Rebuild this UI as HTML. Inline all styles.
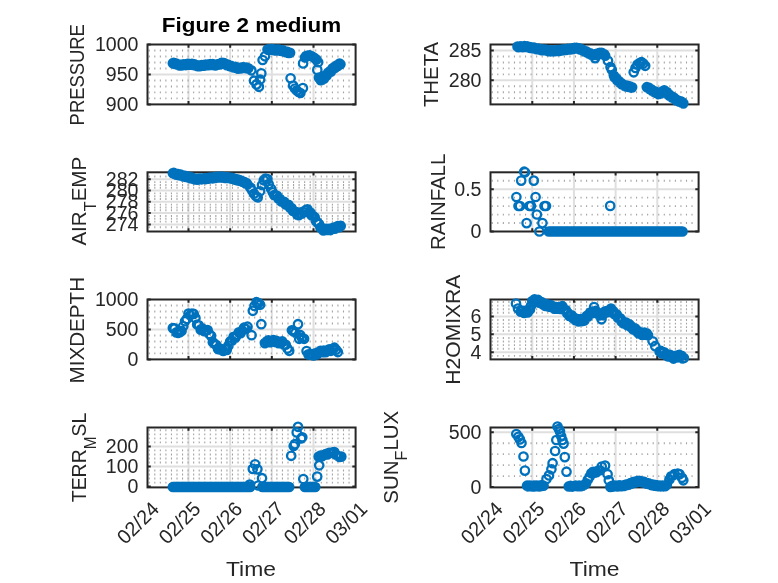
<!DOCTYPE html>
<html><head><meta charset="utf-8"><style>
html,body{margin:0;padding:0;background:#fff;width:778px;height:583px;overflow:hidden}
svg{display:block;font-family:"Liberation Sans", sans-serif;will-change:transform}
</style></head><body>
<svg width="778" height="583" viewBox="0 0 778 583">
<rect x="0" y="0" width="778" height="583" fill="#fff"/>
<path d="M147.50 74.45H355.60M188.50 44.50V104.40M230.17 44.50V104.40M271.84 44.50V104.40M313.51 44.50V104.40" stroke="#dfdfdf" stroke-width="2" fill="none"/>
<path d="M148.70 97.46h1.1v1.9h-1.1zM154.25 97.46h1.1v1.9h-1.1zM159.80 97.46h1.1v1.9h-1.1zM165.35 97.46h1.1v1.9h-1.1zM170.90 97.46h1.1v1.9h-1.1zM176.45 97.46h1.1v1.9h-1.1zM182.00 97.46h1.1v1.9h-1.1zM187.55 97.46h1.1v1.9h-1.1zM193.10 97.46h1.1v1.9h-1.1zM198.65 97.46h1.1v1.9h-1.1zM204.20 97.46h1.1v1.9h-1.1zM209.75 97.46h1.1v1.9h-1.1zM215.30 97.46h1.1v1.9h-1.1zM220.85 97.46h1.1v1.9h-1.1zM226.40 97.46h1.1v1.9h-1.1zM231.95 97.46h1.1v1.9h-1.1zM237.50 97.46h1.1v1.9h-1.1zM243.05 97.46h1.1v1.9h-1.1zM248.60 97.46h1.1v1.9h-1.1zM254.15 97.46h1.1v1.9h-1.1zM259.70 97.46h1.1v1.9h-1.1zM265.25 97.46h1.1v1.9h-1.1zM270.80 97.46h1.1v1.9h-1.1zM276.35 97.46h1.1v1.9h-1.1zM281.90 97.46h1.1v1.9h-1.1zM287.45 97.46h1.1v1.9h-1.1zM293.00 97.46h1.1v1.9h-1.1zM298.55 97.46h1.1v1.9h-1.1zM304.10 97.46h1.1v1.9h-1.1zM309.65 97.46h1.1v1.9h-1.1zM315.20 97.46h1.1v1.9h-1.1zM320.75 97.46h1.1v1.9h-1.1zM326.30 97.46h1.1v1.9h-1.1zM331.85 97.46h1.1v1.9h-1.1zM337.40 97.46h1.1v1.9h-1.1zM342.95 97.46h1.1v1.9h-1.1zM348.50 97.46h1.1v1.9h-1.1zM148.70 91.47h1.1v1.9h-1.1zM154.25 91.47h1.1v1.9h-1.1zM159.80 91.47h1.1v1.9h-1.1zM165.35 91.47h1.1v1.9h-1.1zM170.90 91.47h1.1v1.9h-1.1zM176.45 91.47h1.1v1.9h-1.1zM182.00 91.47h1.1v1.9h-1.1zM187.55 91.47h1.1v1.9h-1.1zM193.10 91.47h1.1v1.9h-1.1zM198.65 91.47h1.1v1.9h-1.1zM204.20 91.47h1.1v1.9h-1.1zM209.75 91.47h1.1v1.9h-1.1zM215.30 91.47h1.1v1.9h-1.1zM220.85 91.47h1.1v1.9h-1.1zM226.40 91.47h1.1v1.9h-1.1zM231.95 91.47h1.1v1.9h-1.1zM237.50 91.47h1.1v1.9h-1.1zM243.05 91.47h1.1v1.9h-1.1zM248.60 91.47h1.1v1.9h-1.1zM254.15 91.47h1.1v1.9h-1.1zM259.70 91.47h1.1v1.9h-1.1zM265.25 91.47h1.1v1.9h-1.1zM270.80 91.47h1.1v1.9h-1.1zM276.35 91.47h1.1v1.9h-1.1zM281.90 91.47h1.1v1.9h-1.1zM287.45 91.47h1.1v1.9h-1.1zM293.00 91.47h1.1v1.9h-1.1zM298.55 91.47h1.1v1.9h-1.1zM304.10 91.47h1.1v1.9h-1.1zM309.65 91.47h1.1v1.9h-1.1zM315.20 91.47h1.1v1.9h-1.1zM320.75 91.47h1.1v1.9h-1.1zM326.30 91.47h1.1v1.9h-1.1zM331.85 91.47h1.1v1.9h-1.1zM337.40 91.47h1.1v1.9h-1.1zM342.95 91.47h1.1v1.9h-1.1zM348.50 91.47h1.1v1.9h-1.1zM148.70 85.48h1.1v1.9h-1.1zM154.25 85.48h1.1v1.9h-1.1zM159.80 85.48h1.1v1.9h-1.1zM165.35 85.48h1.1v1.9h-1.1zM170.90 85.48h1.1v1.9h-1.1zM176.45 85.48h1.1v1.9h-1.1zM182.00 85.48h1.1v1.9h-1.1zM187.55 85.48h1.1v1.9h-1.1zM193.10 85.48h1.1v1.9h-1.1zM198.65 85.48h1.1v1.9h-1.1zM204.20 85.48h1.1v1.9h-1.1zM209.75 85.48h1.1v1.9h-1.1zM215.30 85.48h1.1v1.9h-1.1zM220.85 85.48h1.1v1.9h-1.1zM226.40 85.48h1.1v1.9h-1.1zM231.95 85.48h1.1v1.9h-1.1zM237.50 85.48h1.1v1.9h-1.1zM243.05 85.48h1.1v1.9h-1.1zM248.60 85.48h1.1v1.9h-1.1zM254.15 85.48h1.1v1.9h-1.1zM259.70 85.48h1.1v1.9h-1.1zM265.25 85.48h1.1v1.9h-1.1zM270.80 85.48h1.1v1.9h-1.1zM276.35 85.48h1.1v1.9h-1.1zM281.90 85.48h1.1v1.9h-1.1zM287.45 85.48h1.1v1.9h-1.1zM293.00 85.48h1.1v1.9h-1.1zM298.55 85.48h1.1v1.9h-1.1zM304.10 85.48h1.1v1.9h-1.1zM309.65 85.48h1.1v1.9h-1.1zM315.20 85.48h1.1v1.9h-1.1zM320.75 85.48h1.1v1.9h-1.1zM326.30 85.48h1.1v1.9h-1.1zM331.85 85.48h1.1v1.9h-1.1zM337.40 85.48h1.1v1.9h-1.1zM342.95 85.48h1.1v1.9h-1.1zM348.50 85.48h1.1v1.9h-1.1zM148.70 79.49h1.1v1.9h-1.1zM154.25 79.49h1.1v1.9h-1.1zM159.80 79.49h1.1v1.9h-1.1zM165.35 79.49h1.1v1.9h-1.1zM170.90 79.49h1.1v1.9h-1.1zM176.45 79.49h1.1v1.9h-1.1zM182.00 79.49h1.1v1.9h-1.1zM187.55 79.49h1.1v1.9h-1.1zM193.10 79.49h1.1v1.9h-1.1zM198.65 79.49h1.1v1.9h-1.1zM204.20 79.49h1.1v1.9h-1.1zM209.75 79.49h1.1v1.9h-1.1zM215.30 79.49h1.1v1.9h-1.1zM220.85 79.49h1.1v1.9h-1.1zM226.40 79.49h1.1v1.9h-1.1zM231.95 79.49h1.1v1.9h-1.1zM237.50 79.49h1.1v1.9h-1.1zM243.05 79.49h1.1v1.9h-1.1zM248.60 79.49h1.1v1.9h-1.1zM254.15 79.49h1.1v1.9h-1.1zM259.70 79.49h1.1v1.9h-1.1zM265.25 79.49h1.1v1.9h-1.1zM270.80 79.49h1.1v1.9h-1.1zM276.35 79.49h1.1v1.9h-1.1zM281.90 79.49h1.1v1.9h-1.1zM287.45 79.49h1.1v1.9h-1.1zM293.00 79.49h1.1v1.9h-1.1zM298.55 79.49h1.1v1.9h-1.1zM304.10 79.49h1.1v1.9h-1.1zM309.65 79.49h1.1v1.9h-1.1zM315.20 79.49h1.1v1.9h-1.1zM320.75 79.49h1.1v1.9h-1.1zM326.30 79.49h1.1v1.9h-1.1zM331.85 79.49h1.1v1.9h-1.1zM337.40 79.49h1.1v1.9h-1.1zM342.95 79.49h1.1v1.9h-1.1zM348.50 79.49h1.1v1.9h-1.1zM148.70 67.51h1.1v1.9h-1.1zM154.25 67.51h1.1v1.9h-1.1zM159.80 67.51h1.1v1.9h-1.1zM165.35 67.51h1.1v1.9h-1.1zM170.90 67.51h1.1v1.9h-1.1zM176.45 67.51h1.1v1.9h-1.1zM182.00 67.51h1.1v1.9h-1.1zM187.55 67.51h1.1v1.9h-1.1zM193.10 67.51h1.1v1.9h-1.1zM198.65 67.51h1.1v1.9h-1.1zM204.20 67.51h1.1v1.9h-1.1zM209.75 67.51h1.1v1.9h-1.1zM215.30 67.51h1.1v1.9h-1.1zM220.85 67.51h1.1v1.9h-1.1zM226.40 67.51h1.1v1.9h-1.1zM231.95 67.51h1.1v1.9h-1.1zM237.50 67.51h1.1v1.9h-1.1zM243.05 67.51h1.1v1.9h-1.1zM248.60 67.51h1.1v1.9h-1.1zM254.15 67.51h1.1v1.9h-1.1zM259.70 67.51h1.1v1.9h-1.1zM265.25 67.51h1.1v1.9h-1.1zM270.80 67.51h1.1v1.9h-1.1zM276.35 67.51h1.1v1.9h-1.1zM281.90 67.51h1.1v1.9h-1.1zM287.45 67.51h1.1v1.9h-1.1zM293.00 67.51h1.1v1.9h-1.1zM298.55 67.51h1.1v1.9h-1.1zM304.10 67.51h1.1v1.9h-1.1zM309.65 67.51h1.1v1.9h-1.1zM315.20 67.51h1.1v1.9h-1.1zM320.75 67.51h1.1v1.9h-1.1zM326.30 67.51h1.1v1.9h-1.1zM331.85 67.51h1.1v1.9h-1.1zM337.40 67.51h1.1v1.9h-1.1zM342.95 67.51h1.1v1.9h-1.1zM348.50 67.51h1.1v1.9h-1.1zM148.70 61.52h1.1v1.9h-1.1zM154.25 61.52h1.1v1.9h-1.1zM159.80 61.52h1.1v1.9h-1.1zM165.35 61.52h1.1v1.9h-1.1zM170.90 61.52h1.1v1.9h-1.1zM176.45 61.52h1.1v1.9h-1.1zM182.00 61.52h1.1v1.9h-1.1zM187.55 61.52h1.1v1.9h-1.1zM193.10 61.52h1.1v1.9h-1.1zM198.65 61.52h1.1v1.9h-1.1zM204.20 61.52h1.1v1.9h-1.1zM209.75 61.52h1.1v1.9h-1.1zM215.30 61.52h1.1v1.9h-1.1zM220.85 61.52h1.1v1.9h-1.1zM226.40 61.52h1.1v1.9h-1.1zM231.95 61.52h1.1v1.9h-1.1zM237.50 61.52h1.1v1.9h-1.1zM243.05 61.52h1.1v1.9h-1.1zM248.60 61.52h1.1v1.9h-1.1zM254.15 61.52h1.1v1.9h-1.1zM259.70 61.52h1.1v1.9h-1.1zM265.25 61.52h1.1v1.9h-1.1zM270.80 61.52h1.1v1.9h-1.1zM276.35 61.52h1.1v1.9h-1.1zM281.90 61.52h1.1v1.9h-1.1zM287.45 61.52h1.1v1.9h-1.1zM293.00 61.52h1.1v1.9h-1.1zM298.55 61.52h1.1v1.9h-1.1zM304.10 61.52h1.1v1.9h-1.1zM309.65 61.52h1.1v1.9h-1.1zM315.20 61.52h1.1v1.9h-1.1zM320.75 61.52h1.1v1.9h-1.1zM326.30 61.52h1.1v1.9h-1.1zM331.85 61.52h1.1v1.9h-1.1zM337.40 61.52h1.1v1.9h-1.1zM342.95 61.52h1.1v1.9h-1.1zM348.50 61.52h1.1v1.9h-1.1zM148.70 55.53h1.1v1.9h-1.1zM154.25 55.53h1.1v1.9h-1.1zM159.80 55.53h1.1v1.9h-1.1zM165.35 55.53h1.1v1.9h-1.1zM170.90 55.53h1.1v1.9h-1.1zM176.45 55.53h1.1v1.9h-1.1zM182.00 55.53h1.1v1.9h-1.1zM187.55 55.53h1.1v1.9h-1.1zM193.10 55.53h1.1v1.9h-1.1zM198.65 55.53h1.1v1.9h-1.1zM204.20 55.53h1.1v1.9h-1.1zM209.75 55.53h1.1v1.9h-1.1zM215.30 55.53h1.1v1.9h-1.1zM220.85 55.53h1.1v1.9h-1.1zM226.40 55.53h1.1v1.9h-1.1zM231.95 55.53h1.1v1.9h-1.1zM237.50 55.53h1.1v1.9h-1.1zM243.05 55.53h1.1v1.9h-1.1zM248.60 55.53h1.1v1.9h-1.1zM254.15 55.53h1.1v1.9h-1.1zM259.70 55.53h1.1v1.9h-1.1zM265.25 55.53h1.1v1.9h-1.1zM270.80 55.53h1.1v1.9h-1.1zM276.35 55.53h1.1v1.9h-1.1zM281.90 55.53h1.1v1.9h-1.1zM287.45 55.53h1.1v1.9h-1.1zM293.00 55.53h1.1v1.9h-1.1zM298.55 55.53h1.1v1.9h-1.1zM304.10 55.53h1.1v1.9h-1.1zM309.65 55.53h1.1v1.9h-1.1zM315.20 55.53h1.1v1.9h-1.1zM320.75 55.53h1.1v1.9h-1.1zM326.30 55.53h1.1v1.9h-1.1zM331.85 55.53h1.1v1.9h-1.1zM337.40 55.53h1.1v1.9h-1.1zM342.95 55.53h1.1v1.9h-1.1zM348.50 55.53h1.1v1.9h-1.1zM148.70 49.54h1.1v1.9h-1.1zM154.25 49.54h1.1v1.9h-1.1zM159.80 49.54h1.1v1.9h-1.1zM165.35 49.54h1.1v1.9h-1.1zM170.90 49.54h1.1v1.9h-1.1zM176.45 49.54h1.1v1.9h-1.1zM182.00 49.54h1.1v1.9h-1.1zM187.55 49.54h1.1v1.9h-1.1zM193.10 49.54h1.1v1.9h-1.1zM198.65 49.54h1.1v1.9h-1.1zM204.20 49.54h1.1v1.9h-1.1zM209.75 49.54h1.1v1.9h-1.1zM215.30 49.54h1.1v1.9h-1.1zM220.85 49.54h1.1v1.9h-1.1zM226.40 49.54h1.1v1.9h-1.1zM231.95 49.54h1.1v1.9h-1.1zM237.50 49.54h1.1v1.9h-1.1zM243.05 49.54h1.1v1.9h-1.1zM248.60 49.54h1.1v1.9h-1.1zM254.15 49.54h1.1v1.9h-1.1zM259.70 49.54h1.1v1.9h-1.1zM265.25 49.54h1.1v1.9h-1.1zM270.80 49.54h1.1v1.9h-1.1zM276.35 49.54h1.1v1.9h-1.1zM281.90 49.54h1.1v1.9h-1.1zM287.45 49.54h1.1v1.9h-1.1zM293.00 49.54h1.1v1.9h-1.1zM298.55 49.54h1.1v1.9h-1.1zM304.10 49.54h1.1v1.9h-1.1zM309.65 49.54h1.1v1.9h-1.1zM315.20 49.54h1.1v1.9h-1.1zM320.75 49.54h1.1v1.9h-1.1zM326.30 49.54h1.1v1.9h-1.1zM331.85 49.54h1.1v1.9h-1.1zM337.40 49.54h1.1v1.9h-1.1zM342.95 49.54h1.1v1.9h-1.1zM348.50 49.54h1.1v1.9h-1.1z" fill="#a4a4a4"/>
<path d="M147.50 104.40h3.3M355.60 104.40h-3.3M147.50 74.45h3.3M355.60 74.45h-3.3M147.50 44.50h3.3M355.60 44.50h-3.3M188.50 104.40v-3.3M188.50 44.50v3.3M230.17 104.40v-3.3M230.17 44.50v3.3M271.84 104.40v-3.3M271.84 44.50v3.3M313.51 104.40v-3.3M313.51 44.50v3.3" stroke="#262626" stroke-width="2" fill="none"/>
<rect x="147.5" y="44.5" width="208.10" height="59.90" stroke="#262626" stroke-width="2" fill="none"/>
<path d="M177.07 63.19a4.2 4.2 0 1 0 -8.4 0a4.2 4.2 0 1 0 8.4 0zM177.94 62.98a4.2 4.2 0 1 0 -8.4 0a4.2 4.2 0 1 0 8.4 0zM178.81 63.97a4.2 4.2 0 1 0 -8.4 0a4.2 4.2 0 1 0 8.4 0zM179.68 63.76a4.2 4.2 0 1 0 -8.4 0a4.2 4.2 0 1 0 8.4 0zM180.55 63.55a4.2 4.2 0 1 0 -8.4 0a4.2 4.2 0 1 0 8.4 0zM181.41 64.54a4.2 4.2 0 1 0 -8.4 0a4.2 4.2 0 1 0 8.4 0zM182.28 64.33a4.2 4.2 0 1 0 -8.4 0a4.2 4.2 0 1 0 8.4 0zM183.15 65.32a4.2 4.2 0 1 0 -8.4 0a4.2 4.2 0 1 0 8.4 0zM184.02 65.11a4.2 4.2 0 1 0 -8.4 0a4.2 4.2 0 1 0 8.4 0zM184.89 64.78a4.2 4.2 0 1 0 -8.4 0a4.2 4.2 0 1 0 8.4 0zM185.75 65.42a4.2 4.2 0 1 0 -8.4 0a4.2 4.2 0 1 0 8.4 0zM186.62 64.86a4.2 4.2 0 1 0 -8.4 0a4.2 4.2 0 1 0 8.4 0zM187.49 64.30a4.2 4.2 0 1 0 -8.4 0a4.2 4.2 0 1 0 8.4 0zM188.36 64.94a4.2 4.2 0 1 0 -8.4 0a4.2 4.2 0 1 0 8.4 0zM189.23 64.39a4.2 4.2 0 1 0 -8.4 0a4.2 4.2 0 1 0 8.4 0zM190.10 65.03a4.2 4.2 0 1 0 -8.4 0a4.2 4.2 0 1 0 8.4 0zM190.96 64.47a4.2 4.2 0 1 0 -8.4 0a4.2 4.2 0 1 0 8.4 0zM191.83 63.91a4.2 4.2 0 1 0 -8.4 0a4.2 4.2 0 1 0 8.4 0zM192.70 64.55a4.2 4.2 0 1 0 -8.4 0a4.2 4.2 0 1 0 8.4 0zM193.57 63.99a4.2 4.2 0 1 0 -8.4 0a4.2 4.2 0 1 0 8.4 0zM194.44 64.63a4.2 4.2 0 1 0 -8.4 0a4.2 4.2 0 1 0 8.4 0zM195.30 64.21a4.2 4.2 0 1 0 -8.4 0a4.2 4.2 0 1 0 8.4 0zM196.17 63.97a4.2 4.2 0 1 0 -8.4 0a4.2 4.2 0 1 0 8.4 0zM197.04 64.92a4.2 4.2 0 1 0 -8.4 0a4.2 4.2 0 1 0 8.4 0zM197.91 64.67a4.2 4.2 0 1 0 -8.4 0a4.2 4.2 0 1 0 8.4 0zM198.78 64.43a4.2 4.2 0 1 0 -8.4 0a4.2 4.2 0 1 0 8.4 0zM199.65 65.38a4.2 4.2 0 1 0 -8.4 0a4.2 4.2 0 1 0 8.4 0zM200.51 65.13a4.2 4.2 0 1 0 -8.4 0a4.2 4.2 0 1 0 8.4 0zM201.38 66.09a4.2 4.2 0 1 0 -8.4 0a4.2 4.2 0 1 0 8.4 0zM202.25 65.84a4.2 4.2 0 1 0 -8.4 0a4.2 4.2 0 1 0 8.4 0zM203.12 65.59a4.2 4.2 0 1 0 -8.4 0a4.2 4.2 0 1 0 8.4 0zM203.99 66.20a4.2 4.2 0 1 0 -8.4 0a4.2 4.2 0 1 0 8.4 0zM204.85 65.62a4.2 4.2 0 1 0 -8.4 0a4.2 4.2 0 1 0 8.4 0zM205.72 65.03a4.2 4.2 0 1 0 -8.4 0a4.2 4.2 0 1 0 8.4 0zM206.59 65.65a4.2 4.2 0 1 0 -8.4 0a4.2 4.2 0 1 0 8.4 0zM207.46 65.06a4.2 4.2 0 1 0 -8.4 0a4.2 4.2 0 1 0 8.4 0zM208.33 65.68a4.2 4.2 0 1 0 -8.4 0a4.2 4.2 0 1 0 8.4 0zM209.19 65.09a4.2 4.2 0 1 0 -8.4 0a4.2 4.2 0 1 0 8.4 0zM210.06 64.51a4.2 4.2 0 1 0 -8.4 0a4.2 4.2 0 1 0 8.4 0zM210.93 65.13a4.2 4.2 0 1 0 -8.4 0a4.2 4.2 0 1 0 8.4 0zM211.80 64.54a4.2 4.2 0 1 0 -8.4 0a4.2 4.2 0 1 0 8.4 0zM212.67 65.16a4.2 4.2 0 1 0 -8.4 0a4.2 4.2 0 1 0 8.4 0zM213.53 64.60a4.2 4.2 0 1 0 -8.4 0a4.2 4.2 0 1 0 8.4 0zM214.40 64.20a4.2 4.2 0 1 0 -8.4 0a4.2 4.2 0 1 0 8.4 0zM215.27 65.00a4.2 4.2 0 1 0 -8.4 0a4.2 4.2 0 1 0 8.4 0zM216.14 64.61a4.2 4.2 0 1 0 -8.4 0a4.2 4.2 0 1 0 8.4 0zM217.01 64.21a4.2 4.2 0 1 0 -8.4 0a4.2 4.2 0 1 0 8.4 0zM217.88 65.01a4.2 4.2 0 1 0 -8.4 0a4.2 4.2 0 1 0 8.4 0zM218.74 64.61a4.2 4.2 0 1 0 -8.4 0a4.2 4.2 0 1 0 8.4 0zM219.61 65.41a4.2 4.2 0 1 0 -8.4 0a4.2 4.2 0 1 0 8.4 0zM220.48 65.02a4.2 4.2 0 1 0 -8.4 0a4.2 4.2 0 1 0 8.4 0zM221.35 64.31a4.2 4.2 0 1 0 -8.4 0a4.2 4.2 0 1 0 8.4 0zM222.22 64.76a4.2 4.2 0 1 0 -8.4 0a4.2 4.2 0 1 0 8.4 0zM223.08 64.01a4.2 4.2 0 1 0 -8.4 0a4.2 4.2 0 1 0 8.4 0zM223.95 64.45a4.2 4.2 0 1 0 -8.4 0a4.2 4.2 0 1 0 8.4 0zM224.82 63.70a4.2 4.2 0 1 0 -8.4 0a4.2 4.2 0 1 0 8.4 0zM225.69 62.95a4.2 4.2 0 1 0 -8.4 0a4.2 4.2 0 1 0 8.4 0zM226.56 63.40a4.2 4.2 0 1 0 -8.4 0a4.2 4.2 0 1 0 8.4 0zM227.43 63.12a4.2 4.2 0 1 0 -8.4 0a4.2 4.2 0 1 0 8.4 0zM228.29 63.02a4.2 4.2 0 1 0 -8.4 0a4.2 4.2 0 1 0 8.4 0zM229.16 64.12a4.2 4.2 0 1 0 -8.4 0a4.2 4.2 0 1 0 8.4 0zM230.03 64.02a4.2 4.2 0 1 0 -8.4 0a4.2 4.2 0 1 0 8.4 0zM230.90 65.12a4.2 4.2 0 1 0 -8.4 0a4.2 4.2 0 1 0 8.4 0zM231.77 65.02a4.2 4.2 0 1 0 -8.4 0a4.2 4.2 0 1 0 8.4 0zM232.63 64.93a4.2 4.2 0 1 0 -8.4 0a4.2 4.2 0 1 0 8.4 0zM233.50 66.03a4.2 4.2 0 1 0 -8.4 0a4.2 4.2 0 1 0 8.4 0zM234.37 65.93a4.2 4.2 0 1 0 -8.4 0a4.2 4.2 0 1 0 8.4 0zM235.24 65.79a4.2 4.2 0 1 0 -8.4 0a4.2 4.2 0 1 0 8.4 0zM236.11 66.74a4.2 4.2 0 1 0 -8.4 0a4.2 4.2 0 1 0 8.4 0zM236.97 66.50a4.2 4.2 0 1 0 -8.4 0a4.2 4.2 0 1 0 8.4 0zM237.84 67.45a4.2 4.2 0 1 0 -8.4 0a4.2 4.2 0 1 0 8.4 0zM238.71 67.20a4.2 4.2 0 1 0 -8.4 0a4.2 4.2 0 1 0 8.4 0zM239.58 66.96a4.2 4.2 0 1 0 -8.4 0a4.2 4.2 0 1 0 8.4 0zM240.45 67.91a4.2 4.2 0 1 0 -8.4 0a4.2 4.2 0 1 0 8.4 0zM241.31 67.66a4.2 4.2 0 1 0 -8.4 0a4.2 4.2 0 1 0 8.4 0zM242.18 68.62a4.2 4.2 0 1 0 -8.4 0a4.2 4.2 0 1 0 8.4 0zM243.05 68.37a4.2 4.2 0 1 0 -8.4 0a4.2 4.2 0 1 0 8.4 0zM243.92 67.85a4.2 4.2 0 1 0 -8.4 0a4.2 4.2 0 1 0 8.4 0zM244.79 68.48a4.2 4.2 0 1 0 -8.4 0a4.2 4.2 0 1 0 8.4 0zM245.66 67.90a4.2 4.2 0 1 0 -8.4 0a4.2 4.2 0 1 0 8.4 0zM246.52 67.33a4.2 4.2 0 1 0 -8.4 0a4.2 4.2 0 1 0 8.4 0zM247.39 67.96a4.2 4.2 0 1 0 -8.4 0a4.2 4.2 0 1 0 8.4 0zM248.26 67.38a4.2 4.2 0 1 0 -8.4 0a4.2 4.2 0 1 0 8.4 0zM249.13 68.01a4.2 4.2 0 1 0 -8.4 0a4.2 4.2 0 1 0 8.4 0zM250.00 67.76a4.2 4.2 0 1 0 -8.4 0a4.2 4.2 0 1 0 8.4 0zM250.86 67.54a4.2 4.2 0 1 0 -8.4 0a4.2 4.2 0 1 0 8.4 0zM251.73 68.52a4.2 4.2 0 1 0 -8.4 0a4.2 4.2 0 1 0 8.4 0zM252.60 68.30a4.2 4.2 0 1 0 -8.4 0a4.2 4.2 0 1 0 8.4 0zM255.50 70.30a4.2 4.2 0 1 0 -8.4 0a4.2 4.2 0 1 0 8.4 0zM258.20 80.70a4.2 4.2 0 1 0 -8.4 0a4.2 4.2 0 1 0 8.4 0zM260.70 84.40a4.2 4.2 0 1 0 -8.4 0a4.2 4.2 0 1 0 8.4 0zM263.10 86.80a4.2 4.2 0 1 0 -8.4 0a4.2 4.2 0 1 0 8.4 0zM264.30 79.50a4.2 4.2 0 1 0 -8.4 0a4.2 4.2 0 1 0 8.4 0zM265.50 73.40a4.2 4.2 0 1 0 -8.4 0a4.2 4.2 0 1 0 8.4 0zM266.80 60.00a4.2 4.2 0 1 0 -8.4 0a4.2 4.2 0 1 0 8.4 0zM269.20 56.30a4.2 4.2 0 1 0 -8.4 0a4.2 4.2 0 1 0 8.4 0zM271.70 49.57a4.2 4.2 0 1 0 -8.4 0a4.2 4.2 0 1 0 8.4 0zM272.57 50.01a4.2 4.2 0 1 0 -8.4 0a4.2 4.2 0 1 0 8.4 0zM273.44 49.25a4.2 4.2 0 1 0 -8.4 0a4.2 4.2 0 1 0 8.4 0zM274.30 49.74a4.2 4.2 0 1 0 -8.4 0a4.2 4.2 0 1 0 8.4 0zM275.17 49.37a4.2 4.2 0 1 0 -8.4 0a4.2 4.2 0 1 0 8.4 0zM276.04 49.00a4.2 4.2 0 1 0 -8.4 0a4.2 4.2 0 1 0 8.4 0zM276.91 49.83a4.2 4.2 0 1 0 -8.4 0a4.2 4.2 0 1 0 8.4 0zM277.78 49.46a4.2 4.2 0 1 0 -8.4 0a4.2 4.2 0 1 0 8.4 0zM278.64 50.29a4.2 4.2 0 1 0 -8.4 0a4.2 4.2 0 1 0 8.4 0zM279.51 49.93a4.2 4.2 0 1 0 -8.4 0a4.2 4.2 0 1 0 8.4 0zM280.38 49.56a4.2 4.2 0 1 0 -8.4 0a4.2 4.2 0 1 0 8.4 0zM281.25 50.39a4.2 4.2 0 1 0 -8.4 0a4.2 4.2 0 1 0 8.4 0zM282.12 50.02a4.2 4.2 0 1 0 -8.4 0a4.2 4.2 0 1 0 8.4 0zM282.99 49.65a4.2 4.2 0 1 0 -8.4 0a4.2 4.2 0 1 0 8.4 0zM283.85 50.48a4.2 4.2 0 1 0 -8.4 0a4.2 4.2 0 1 0 8.4 0zM284.72 50.11a4.2 4.2 0 1 0 -8.4 0a4.2 4.2 0 1 0 8.4 0zM285.59 50.94a4.2 4.2 0 1 0 -8.4 0a4.2 4.2 0 1 0 8.4 0zM286.46 50.67a4.2 4.2 0 1 0 -8.4 0a4.2 4.2 0 1 0 8.4 0zM287.33 50.46a4.2 4.2 0 1 0 -8.4 0a4.2 4.2 0 1 0 8.4 0zM288.19 51.45a4.2 4.2 0 1 0 -8.4 0a4.2 4.2 0 1 0 8.4 0zM289.06 51.23a4.2 4.2 0 1 0 -8.4 0a4.2 4.2 0 1 0 8.4 0zM289.93 52.22a4.2 4.2 0 1 0 -8.4 0a4.2 4.2 0 1 0 8.4 0zM290.80 52.01a4.2 4.2 0 1 0 -8.4 0a4.2 4.2 0 1 0 8.4 0zM291.67 51.86a4.2 4.2 0 1 0 -8.4 0a4.2 4.2 0 1 0 8.4 0zM292.53 52.98a4.2 4.2 0 1 0 -8.4 0a4.2 4.2 0 1 0 8.4 0zM293.40 52.89a4.2 4.2 0 1 0 -8.4 0a4.2 4.2 0 1 0 8.4 0zM294.27 52.80a4.2 4.2 0 1 0 -8.4 0a4.2 4.2 0 1 0 8.4 0zM294.80 78.30a4.2 4.2 0 1 0 -8.4 0a4.2 4.2 0 1 0 8.4 0zM297.30 85.60a4.2 4.2 0 1 0 -8.4 0a4.2 4.2 0 1 0 8.4 0zM299.20 88.50a4.2 4.2 0 1 0 -8.4 0a4.2 4.2 0 1 0 8.4 0zM301.00 90.50a4.2 4.2 0 1 0 -8.4 0a4.2 4.2 0 1 0 8.4 0zM302.80 92.00a4.2 4.2 0 1 0 -8.4 0a4.2 4.2 0 1 0 8.4 0zM304.60 93.00a4.2 4.2 0 1 0 -8.4 0a4.2 4.2 0 1 0 8.4 0zM307.10 88.10a4.2 4.2 0 1 0 -8.4 0a4.2 4.2 0 1 0 8.4 0zM307.30 63.40a4.2 4.2 0 1 0 -8.4 0a4.2 4.2 0 1 0 8.4 0zM309.20 57.50a4.2 4.2 0 1 0 -8.4 0a4.2 4.2 0 1 0 8.4 0zM310.30 56.10a4.2 4.2 0 1 0 -8.4 0a4.2 4.2 0 1 0 8.4 0zM312.00 55.50a4.2 4.2 0 1 0 -8.4 0a4.2 4.2 0 1 0 8.4 0zM313.80 55.30a4.2 4.2 0 1 0 -8.4 0a4.2 4.2 0 1 0 8.4 0zM315.50 56.00a4.2 4.2 0 1 0 -8.4 0a4.2 4.2 0 1 0 8.4 0zM317.20 57.00a4.2 4.2 0 1 0 -8.4 0a4.2 4.2 0 1 0 8.4 0zM318.90 58.20a4.2 4.2 0 1 0 -8.4 0a4.2 4.2 0 1 0 8.4 0zM320.60 59.60a4.2 4.2 0 1 0 -8.4 0a4.2 4.2 0 1 0 8.4 0zM322.40 62.20a4.2 4.2 0 1 0 -8.4 0a4.2 4.2 0 1 0 8.4 0zM321.50 69.90a4.2 4.2 0 1 0 -8.4 0a4.2 4.2 0 1 0 8.4 0zM323.20 77.60a4.2 4.2 0 1 0 -8.4 0a4.2 4.2 0 1 0 8.4 0zM324.20 79.00a4.2 4.2 0 1 0 -8.4 0a4.2 4.2 0 1 0 8.4 0zM324.90 80.20a4.2 4.2 0 1 0 -8.4 0a4.2 4.2 0 1 0 8.4 0zM326.39 79.77a4.2 4.2 0 1 0 -8.4 0a4.2 4.2 0 1 0 8.4 0zM327.26 78.23a4.2 4.2 0 1 0 -8.4 0a4.2 4.2 0 1 0 8.4 0zM328.13 78.70a4.2 4.2 0 1 0 -8.4 0a4.2 4.2 0 1 0 8.4 0zM329.00 77.08a4.2 4.2 0 1 0 -8.4 0a4.2 4.2 0 1 0 8.4 0zM329.86 75.44a4.2 4.2 0 1 0 -8.4 0a4.2 4.2 0 1 0 8.4 0zM330.73 75.79a4.2 4.2 0 1 0 -8.4 0a4.2 4.2 0 1 0 8.4 0zM331.60 74.14a4.2 4.2 0 1 0 -8.4 0a4.2 4.2 0 1 0 8.4 0zM332.47 72.49a4.2 4.2 0 1 0 -8.4 0a4.2 4.2 0 1 0 8.4 0zM333.34 72.84a4.2 4.2 0 1 0 -8.4 0a4.2 4.2 0 1 0 8.4 0zM334.20 71.22a4.2 4.2 0 1 0 -8.4 0a4.2 4.2 0 1 0 8.4 0zM335.07 71.60a4.2 4.2 0 1 0 -8.4 0a4.2 4.2 0 1 0 8.4 0zM335.94 69.99a4.2 4.2 0 1 0 -8.4 0a4.2 4.2 0 1 0 8.4 0zM336.81 68.37a4.2 4.2 0 1 0 -8.4 0a4.2 4.2 0 1 0 8.4 0zM337.68 68.76a4.2 4.2 0 1 0 -8.4 0a4.2 4.2 0 1 0 8.4 0zM338.55 67.14a4.2 4.2 0 1 0 -8.4 0a4.2 4.2 0 1 0 8.4 0zM339.41 67.82a4.2 4.2 0 1 0 -8.4 0a4.2 4.2 0 1 0 8.4 0zM340.28 66.56a4.2 4.2 0 1 0 -8.4 0a4.2 4.2 0 1 0 8.4 0zM341.15 65.31a4.2 4.2 0 1 0 -8.4 0a4.2 4.2 0 1 0 8.4 0zM342.02 66.05a4.2 4.2 0 1 0 -8.4 0a4.2 4.2 0 1 0 8.4 0zM342.89 64.80a4.2 4.2 0 1 0 -8.4 0a4.2 4.2 0 1 0 8.4 0zM343.75 63.54a4.2 4.2 0 1 0 -8.4 0a4.2 4.2 0 1 0 8.4 0zM344.62 64.29a4.2 4.2 0 1 0 -8.4 0a4.2 4.2 0 1 0 8.4 0z" stroke="#0072BD" stroke-width="2.3" fill="none"/>
<text transform="translate(138.50,51.00) scale(1.01,1)" text-anchor="end" font-size="19.4" fill="#262626">1000</text>
<text transform="translate(138.50,80.95) scale(1.01,1)" text-anchor="end" font-size="19.4" fill="#262626">950</text>
<text transform="translate(138.50,110.90) scale(1.01,1)" text-anchor="end" font-size="19.4" fill="#262626">900</text>
<path d="M490.50 80.30H698.60M490.50 50.60H698.60M532.27 44.50V104.40M573.94 44.50V104.40M615.61 44.50V104.40M657.28 44.50V104.40" stroke="#dfdfdf" stroke-width="2" fill="none"/>
<path d="M491.70 97.17h1.1v1.9h-1.1zM497.25 97.17h1.1v1.9h-1.1zM502.80 97.17h1.1v1.9h-1.1zM508.35 97.17h1.1v1.9h-1.1zM513.90 97.17h1.1v1.9h-1.1zM519.45 97.17h1.1v1.9h-1.1zM525.00 97.17h1.1v1.9h-1.1zM530.55 97.17h1.1v1.9h-1.1zM536.10 97.17h1.1v1.9h-1.1zM541.65 97.17h1.1v1.9h-1.1zM547.20 97.17h1.1v1.9h-1.1zM552.75 97.17h1.1v1.9h-1.1zM558.30 97.17h1.1v1.9h-1.1zM563.85 97.17h1.1v1.9h-1.1zM569.40 97.17h1.1v1.9h-1.1zM574.95 97.17h1.1v1.9h-1.1zM580.50 97.17h1.1v1.9h-1.1zM586.05 97.17h1.1v1.9h-1.1zM591.60 97.17h1.1v1.9h-1.1zM597.15 97.17h1.1v1.9h-1.1zM602.70 97.17h1.1v1.9h-1.1zM608.25 97.17h1.1v1.9h-1.1zM613.80 97.17h1.1v1.9h-1.1zM619.35 97.17h1.1v1.9h-1.1zM624.90 97.17h1.1v1.9h-1.1zM630.45 97.17h1.1v1.9h-1.1zM636.00 97.17h1.1v1.9h-1.1zM641.55 97.17h1.1v1.9h-1.1zM647.10 97.17h1.1v1.9h-1.1zM652.65 97.17h1.1v1.9h-1.1zM658.20 97.17h1.1v1.9h-1.1zM663.75 97.17h1.1v1.9h-1.1zM669.30 97.17h1.1v1.9h-1.1zM674.85 97.17h1.1v1.9h-1.1zM680.40 97.17h1.1v1.9h-1.1zM685.95 97.17h1.1v1.9h-1.1zM691.50 97.17h1.1v1.9h-1.1zM491.70 91.23h1.1v1.9h-1.1zM497.25 91.23h1.1v1.9h-1.1zM502.80 91.23h1.1v1.9h-1.1zM508.35 91.23h1.1v1.9h-1.1zM513.90 91.23h1.1v1.9h-1.1zM519.45 91.23h1.1v1.9h-1.1zM525.00 91.23h1.1v1.9h-1.1zM530.55 91.23h1.1v1.9h-1.1zM536.10 91.23h1.1v1.9h-1.1zM541.65 91.23h1.1v1.9h-1.1zM547.20 91.23h1.1v1.9h-1.1zM552.75 91.23h1.1v1.9h-1.1zM558.30 91.23h1.1v1.9h-1.1zM563.85 91.23h1.1v1.9h-1.1zM569.40 91.23h1.1v1.9h-1.1zM574.95 91.23h1.1v1.9h-1.1zM580.50 91.23h1.1v1.9h-1.1zM586.05 91.23h1.1v1.9h-1.1zM591.60 91.23h1.1v1.9h-1.1zM597.15 91.23h1.1v1.9h-1.1zM602.70 91.23h1.1v1.9h-1.1zM608.25 91.23h1.1v1.9h-1.1zM613.80 91.23h1.1v1.9h-1.1zM619.35 91.23h1.1v1.9h-1.1zM624.90 91.23h1.1v1.9h-1.1zM630.45 91.23h1.1v1.9h-1.1zM636.00 91.23h1.1v1.9h-1.1zM641.55 91.23h1.1v1.9h-1.1zM647.10 91.23h1.1v1.9h-1.1zM652.65 91.23h1.1v1.9h-1.1zM658.20 91.23h1.1v1.9h-1.1zM663.75 91.23h1.1v1.9h-1.1zM669.30 91.23h1.1v1.9h-1.1zM674.85 91.23h1.1v1.9h-1.1zM680.40 91.23h1.1v1.9h-1.1zM685.95 91.23h1.1v1.9h-1.1zM691.50 91.23h1.1v1.9h-1.1zM491.70 85.29h1.1v1.9h-1.1zM497.25 85.29h1.1v1.9h-1.1zM502.80 85.29h1.1v1.9h-1.1zM508.35 85.29h1.1v1.9h-1.1zM513.90 85.29h1.1v1.9h-1.1zM519.45 85.29h1.1v1.9h-1.1zM525.00 85.29h1.1v1.9h-1.1zM530.55 85.29h1.1v1.9h-1.1zM536.10 85.29h1.1v1.9h-1.1zM541.65 85.29h1.1v1.9h-1.1zM547.20 85.29h1.1v1.9h-1.1zM552.75 85.29h1.1v1.9h-1.1zM558.30 85.29h1.1v1.9h-1.1zM563.85 85.29h1.1v1.9h-1.1zM569.40 85.29h1.1v1.9h-1.1zM574.95 85.29h1.1v1.9h-1.1zM580.50 85.29h1.1v1.9h-1.1zM586.05 85.29h1.1v1.9h-1.1zM591.60 85.29h1.1v1.9h-1.1zM597.15 85.29h1.1v1.9h-1.1zM602.70 85.29h1.1v1.9h-1.1zM608.25 85.29h1.1v1.9h-1.1zM613.80 85.29h1.1v1.9h-1.1zM619.35 85.29h1.1v1.9h-1.1zM624.90 85.29h1.1v1.9h-1.1zM630.45 85.29h1.1v1.9h-1.1zM636.00 85.29h1.1v1.9h-1.1zM641.55 85.29h1.1v1.9h-1.1zM647.10 85.29h1.1v1.9h-1.1zM652.65 85.29h1.1v1.9h-1.1zM658.20 85.29h1.1v1.9h-1.1zM663.75 85.29h1.1v1.9h-1.1zM669.30 85.29h1.1v1.9h-1.1zM674.85 85.29h1.1v1.9h-1.1zM680.40 85.29h1.1v1.9h-1.1zM685.95 85.29h1.1v1.9h-1.1zM691.50 85.29h1.1v1.9h-1.1zM491.70 73.41h1.1v1.9h-1.1zM497.25 73.41h1.1v1.9h-1.1zM502.80 73.41h1.1v1.9h-1.1zM508.35 73.41h1.1v1.9h-1.1zM513.90 73.41h1.1v1.9h-1.1zM519.45 73.41h1.1v1.9h-1.1zM525.00 73.41h1.1v1.9h-1.1zM530.55 73.41h1.1v1.9h-1.1zM536.10 73.41h1.1v1.9h-1.1zM541.65 73.41h1.1v1.9h-1.1zM547.20 73.41h1.1v1.9h-1.1zM552.75 73.41h1.1v1.9h-1.1zM558.30 73.41h1.1v1.9h-1.1zM563.85 73.41h1.1v1.9h-1.1zM569.40 73.41h1.1v1.9h-1.1zM574.95 73.41h1.1v1.9h-1.1zM580.50 73.41h1.1v1.9h-1.1zM586.05 73.41h1.1v1.9h-1.1zM591.60 73.41h1.1v1.9h-1.1zM597.15 73.41h1.1v1.9h-1.1zM602.70 73.41h1.1v1.9h-1.1zM608.25 73.41h1.1v1.9h-1.1zM613.80 73.41h1.1v1.9h-1.1zM619.35 73.41h1.1v1.9h-1.1zM624.90 73.41h1.1v1.9h-1.1zM630.45 73.41h1.1v1.9h-1.1zM636.00 73.41h1.1v1.9h-1.1zM641.55 73.41h1.1v1.9h-1.1zM647.10 73.41h1.1v1.9h-1.1zM652.65 73.41h1.1v1.9h-1.1zM658.20 73.41h1.1v1.9h-1.1zM663.75 73.41h1.1v1.9h-1.1zM669.30 73.41h1.1v1.9h-1.1zM674.85 73.41h1.1v1.9h-1.1zM680.40 73.41h1.1v1.9h-1.1zM685.95 73.41h1.1v1.9h-1.1zM691.50 73.41h1.1v1.9h-1.1zM491.70 67.47h1.1v1.9h-1.1zM497.25 67.47h1.1v1.9h-1.1zM502.80 67.47h1.1v1.9h-1.1zM508.35 67.47h1.1v1.9h-1.1zM513.90 67.47h1.1v1.9h-1.1zM519.45 67.47h1.1v1.9h-1.1zM525.00 67.47h1.1v1.9h-1.1zM530.55 67.47h1.1v1.9h-1.1zM536.10 67.47h1.1v1.9h-1.1zM541.65 67.47h1.1v1.9h-1.1zM547.20 67.47h1.1v1.9h-1.1zM552.75 67.47h1.1v1.9h-1.1zM558.30 67.47h1.1v1.9h-1.1zM563.85 67.47h1.1v1.9h-1.1zM569.40 67.47h1.1v1.9h-1.1zM574.95 67.47h1.1v1.9h-1.1zM580.50 67.47h1.1v1.9h-1.1zM586.05 67.47h1.1v1.9h-1.1zM591.60 67.47h1.1v1.9h-1.1zM597.15 67.47h1.1v1.9h-1.1zM602.70 67.47h1.1v1.9h-1.1zM608.25 67.47h1.1v1.9h-1.1zM613.80 67.47h1.1v1.9h-1.1zM619.35 67.47h1.1v1.9h-1.1zM624.90 67.47h1.1v1.9h-1.1zM630.45 67.47h1.1v1.9h-1.1zM636.00 67.47h1.1v1.9h-1.1zM641.55 67.47h1.1v1.9h-1.1zM647.10 67.47h1.1v1.9h-1.1zM652.65 67.47h1.1v1.9h-1.1zM658.20 67.47h1.1v1.9h-1.1zM663.75 67.47h1.1v1.9h-1.1zM669.30 67.47h1.1v1.9h-1.1zM674.85 67.47h1.1v1.9h-1.1zM680.40 67.47h1.1v1.9h-1.1zM685.95 67.47h1.1v1.9h-1.1zM691.50 67.47h1.1v1.9h-1.1zM491.70 61.53h1.1v1.9h-1.1zM497.25 61.53h1.1v1.9h-1.1zM502.80 61.53h1.1v1.9h-1.1zM508.35 61.53h1.1v1.9h-1.1zM513.90 61.53h1.1v1.9h-1.1zM519.45 61.53h1.1v1.9h-1.1zM525.00 61.53h1.1v1.9h-1.1zM530.55 61.53h1.1v1.9h-1.1zM536.10 61.53h1.1v1.9h-1.1zM541.65 61.53h1.1v1.9h-1.1zM547.20 61.53h1.1v1.9h-1.1zM552.75 61.53h1.1v1.9h-1.1zM558.30 61.53h1.1v1.9h-1.1zM563.85 61.53h1.1v1.9h-1.1zM569.40 61.53h1.1v1.9h-1.1zM574.95 61.53h1.1v1.9h-1.1zM580.50 61.53h1.1v1.9h-1.1zM586.05 61.53h1.1v1.9h-1.1zM591.60 61.53h1.1v1.9h-1.1zM597.15 61.53h1.1v1.9h-1.1zM602.70 61.53h1.1v1.9h-1.1zM608.25 61.53h1.1v1.9h-1.1zM613.80 61.53h1.1v1.9h-1.1zM619.35 61.53h1.1v1.9h-1.1zM624.90 61.53h1.1v1.9h-1.1zM630.45 61.53h1.1v1.9h-1.1zM636.00 61.53h1.1v1.9h-1.1zM641.55 61.53h1.1v1.9h-1.1zM647.10 61.53h1.1v1.9h-1.1zM652.65 61.53h1.1v1.9h-1.1zM658.20 61.53h1.1v1.9h-1.1zM663.75 61.53h1.1v1.9h-1.1zM669.30 61.53h1.1v1.9h-1.1zM674.85 61.53h1.1v1.9h-1.1zM680.40 61.53h1.1v1.9h-1.1zM685.95 61.53h1.1v1.9h-1.1zM691.50 61.53h1.1v1.9h-1.1zM491.70 55.59h1.1v1.9h-1.1zM497.25 55.59h1.1v1.9h-1.1zM502.80 55.59h1.1v1.9h-1.1zM508.35 55.59h1.1v1.9h-1.1zM513.90 55.59h1.1v1.9h-1.1zM519.45 55.59h1.1v1.9h-1.1zM525.00 55.59h1.1v1.9h-1.1zM530.55 55.59h1.1v1.9h-1.1zM536.10 55.59h1.1v1.9h-1.1zM541.65 55.59h1.1v1.9h-1.1zM547.20 55.59h1.1v1.9h-1.1zM552.75 55.59h1.1v1.9h-1.1zM558.30 55.59h1.1v1.9h-1.1zM563.85 55.59h1.1v1.9h-1.1zM569.40 55.59h1.1v1.9h-1.1zM574.95 55.59h1.1v1.9h-1.1zM580.50 55.59h1.1v1.9h-1.1zM586.05 55.59h1.1v1.9h-1.1zM591.60 55.59h1.1v1.9h-1.1zM597.15 55.59h1.1v1.9h-1.1zM602.70 55.59h1.1v1.9h-1.1zM608.25 55.59h1.1v1.9h-1.1zM613.80 55.59h1.1v1.9h-1.1zM619.35 55.59h1.1v1.9h-1.1zM624.90 55.59h1.1v1.9h-1.1zM630.45 55.59h1.1v1.9h-1.1zM636.00 55.59h1.1v1.9h-1.1zM641.55 55.59h1.1v1.9h-1.1zM647.10 55.59h1.1v1.9h-1.1zM652.65 55.59h1.1v1.9h-1.1zM658.20 55.59h1.1v1.9h-1.1zM663.75 55.59h1.1v1.9h-1.1zM669.30 55.59h1.1v1.9h-1.1zM674.85 55.59h1.1v1.9h-1.1zM680.40 55.59h1.1v1.9h-1.1zM685.95 55.59h1.1v1.9h-1.1zM691.50 55.59h1.1v1.9h-1.1z" fill="#a4a4a4"/>
<path d="M490.50 80.30h3.3M698.60 80.30h-3.3M490.50 50.60h3.3M698.60 50.60h-3.3M532.27 104.40v-3.3M532.27 44.50v3.3M573.94 104.40v-3.3M573.94 44.50v3.3M615.61 104.40v-3.3M615.61 44.50v3.3M657.28 104.40v-3.3M657.28 44.50v3.3" stroke="#262626" stroke-width="2" fill="none"/>
<rect x="490.5" y="44.5" width="208.10" height="59.90" stroke="#262626" stroke-width="2" fill="none"/>
<path d="M521.71 46.52a4.2 4.2 0 1 0 -8.4 0a4.2 4.2 0 1 0 8.4 0zM522.58 47.23a4.2 4.2 0 1 0 -8.4 0a4.2 4.2 0 1 0 8.4 0zM523.45 46.75a4.2 4.2 0 1 0 -8.4 0a4.2 4.2 0 1 0 8.4 0zM524.32 46.26a4.2 4.2 0 1 0 -8.4 0a4.2 4.2 0 1 0 8.4 0zM525.18 46.97a4.2 4.2 0 1 0 -8.4 0a4.2 4.2 0 1 0 8.4 0zM526.05 46.48a4.2 4.2 0 1 0 -8.4 0a4.2 4.2 0 1 0 8.4 0zM526.92 47.20a4.2 4.2 0 1 0 -8.4 0a4.2 4.2 0 1 0 8.4 0zM527.79 46.71a4.2 4.2 0 1 0 -8.4 0a4.2 4.2 0 1 0 8.4 0zM528.66 46.22a4.2 4.2 0 1 0 -8.4 0a4.2 4.2 0 1 0 8.4 0zM529.53 46.93a4.2 4.2 0 1 0 -8.4 0a4.2 4.2 0 1 0 8.4 0zM530.39 46.56a4.2 4.2 0 1 0 -8.4 0a4.2 4.2 0 1 0 8.4 0zM531.26 46.28a4.2 4.2 0 1 0 -8.4 0a4.2 4.2 0 1 0 8.4 0zM532.13 47.20a4.2 4.2 0 1 0 -8.4 0a4.2 4.2 0 1 0 8.4 0zM533.00 46.91a4.2 4.2 0 1 0 -8.4 0a4.2 4.2 0 1 0 8.4 0zM533.87 47.83a4.2 4.2 0 1 0 -8.4 0a4.2 4.2 0 1 0 8.4 0zM534.73 47.55a4.2 4.2 0 1 0 -8.4 0a4.2 4.2 0 1 0 8.4 0zM535.60 47.26a4.2 4.2 0 1 0 -8.4 0a4.2 4.2 0 1 0 8.4 0zM536.47 48.18a4.2 4.2 0 1 0 -8.4 0a4.2 4.2 0 1 0 8.4 0zM537.34 47.90a4.2 4.2 0 1 0 -8.4 0a4.2 4.2 0 1 0 8.4 0zM538.21 47.61a4.2 4.2 0 1 0 -8.4 0a4.2 4.2 0 1 0 8.4 0zM539.07 48.53a4.2 4.2 0 1 0 -8.4 0a4.2 4.2 0 1 0 8.4 0zM539.94 48.24a4.2 4.2 0 1 0 -8.4 0a4.2 4.2 0 1 0 8.4 0zM540.81 49.16a4.2 4.2 0 1 0 -8.4 0a4.2 4.2 0 1 0 8.4 0zM541.68 48.88a4.2 4.2 0 1 0 -8.4 0a4.2 4.2 0 1 0 8.4 0zM542.55 48.59a4.2 4.2 0 1 0 -8.4 0a4.2 4.2 0 1 0 8.4 0zM543.42 49.48a4.2 4.2 0 1 0 -8.4 0a4.2 4.2 0 1 0 8.4 0zM544.28 49.16a4.2 4.2 0 1 0 -8.4 0a4.2 4.2 0 1 0 8.4 0zM545.15 50.04a4.2 4.2 0 1 0 -8.4 0a4.2 4.2 0 1 0 8.4 0zM546.02 49.72a4.2 4.2 0 1 0 -8.4 0a4.2 4.2 0 1 0 8.4 0zM546.89 49.39a4.2 4.2 0 1 0 -8.4 0a4.2 4.2 0 1 0 8.4 0zM547.76 50.27a4.2 4.2 0 1 0 -8.4 0a4.2 4.2 0 1 0 8.4 0zM548.62 49.95a4.2 4.2 0 1 0 -8.4 0a4.2 4.2 0 1 0 8.4 0zM549.49 49.62a4.2 4.2 0 1 0 -8.4 0a4.2 4.2 0 1 0 8.4 0zM550.36 50.50a4.2 4.2 0 1 0 -8.4 0a4.2 4.2 0 1 0 8.4 0zM551.23 50.18a4.2 4.2 0 1 0 -8.4 0a4.2 4.2 0 1 0 8.4 0zM552.10 51.06a4.2 4.2 0 1 0 -8.4 0a4.2 4.2 0 1 0 8.4 0zM552.96 50.73a4.2 4.2 0 1 0 -8.4 0a4.2 4.2 0 1 0 8.4 0zM553.83 50.41a4.2 4.2 0 1 0 -8.4 0a4.2 4.2 0 1 0 8.4 0zM554.70 51.29a4.2 4.2 0 1 0 -8.4 0a4.2 4.2 0 1 0 8.4 0zM555.57 50.97a4.2 4.2 0 1 0 -8.4 0a4.2 4.2 0 1 0 8.4 0zM556.44 50.43a4.2 4.2 0 1 0 -8.4 0a4.2 4.2 0 1 0 8.4 0zM557.31 51.08a4.2 4.2 0 1 0 -8.4 0a4.2 4.2 0 1 0 8.4 0zM558.17 50.54a4.2 4.2 0 1 0 -8.4 0a4.2 4.2 0 1 0 8.4 0zM559.04 51.19a4.2 4.2 0 1 0 -8.4 0a4.2 4.2 0 1 0 8.4 0zM559.91 50.64a4.2 4.2 0 1 0 -8.4 0a4.2 4.2 0 1 0 8.4 0zM560.78 50.10a4.2 4.2 0 1 0 -8.4 0a4.2 4.2 0 1 0 8.4 0zM561.65 50.75a4.2 4.2 0 1 0 -8.4 0a4.2 4.2 0 1 0 8.4 0zM562.51 50.21a4.2 4.2 0 1 0 -8.4 0a4.2 4.2 0 1 0 8.4 0zM563.38 50.86a4.2 4.2 0 1 0 -8.4 0a4.2 4.2 0 1 0 8.4 0zM564.25 50.32a4.2 4.2 0 1 0 -8.4 0a4.2 4.2 0 1 0 8.4 0zM565.12 49.77a4.2 4.2 0 1 0 -8.4 0a4.2 4.2 0 1 0 8.4 0zM565.99 50.42a4.2 4.2 0 1 0 -8.4 0a4.2 4.2 0 1 0 8.4 0zM566.85 49.88a4.2 4.2 0 1 0 -8.4 0a4.2 4.2 0 1 0 8.4 0zM567.72 49.33a4.2 4.2 0 1 0 -8.4 0a4.2 4.2 0 1 0 8.4 0zM568.59 49.98a4.2 4.2 0 1 0 -8.4 0a4.2 4.2 0 1 0 8.4 0zM569.46 49.39a4.2 4.2 0 1 0 -8.4 0a4.2 4.2 0 1 0 8.4 0zM570.33 50.01a4.2 4.2 0 1 0 -8.4 0a4.2 4.2 0 1 0 8.4 0zM571.20 49.42a4.2 4.2 0 1 0 -8.4 0a4.2 4.2 0 1 0 8.4 0zM572.06 48.83a4.2 4.2 0 1 0 -8.4 0a4.2 4.2 0 1 0 8.4 0zM572.93 49.45a4.2 4.2 0 1 0 -8.4 0a4.2 4.2 0 1 0 8.4 0zM573.80 48.86a4.2 4.2 0 1 0 -8.4 0a4.2 4.2 0 1 0 8.4 0zM574.67 49.47a4.2 4.2 0 1 0 -8.4 0a4.2 4.2 0 1 0 8.4 0zM575.54 48.88a4.2 4.2 0 1 0 -8.4 0a4.2 4.2 0 1 0 8.4 0zM576.40 48.30a4.2 4.2 0 1 0 -8.4 0a4.2 4.2 0 1 0 8.4 0zM577.27 48.91a4.2 4.2 0 1 0 -8.4 0a4.2 4.2 0 1 0 8.4 0zM578.14 48.32a4.2 4.2 0 1 0 -8.4 0a4.2 4.2 0 1 0 8.4 0zM579.01 47.73a4.2 4.2 0 1 0 -8.4 0a4.2 4.2 0 1 0 8.4 0zM579.88 48.35a4.2 4.2 0 1 0 -8.4 0a4.2 4.2 0 1 0 8.4 0zM580.74 47.76a4.2 4.2 0 1 0 -8.4 0a4.2 4.2 0 1 0 8.4 0zM581.61 48.56a4.2 4.2 0 1 0 -8.4 0a4.2 4.2 0 1 0 8.4 0zM582.48 48.48a4.2 4.2 0 1 0 -8.4 0a4.2 4.2 0 1 0 8.4 0zM583.35 48.40a4.2 4.2 0 1 0 -8.4 0a4.2 4.2 0 1 0 8.4 0zM584.22 49.52a4.2 4.2 0 1 0 -8.4 0a4.2 4.2 0 1 0 8.4 0zM585.09 49.44a4.2 4.2 0 1 0 -8.4 0a4.2 4.2 0 1 0 8.4 0zM585.95 49.36a4.2 4.2 0 1 0 -8.4 0a4.2 4.2 0 1 0 8.4 0zM586.82 50.48a4.2 4.2 0 1 0 -8.4 0a4.2 4.2 0 1 0 8.4 0zM587.69 50.40a4.2 4.2 0 1 0 -8.4 0a4.2 4.2 0 1 0 8.4 0zM588.56 51.52a4.2 4.2 0 1 0 -8.4 0a4.2 4.2 0 1 0 8.4 0zM589.43 51.44a4.2 4.2 0 1 0 -8.4 0a4.2 4.2 0 1 0 8.4 0zM590.29 51.37a4.2 4.2 0 1 0 -8.4 0a4.2 4.2 0 1 0 8.4 0zM591.16 52.49a4.2 4.2 0 1 0 -8.4 0a4.2 4.2 0 1 0 8.4 0zM592.03 52.42a4.2 4.2 0 1 0 -8.4 0a4.2 4.2 0 1 0 8.4 0zM592.90 53.56a4.2 4.2 0 1 0 -8.4 0a4.2 4.2 0 1 0 8.4 0zM593.77 53.51a4.2 4.2 0 1 0 -8.4 0a4.2 4.2 0 1 0 8.4 0zM594.63 53.45a4.2 4.2 0 1 0 -8.4 0a4.2 4.2 0 1 0 8.4 0zM595.50 54.60a4.2 4.2 0 1 0 -8.4 0a4.2 4.2 0 1 0 8.4 0zM596.37 54.54a4.2 4.2 0 1 0 -8.4 0a4.2 4.2 0 1 0 8.4 0zM597.24 54.46a4.2 4.2 0 1 0 -8.4 0a4.2 4.2 0 1 0 8.4 0zM598.11 55.00a4.2 4.2 0 1 0 -8.4 0a4.2 4.2 0 1 0 8.4 0zM598.98 54.33a4.2 4.2 0 1 0 -8.4 0a4.2 4.2 0 1 0 8.4 0zM599.84 54.87a4.2 4.2 0 1 0 -8.4 0a4.2 4.2 0 1 0 8.4 0zM600.71 54.21a4.2 4.2 0 1 0 -8.4 0a4.2 4.2 0 1 0 8.4 0zM601.58 53.55a4.2 4.2 0 1 0 -8.4 0a4.2 4.2 0 1 0 8.4 0zM602.45 54.08a4.2 4.2 0 1 0 -8.4 0a4.2 4.2 0 1 0 8.4 0zM603.32 53.42a4.2 4.2 0 1 0 -8.4 0a4.2 4.2 0 1 0 8.4 0zM604.18 52.76a4.2 4.2 0 1 0 -8.4 0a4.2 4.2 0 1 0 8.4 0zM605.05 53.30a4.2 4.2 0 1 0 -8.4 0a4.2 4.2 0 1 0 8.4 0zM605.92 52.83a4.2 4.2 0 1 0 -8.4 0a4.2 4.2 0 1 0 8.4 0zM606.79 54.15a4.2 4.2 0 1 0 -8.4 0a4.2 4.2 0 1 0 8.4 0zM607.66 54.27a4.2 4.2 0 1 0 -8.4 0a4.2 4.2 0 1 0 8.4 0zM608.52 54.39a4.2 4.2 0 1 0 -8.4 0a4.2 4.2 0 1 0 8.4 0zM609.39 55.71a4.2 4.2 0 1 0 -8.4 0a4.2 4.2 0 1 0 8.4 0zM599.30 58.10a4.2 4.2 0 1 0 -8.4 0a4.2 4.2 0 1 0 8.4 0zM612.20 60.70a4.2 4.2 0 1 0 -8.4 0a4.2 4.2 0 1 0 8.4 0zM614.70 67.10a4.2 4.2 0 1 0 -8.4 0a4.2 4.2 0 1 0 8.4 0zM616.00 69.70a4.2 4.2 0 1 0 -8.4 0a4.2 4.2 0 1 0 8.4 0zM618.07 75.56a4.2 4.2 0 1 0 -8.4 0a4.2 4.2 0 1 0 8.4 0zM618.94 77.39a4.2 4.2 0 1 0 -8.4 0a4.2 4.2 0 1 0 8.4 0zM619.81 78.01a4.2 4.2 0 1 0 -8.4 0a4.2 4.2 0 1 0 8.4 0zM620.68 78.64a4.2 4.2 0 1 0 -8.4 0a4.2 4.2 0 1 0 8.4 0zM621.55 80.47a4.2 4.2 0 1 0 -8.4 0a4.2 4.2 0 1 0 8.4 0zM622.41 81.09a4.2 4.2 0 1 0 -8.4 0a4.2 4.2 0 1 0 8.4 0zM623.28 81.33a4.2 4.2 0 1 0 -8.4 0a4.2 4.2 0 1 0 8.4 0zM624.15 82.72a4.2 4.2 0 1 0 -8.4 0a4.2 4.2 0 1 0 8.4 0zM625.02 82.90a4.2 4.2 0 1 0 -8.4 0a4.2 4.2 0 1 0 8.4 0zM625.89 84.29a4.2 4.2 0 1 0 -8.4 0a4.2 4.2 0 1 0 8.4 0zM626.76 84.48a4.2 4.2 0 1 0 -8.4 0a4.2 4.2 0 1 0 8.4 0zM627.62 84.66a4.2 4.2 0 1 0 -8.4 0a4.2 4.2 0 1 0 8.4 0zM628.49 85.62a4.2 4.2 0 1 0 -8.4 0a4.2 4.2 0 1 0 8.4 0zM629.36 85.38a4.2 4.2 0 1 0 -8.4 0a4.2 4.2 0 1 0 8.4 0zM630.23 86.35a4.2 4.2 0 1 0 -8.4 0a4.2 4.2 0 1 0 8.4 0zM631.10 86.11a4.2 4.2 0 1 0 -8.4 0a4.2 4.2 0 1 0 8.4 0zM631.96 85.87a4.2 4.2 0 1 0 -8.4 0a4.2 4.2 0 1 0 8.4 0zM632.83 86.85a4.2 4.2 0 1 0 -8.4 0a4.2 4.2 0 1 0 8.4 0zM633.70 86.68a4.2 4.2 0 1 0 -8.4 0a4.2 4.2 0 1 0 8.4 0zM634.57 86.51a4.2 4.2 0 1 0 -8.4 0a4.2 4.2 0 1 0 8.4 0zM635.44 87.54a4.2 4.2 0 1 0 -8.4 0a4.2 4.2 0 1 0 8.4 0zM636.30 87.37a4.2 4.2 0 1 0 -8.4 0a4.2 4.2 0 1 0 8.4 0zM637.90 72.30a4.2 4.2 0 1 0 -8.4 0a4.2 4.2 0 1 0 8.4 0zM639.70 68.00a4.2 4.2 0 1 0 -8.4 0a4.2 4.2 0 1 0 8.4 0zM641.70 64.60a4.2 4.2 0 1 0 -8.4 0a4.2 4.2 0 1 0 8.4 0zM643.70 63.00a4.2 4.2 0 1 0 -8.4 0a4.2 4.2 0 1 0 8.4 0zM645.60 62.00a4.2 4.2 0 1 0 -8.4 0a4.2 4.2 0 1 0 8.4 0zM647.50 63.50a4.2 4.2 0 1 0 -8.4 0a4.2 4.2 0 1 0 8.4 0zM649.40 65.80a4.2 4.2 0 1 0 -8.4 0a4.2 4.2 0 1 0 8.4 0zM651.06 87.18a4.2 4.2 0 1 0 -8.4 0a4.2 4.2 0 1 0 8.4 0zM651.93 87.37a4.2 4.2 0 1 0 -8.4 0a4.2 4.2 0 1 0 8.4 0zM652.80 87.57a4.2 4.2 0 1 0 -8.4 0a4.2 4.2 0 1 0 8.4 0zM653.67 88.96a4.2 4.2 0 1 0 -8.4 0a4.2 4.2 0 1 0 8.4 0zM654.54 89.15a4.2 4.2 0 1 0 -8.4 0a4.2 4.2 0 1 0 8.4 0zM655.40 89.35a4.2 4.2 0 1 0 -8.4 0a4.2 4.2 0 1 0 8.4 0zM656.27 90.64a4.2 4.2 0 1 0 -8.4 0a4.2 4.2 0 1 0 8.4 0zM657.14 90.61a4.2 4.2 0 1 0 -8.4 0a4.2 4.2 0 1 0 8.4 0zM658.01 91.78a4.2 4.2 0 1 0 -8.4 0a4.2 4.2 0 1 0 8.4 0zM658.88 91.75a4.2 4.2 0 1 0 -8.4 0a4.2 4.2 0 1 0 8.4 0zM659.74 91.72a4.2 4.2 0 1 0 -8.4 0a4.2 4.2 0 1 0 8.4 0zM660.61 92.89a4.2 4.2 0 1 0 -8.4 0a4.2 4.2 0 1 0 8.4 0zM661.48 92.86a4.2 4.2 0 1 0 -8.4 0a4.2 4.2 0 1 0 8.4 0zM662.35 94.03a4.2 4.2 0 1 0 -8.4 0a4.2 4.2 0 1 0 8.4 0zM663.22 94.00a4.2 4.2 0 1 0 -8.4 0a4.2 4.2 0 1 0 8.4 0zM664.08 93.37a4.2 4.2 0 1 0 -8.4 0a4.2 4.2 0 1 0 8.4 0zM664.95 93.47a4.2 4.2 0 1 0 -8.4 0a4.2 4.2 0 1 0 8.4 0zM665.82 92.36a4.2 4.2 0 1 0 -8.4 0a4.2 4.2 0 1 0 8.4 0zM666.69 91.26a4.2 4.2 0 1 0 -8.4 0a4.2 4.2 0 1 0 8.4 0zM667.56 91.35a4.2 4.2 0 1 0 -8.4 0a4.2 4.2 0 1 0 8.4 0zM668.43 90.25a4.2 4.2 0 1 0 -8.4 0a4.2 4.2 0 1 0 8.4 0zM669.29 91.37a4.2 4.2 0 1 0 -8.4 0a4.2 4.2 0 1 0 8.4 0zM670.16 91.76a4.2 4.2 0 1 0 -8.4 0a4.2 4.2 0 1 0 8.4 0zM671.03 92.15a4.2 4.2 0 1 0 -8.4 0a4.2 4.2 0 1 0 8.4 0zM671.90 93.75a4.2 4.2 0 1 0 -8.4 0a4.2 4.2 0 1 0 8.4 0zM672.77 94.14a4.2 4.2 0 1 0 -8.4 0a4.2 4.2 0 1 0 8.4 0zM673.63 95.73a4.2 4.2 0 1 0 -8.4 0a4.2 4.2 0 1 0 8.4 0zM674.50 95.94a4.2 4.2 0 1 0 -8.4 0a4.2 4.2 0 1 0 8.4 0zM675.37 96.07a4.2 4.2 0 1 0 -8.4 0a4.2 4.2 0 1 0 8.4 0zM676.24 97.40a4.2 4.2 0 1 0 -8.4 0a4.2 4.2 0 1 0 8.4 0zM677.11 97.52a4.2 4.2 0 1 0 -8.4 0a4.2 4.2 0 1 0 8.4 0zM677.97 97.65a4.2 4.2 0 1 0 -8.4 0a4.2 4.2 0 1 0 8.4 0zM678.84 98.98a4.2 4.2 0 1 0 -8.4 0a4.2 4.2 0 1 0 8.4 0zM679.71 99.11a4.2 4.2 0 1 0 -8.4 0a4.2 4.2 0 1 0 8.4 0zM680.58 100.44a4.2 4.2 0 1 0 -8.4 0a4.2 4.2 0 1 0 8.4 0zM681.45 100.56a4.2 4.2 0 1 0 -8.4 0a4.2 4.2 0 1 0 8.4 0zM682.32 100.49a4.2 4.2 0 1 0 -8.4 0a4.2 4.2 0 1 0 8.4 0zM683.18 101.57a4.2 4.2 0 1 0 -8.4 0a4.2 4.2 0 1 0 8.4 0zM684.05 101.45a4.2 4.2 0 1 0 -8.4 0a4.2 4.2 0 1 0 8.4 0zM684.92 101.33a4.2 4.2 0 1 0 -8.4 0a4.2 4.2 0 1 0 8.4 0zM685.79 102.41a4.2 4.2 0 1 0 -8.4 0a4.2 4.2 0 1 0 8.4 0zM686.66 102.29a4.2 4.2 0 1 0 -8.4 0a4.2 4.2 0 1 0 8.4 0zM687.52 103.37a4.2 4.2 0 1 0 -8.4 0a4.2 4.2 0 1 0 8.4 0z" stroke="#0072BD" stroke-width="2.3" fill="none"/>
<text transform="translate(481.50,57.10) scale(1.01,1)" text-anchor="end" font-size="19.4" fill="#262626">285</text>
<text transform="translate(481.50,86.80) scale(1.01,1)" text-anchor="end" font-size="19.4" fill="#262626">280</text>
<path d="M147.50 224.40H355.60M147.50 213.12H355.60M147.50 201.85H355.60M147.50 190.58H355.60M147.50 179.30H355.60M188.50 172.30V231.50M230.17 172.30V231.50M271.84 172.30V231.50M313.51 172.30V231.50" stroke="#dfdfdf" stroke-width="2" fill="none"/>
<path d="M148.70 226.27h1.1v1.9h-1.1zM154.25 226.27h1.1v1.9h-1.1zM159.80 226.27h1.1v1.9h-1.1zM165.35 226.27h1.1v1.9h-1.1zM170.90 226.27h1.1v1.9h-1.1zM176.45 226.27h1.1v1.9h-1.1zM182.00 226.27h1.1v1.9h-1.1zM187.55 226.27h1.1v1.9h-1.1zM193.10 226.27h1.1v1.9h-1.1zM198.65 226.27h1.1v1.9h-1.1zM204.20 226.27h1.1v1.9h-1.1zM209.75 226.27h1.1v1.9h-1.1zM215.30 226.27h1.1v1.9h-1.1zM220.85 226.27h1.1v1.9h-1.1zM226.40 226.27h1.1v1.9h-1.1zM231.95 226.27h1.1v1.9h-1.1zM237.50 226.27h1.1v1.9h-1.1zM243.05 226.27h1.1v1.9h-1.1zM248.60 226.27h1.1v1.9h-1.1zM254.15 226.27h1.1v1.9h-1.1zM259.70 226.27h1.1v1.9h-1.1zM265.25 226.27h1.1v1.9h-1.1zM270.80 226.27h1.1v1.9h-1.1zM276.35 226.27h1.1v1.9h-1.1zM281.90 226.27h1.1v1.9h-1.1zM287.45 226.27h1.1v1.9h-1.1zM293.00 226.27h1.1v1.9h-1.1zM298.55 226.27h1.1v1.9h-1.1zM304.10 226.27h1.1v1.9h-1.1zM309.65 226.27h1.1v1.9h-1.1zM315.20 226.27h1.1v1.9h-1.1zM320.75 226.27h1.1v1.9h-1.1zM326.30 226.27h1.1v1.9h-1.1zM331.85 226.27h1.1v1.9h-1.1zM337.40 226.27h1.1v1.9h-1.1zM342.95 226.27h1.1v1.9h-1.1zM348.50 226.27h1.1v1.9h-1.1zM148.70 220.63h1.1v1.9h-1.1zM154.25 220.63h1.1v1.9h-1.1zM159.80 220.63h1.1v1.9h-1.1zM165.35 220.63h1.1v1.9h-1.1zM170.90 220.63h1.1v1.9h-1.1zM176.45 220.63h1.1v1.9h-1.1zM182.00 220.63h1.1v1.9h-1.1zM187.55 220.63h1.1v1.9h-1.1zM193.10 220.63h1.1v1.9h-1.1zM198.65 220.63h1.1v1.9h-1.1zM204.20 220.63h1.1v1.9h-1.1zM209.75 220.63h1.1v1.9h-1.1zM215.30 220.63h1.1v1.9h-1.1zM220.85 220.63h1.1v1.9h-1.1zM226.40 220.63h1.1v1.9h-1.1zM231.95 220.63h1.1v1.9h-1.1zM237.50 220.63h1.1v1.9h-1.1zM243.05 220.63h1.1v1.9h-1.1zM248.60 220.63h1.1v1.9h-1.1zM254.15 220.63h1.1v1.9h-1.1zM259.70 220.63h1.1v1.9h-1.1zM265.25 220.63h1.1v1.9h-1.1zM270.80 220.63h1.1v1.9h-1.1zM276.35 220.63h1.1v1.9h-1.1zM281.90 220.63h1.1v1.9h-1.1zM287.45 220.63h1.1v1.9h-1.1zM293.00 220.63h1.1v1.9h-1.1zM298.55 220.63h1.1v1.9h-1.1zM304.10 220.63h1.1v1.9h-1.1zM309.65 220.63h1.1v1.9h-1.1zM315.20 220.63h1.1v1.9h-1.1zM320.75 220.63h1.1v1.9h-1.1zM326.30 220.63h1.1v1.9h-1.1zM331.85 220.63h1.1v1.9h-1.1zM337.40 220.63h1.1v1.9h-1.1zM342.95 220.63h1.1v1.9h-1.1zM348.50 220.63h1.1v1.9h-1.1zM148.70 217.81h1.1v1.9h-1.1zM154.25 217.81h1.1v1.9h-1.1zM159.80 217.81h1.1v1.9h-1.1zM165.35 217.81h1.1v1.9h-1.1zM170.90 217.81h1.1v1.9h-1.1zM176.45 217.81h1.1v1.9h-1.1zM182.00 217.81h1.1v1.9h-1.1zM187.55 217.81h1.1v1.9h-1.1zM193.10 217.81h1.1v1.9h-1.1zM198.65 217.81h1.1v1.9h-1.1zM204.20 217.81h1.1v1.9h-1.1zM209.75 217.81h1.1v1.9h-1.1zM215.30 217.81h1.1v1.9h-1.1zM220.85 217.81h1.1v1.9h-1.1zM226.40 217.81h1.1v1.9h-1.1zM231.95 217.81h1.1v1.9h-1.1zM237.50 217.81h1.1v1.9h-1.1zM243.05 217.81h1.1v1.9h-1.1zM248.60 217.81h1.1v1.9h-1.1zM254.15 217.81h1.1v1.9h-1.1zM259.70 217.81h1.1v1.9h-1.1zM265.25 217.81h1.1v1.9h-1.1zM270.80 217.81h1.1v1.9h-1.1zM276.35 217.81h1.1v1.9h-1.1zM281.90 217.81h1.1v1.9h-1.1zM287.45 217.81h1.1v1.9h-1.1zM293.00 217.81h1.1v1.9h-1.1zM298.55 217.81h1.1v1.9h-1.1zM304.10 217.81h1.1v1.9h-1.1zM309.65 217.81h1.1v1.9h-1.1zM315.20 217.81h1.1v1.9h-1.1zM320.75 217.81h1.1v1.9h-1.1zM326.30 217.81h1.1v1.9h-1.1zM331.85 217.81h1.1v1.9h-1.1zM337.40 217.81h1.1v1.9h-1.1zM342.95 217.81h1.1v1.9h-1.1zM348.50 217.81h1.1v1.9h-1.1zM148.70 214.99h1.1v1.9h-1.1zM154.25 214.99h1.1v1.9h-1.1zM159.80 214.99h1.1v1.9h-1.1zM165.35 214.99h1.1v1.9h-1.1zM170.90 214.99h1.1v1.9h-1.1zM176.45 214.99h1.1v1.9h-1.1zM182.00 214.99h1.1v1.9h-1.1zM187.55 214.99h1.1v1.9h-1.1zM193.10 214.99h1.1v1.9h-1.1zM198.65 214.99h1.1v1.9h-1.1zM204.20 214.99h1.1v1.9h-1.1zM209.75 214.99h1.1v1.9h-1.1zM215.30 214.99h1.1v1.9h-1.1zM220.85 214.99h1.1v1.9h-1.1zM226.40 214.99h1.1v1.9h-1.1zM231.95 214.99h1.1v1.9h-1.1zM237.50 214.99h1.1v1.9h-1.1zM243.05 214.99h1.1v1.9h-1.1zM248.60 214.99h1.1v1.9h-1.1zM254.15 214.99h1.1v1.9h-1.1zM259.70 214.99h1.1v1.9h-1.1zM265.25 214.99h1.1v1.9h-1.1zM270.80 214.99h1.1v1.9h-1.1zM276.35 214.99h1.1v1.9h-1.1zM281.90 214.99h1.1v1.9h-1.1zM287.45 214.99h1.1v1.9h-1.1zM293.00 214.99h1.1v1.9h-1.1zM298.55 214.99h1.1v1.9h-1.1zM304.10 214.99h1.1v1.9h-1.1zM309.65 214.99h1.1v1.9h-1.1zM315.20 214.99h1.1v1.9h-1.1zM320.75 214.99h1.1v1.9h-1.1zM326.30 214.99h1.1v1.9h-1.1zM331.85 214.99h1.1v1.9h-1.1zM337.40 214.99h1.1v1.9h-1.1zM342.95 214.99h1.1v1.9h-1.1zM348.50 214.99h1.1v1.9h-1.1zM148.70 209.36h1.1v1.9h-1.1zM154.25 209.36h1.1v1.9h-1.1zM159.80 209.36h1.1v1.9h-1.1zM165.35 209.36h1.1v1.9h-1.1zM170.90 209.36h1.1v1.9h-1.1zM176.45 209.36h1.1v1.9h-1.1zM182.00 209.36h1.1v1.9h-1.1zM187.55 209.36h1.1v1.9h-1.1zM193.10 209.36h1.1v1.9h-1.1zM198.65 209.36h1.1v1.9h-1.1zM204.20 209.36h1.1v1.9h-1.1zM209.75 209.36h1.1v1.9h-1.1zM215.30 209.36h1.1v1.9h-1.1zM220.85 209.36h1.1v1.9h-1.1zM226.40 209.36h1.1v1.9h-1.1zM231.95 209.36h1.1v1.9h-1.1zM237.50 209.36h1.1v1.9h-1.1zM243.05 209.36h1.1v1.9h-1.1zM248.60 209.36h1.1v1.9h-1.1zM254.15 209.36h1.1v1.9h-1.1zM259.70 209.36h1.1v1.9h-1.1zM265.25 209.36h1.1v1.9h-1.1zM270.80 209.36h1.1v1.9h-1.1zM276.35 209.36h1.1v1.9h-1.1zM281.90 209.36h1.1v1.9h-1.1zM287.45 209.36h1.1v1.9h-1.1zM293.00 209.36h1.1v1.9h-1.1zM298.55 209.36h1.1v1.9h-1.1zM304.10 209.36h1.1v1.9h-1.1zM309.65 209.36h1.1v1.9h-1.1zM315.20 209.36h1.1v1.9h-1.1zM320.75 209.36h1.1v1.9h-1.1zM326.30 209.36h1.1v1.9h-1.1zM331.85 209.36h1.1v1.9h-1.1zM337.40 209.36h1.1v1.9h-1.1zM342.95 209.36h1.1v1.9h-1.1zM348.50 209.36h1.1v1.9h-1.1zM148.70 206.54h1.1v1.9h-1.1zM154.25 206.54h1.1v1.9h-1.1zM159.80 206.54h1.1v1.9h-1.1zM165.35 206.54h1.1v1.9h-1.1zM170.90 206.54h1.1v1.9h-1.1zM176.45 206.54h1.1v1.9h-1.1zM182.00 206.54h1.1v1.9h-1.1zM187.55 206.54h1.1v1.9h-1.1zM193.10 206.54h1.1v1.9h-1.1zM198.65 206.54h1.1v1.9h-1.1zM204.20 206.54h1.1v1.9h-1.1zM209.75 206.54h1.1v1.9h-1.1zM215.30 206.54h1.1v1.9h-1.1zM220.85 206.54h1.1v1.9h-1.1zM226.40 206.54h1.1v1.9h-1.1zM231.95 206.54h1.1v1.9h-1.1zM237.50 206.54h1.1v1.9h-1.1zM243.05 206.54h1.1v1.9h-1.1zM248.60 206.54h1.1v1.9h-1.1zM254.15 206.54h1.1v1.9h-1.1zM259.70 206.54h1.1v1.9h-1.1zM265.25 206.54h1.1v1.9h-1.1zM270.80 206.54h1.1v1.9h-1.1zM276.35 206.54h1.1v1.9h-1.1zM281.90 206.54h1.1v1.9h-1.1zM287.45 206.54h1.1v1.9h-1.1zM293.00 206.54h1.1v1.9h-1.1zM298.55 206.54h1.1v1.9h-1.1zM304.10 206.54h1.1v1.9h-1.1zM309.65 206.54h1.1v1.9h-1.1zM315.20 206.54h1.1v1.9h-1.1zM320.75 206.54h1.1v1.9h-1.1zM326.30 206.54h1.1v1.9h-1.1zM331.85 206.54h1.1v1.9h-1.1zM337.40 206.54h1.1v1.9h-1.1zM342.95 206.54h1.1v1.9h-1.1zM348.50 206.54h1.1v1.9h-1.1zM148.70 203.72h1.1v1.9h-1.1zM154.25 203.72h1.1v1.9h-1.1zM159.80 203.72h1.1v1.9h-1.1zM165.35 203.72h1.1v1.9h-1.1zM170.90 203.72h1.1v1.9h-1.1zM176.45 203.72h1.1v1.9h-1.1zM182.00 203.72h1.1v1.9h-1.1zM187.55 203.72h1.1v1.9h-1.1zM193.10 203.72h1.1v1.9h-1.1zM198.65 203.72h1.1v1.9h-1.1zM204.20 203.72h1.1v1.9h-1.1zM209.75 203.72h1.1v1.9h-1.1zM215.30 203.72h1.1v1.9h-1.1zM220.85 203.72h1.1v1.9h-1.1zM226.40 203.72h1.1v1.9h-1.1zM231.95 203.72h1.1v1.9h-1.1zM237.50 203.72h1.1v1.9h-1.1zM243.05 203.72h1.1v1.9h-1.1zM248.60 203.72h1.1v1.9h-1.1zM254.15 203.72h1.1v1.9h-1.1zM259.70 203.72h1.1v1.9h-1.1zM265.25 203.72h1.1v1.9h-1.1zM270.80 203.72h1.1v1.9h-1.1zM276.35 203.72h1.1v1.9h-1.1zM281.90 203.72h1.1v1.9h-1.1zM287.45 203.72h1.1v1.9h-1.1zM293.00 203.72h1.1v1.9h-1.1zM298.55 203.72h1.1v1.9h-1.1zM304.10 203.72h1.1v1.9h-1.1zM309.65 203.72h1.1v1.9h-1.1zM315.20 203.72h1.1v1.9h-1.1zM320.75 203.72h1.1v1.9h-1.1zM326.30 203.72h1.1v1.9h-1.1zM331.85 203.72h1.1v1.9h-1.1zM337.40 203.72h1.1v1.9h-1.1zM342.95 203.72h1.1v1.9h-1.1zM348.50 203.72h1.1v1.9h-1.1zM148.70 198.08h1.1v1.9h-1.1zM154.25 198.08h1.1v1.9h-1.1zM159.80 198.08h1.1v1.9h-1.1zM165.35 198.08h1.1v1.9h-1.1zM170.90 198.08h1.1v1.9h-1.1zM176.45 198.08h1.1v1.9h-1.1zM182.00 198.08h1.1v1.9h-1.1zM187.55 198.08h1.1v1.9h-1.1zM193.10 198.08h1.1v1.9h-1.1zM198.65 198.08h1.1v1.9h-1.1zM204.20 198.08h1.1v1.9h-1.1zM209.75 198.08h1.1v1.9h-1.1zM215.30 198.08h1.1v1.9h-1.1zM220.85 198.08h1.1v1.9h-1.1zM226.40 198.08h1.1v1.9h-1.1zM231.95 198.08h1.1v1.9h-1.1zM237.50 198.08h1.1v1.9h-1.1zM243.05 198.08h1.1v1.9h-1.1zM248.60 198.08h1.1v1.9h-1.1zM254.15 198.08h1.1v1.9h-1.1zM259.70 198.08h1.1v1.9h-1.1zM265.25 198.08h1.1v1.9h-1.1zM270.80 198.08h1.1v1.9h-1.1zM276.35 198.08h1.1v1.9h-1.1zM281.90 198.08h1.1v1.9h-1.1zM287.45 198.08h1.1v1.9h-1.1zM293.00 198.08h1.1v1.9h-1.1zM298.55 198.08h1.1v1.9h-1.1zM304.10 198.08h1.1v1.9h-1.1zM309.65 198.08h1.1v1.9h-1.1zM315.20 198.08h1.1v1.9h-1.1zM320.75 198.08h1.1v1.9h-1.1zM326.30 198.08h1.1v1.9h-1.1zM331.85 198.08h1.1v1.9h-1.1zM337.40 198.08h1.1v1.9h-1.1zM342.95 198.08h1.1v1.9h-1.1zM348.50 198.08h1.1v1.9h-1.1zM148.70 195.26h1.1v1.9h-1.1zM154.25 195.26h1.1v1.9h-1.1zM159.80 195.26h1.1v1.9h-1.1zM165.35 195.26h1.1v1.9h-1.1zM170.90 195.26h1.1v1.9h-1.1zM176.45 195.26h1.1v1.9h-1.1zM182.00 195.26h1.1v1.9h-1.1zM187.55 195.26h1.1v1.9h-1.1zM193.10 195.26h1.1v1.9h-1.1zM198.65 195.26h1.1v1.9h-1.1zM204.20 195.26h1.1v1.9h-1.1zM209.75 195.26h1.1v1.9h-1.1zM215.30 195.26h1.1v1.9h-1.1zM220.85 195.26h1.1v1.9h-1.1zM226.40 195.26h1.1v1.9h-1.1zM231.95 195.26h1.1v1.9h-1.1zM237.50 195.26h1.1v1.9h-1.1zM243.05 195.26h1.1v1.9h-1.1zM248.60 195.26h1.1v1.9h-1.1zM254.15 195.26h1.1v1.9h-1.1zM259.70 195.26h1.1v1.9h-1.1zM265.25 195.26h1.1v1.9h-1.1zM270.80 195.26h1.1v1.9h-1.1zM276.35 195.26h1.1v1.9h-1.1zM281.90 195.26h1.1v1.9h-1.1zM287.45 195.26h1.1v1.9h-1.1zM293.00 195.26h1.1v1.9h-1.1zM298.55 195.26h1.1v1.9h-1.1zM304.10 195.26h1.1v1.9h-1.1zM309.65 195.26h1.1v1.9h-1.1zM315.20 195.26h1.1v1.9h-1.1zM320.75 195.26h1.1v1.9h-1.1zM326.30 195.26h1.1v1.9h-1.1zM331.85 195.26h1.1v1.9h-1.1zM337.40 195.26h1.1v1.9h-1.1zM342.95 195.26h1.1v1.9h-1.1zM348.50 195.26h1.1v1.9h-1.1zM148.70 192.44h1.1v1.9h-1.1zM154.25 192.44h1.1v1.9h-1.1zM159.80 192.44h1.1v1.9h-1.1zM165.35 192.44h1.1v1.9h-1.1zM170.90 192.44h1.1v1.9h-1.1zM176.45 192.44h1.1v1.9h-1.1zM182.00 192.44h1.1v1.9h-1.1zM187.55 192.44h1.1v1.9h-1.1zM193.10 192.44h1.1v1.9h-1.1zM198.65 192.44h1.1v1.9h-1.1zM204.20 192.44h1.1v1.9h-1.1zM209.75 192.44h1.1v1.9h-1.1zM215.30 192.44h1.1v1.9h-1.1zM220.85 192.44h1.1v1.9h-1.1zM226.40 192.44h1.1v1.9h-1.1zM231.95 192.44h1.1v1.9h-1.1zM237.50 192.44h1.1v1.9h-1.1zM243.05 192.44h1.1v1.9h-1.1zM248.60 192.44h1.1v1.9h-1.1zM254.15 192.44h1.1v1.9h-1.1zM259.70 192.44h1.1v1.9h-1.1zM265.25 192.44h1.1v1.9h-1.1zM270.80 192.44h1.1v1.9h-1.1zM276.35 192.44h1.1v1.9h-1.1zM281.90 192.44h1.1v1.9h-1.1zM287.45 192.44h1.1v1.9h-1.1zM293.00 192.44h1.1v1.9h-1.1zM298.55 192.44h1.1v1.9h-1.1zM304.10 192.44h1.1v1.9h-1.1zM309.65 192.44h1.1v1.9h-1.1zM315.20 192.44h1.1v1.9h-1.1zM320.75 192.44h1.1v1.9h-1.1zM326.30 192.44h1.1v1.9h-1.1zM331.85 192.44h1.1v1.9h-1.1zM337.40 192.44h1.1v1.9h-1.1zM342.95 192.44h1.1v1.9h-1.1zM348.50 192.44h1.1v1.9h-1.1zM148.70 186.81h1.1v1.9h-1.1zM154.25 186.81h1.1v1.9h-1.1zM159.80 186.81h1.1v1.9h-1.1zM165.35 186.81h1.1v1.9h-1.1zM170.90 186.81h1.1v1.9h-1.1zM176.45 186.81h1.1v1.9h-1.1zM182.00 186.81h1.1v1.9h-1.1zM187.55 186.81h1.1v1.9h-1.1zM193.10 186.81h1.1v1.9h-1.1zM198.65 186.81h1.1v1.9h-1.1zM204.20 186.81h1.1v1.9h-1.1zM209.75 186.81h1.1v1.9h-1.1zM215.30 186.81h1.1v1.9h-1.1zM220.85 186.81h1.1v1.9h-1.1zM226.40 186.81h1.1v1.9h-1.1zM231.95 186.81h1.1v1.9h-1.1zM237.50 186.81h1.1v1.9h-1.1zM243.05 186.81h1.1v1.9h-1.1zM248.60 186.81h1.1v1.9h-1.1zM254.15 186.81h1.1v1.9h-1.1zM259.70 186.81h1.1v1.9h-1.1zM265.25 186.81h1.1v1.9h-1.1zM270.80 186.81h1.1v1.9h-1.1zM276.35 186.81h1.1v1.9h-1.1zM281.90 186.81h1.1v1.9h-1.1zM287.45 186.81h1.1v1.9h-1.1zM293.00 186.81h1.1v1.9h-1.1zM298.55 186.81h1.1v1.9h-1.1zM304.10 186.81h1.1v1.9h-1.1zM309.65 186.81h1.1v1.9h-1.1zM315.20 186.81h1.1v1.9h-1.1zM320.75 186.81h1.1v1.9h-1.1zM326.30 186.81h1.1v1.9h-1.1zM331.85 186.81h1.1v1.9h-1.1zM337.40 186.81h1.1v1.9h-1.1zM342.95 186.81h1.1v1.9h-1.1zM348.50 186.81h1.1v1.9h-1.1zM148.70 183.99h1.1v1.9h-1.1zM154.25 183.99h1.1v1.9h-1.1zM159.80 183.99h1.1v1.9h-1.1zM165.35 183.99h1.1v1.9h-1.1zM170.90 183.99h1.1v1.9h-1.1zM176.45 183.99h1.1v1.9h-1.1zM182.00 183.99h1.1v1.9h-1.1zM187.55 183.99h1.1v1.9h-1.1zM193.10 183.99h1.1v1.9h-1.1zM198.65 183.99h1.1v1.9h-1.1zM204.20 183.99h1.1v1.9h-1.1zM209.75 183.99h1.1v1.9h-1.1zM215.30 183.99h1.1v1.9h-1.1zM220.85 183.99h1.1v1.9h-1.1zM226.40 183.99h1.1v1.9h-1.1zM231.95 183.99h1.1v1.9h-1.1zM237.50 183.99h1.1v1.9h-1.1zM243.05 183.99h1.1v1.9h-1.1zM248.60 183.99h1.1v1.9h-1.1zM254.15 183.99h1.1v1.9h-1.1zM259.70 183.99h1.1v1.9h-1.1zM265.25 183.99h1.1v1.9h-1.1zM270.80 183.99h1.1v1.9h-1.1zM276.35 183.99h1.1v1.9h-1.1zM281.90 183.99h1.1v1.9h-1.1zM287.45 183.99h1.1v1.9h-1.1zM293.00 183.99h1.1v1.9h-1.1zM298.55 183.99h1.1v1.9h-1.1zM304.10 183.99h1.1v1.9h-1.1zM309.65 183.99h1.1v1.9h-1.1zM315.20 183.99h1.1v1.9h-1.1zM320.75 183.99h1.1v1.9h-1.1zM326.30 183.99h1.1v1.9h-1.1zM331.85 183.99h1.1v1.9h-1.1zM337.40 183.99h1.1v1.9h-1.1zM342.95 183.99h1.1v1.9h-1.1zM348.50 183.99h1.1v1.9h-1.1zM148.70 181.17h1.1v1.9h-1.1zM154.25 181.17h1.1v1.9h-1.1zM159.80 181.17h1.1v1.9h-1.1zM165.35 181.17h1.1v1.9h-1.1zM170.90 181.17h1.1v1.9h-1.1zM176.45 181.17h1.1v1.9h-1.1zM182.00 181.17h1.1v1.9h-1.1zM187.55 181.17h1.1v1.9h-1.1zM193.10 181.17h1.1v1.9h-1.1zM198.65 181.17h1.1v1.9h-1.1zM204.20 181.17h1.1v1.9h-1.1zM209.75 181.17h1.1v1.9h-1.1zM215.30 181.17h1.1v1.9h-1.1zM220.85 181.17h1.1v1.9h-1.1zM226.40 181.17h1.1v1.9h-1.1zM231.95 181.17h1.1v1.9h-1.1zM237.50 181.17h1.1v1.9h-1.1zM243.05 181.17h1.1v1.9h-1.1zM248.60 181.17h1.1v1.9h-1.1zM254.15 181.17h1.1v1.9h-1.1zM259.70 181.17h1.1v1.9h-1.1zM265.25 181.17h1.1v1.9h-1.1zM270.80 181.17h1.1v1.9h-1.1zM276.35 181.17h1.1v1.9h-1.1zM281.90 181.17h1.1v1.9h-1.1zM287.45 181.17h1.1v1.9h-1.1zM293.00 181.17h1.1v1.9h-1.1zM298.55 181.17h1.1v1.9h-1.1zM304.10 181.17h1.1v1.9h-1.1zM309.65 181.17h1.1v1.9h-1.1zM315.20 181.17h1.1v1.9h-1.1zM320.75 181.17h1.1v1.9h-1.1zM326.30 181.17h1.1v1.9h-1.1zM331.85 181.17h1.1v1.9h-1.1zM337.40 181.17h1.1v1.9h-1.1zM342.95 181.17h1.1v1.9h-1.1zM348.50 181.17h1.1v1.9h-1.1zM148.70 175.53h1.1v1.9h-1.1zM154.25 175.53h1.1v1.9h-1.1zM159.80 175.53h1.1v1.9h-1.1zM165.35 175.53h1.1v1.9h-1.1zM170.90 175.53h1.1v1.9h-1.1zM176.45 175.53h1.1v1.9h-1.1zM182.00 175.53h1.1v1.9h-1.1zM187.55 175.53h1.1v1.9h-1.1zM193.10 175.53h1.1v1.9h-1.1zM198.65 175.53h1.1v1.9h-1.1zM204.20 175.53h1.1v1.9h-1.1zM209.75 175.53h1.1v1.9h-1.1zM215.30 175.53h1.1v1.9h-1.1zM220.85 175.53h1.1v1.9h-1.1zM226.40 175.53h1.1v1.9h-1.1zM231.95 175.53h1.1v1.9h-1.1zM237.50 175.53h1.1v1.9h-1.1zM243.05 175.53h1.1v1.9h-1.1zM248.60 175.53h1.1v1.9h-1.1zM254.15 175.53h1.1v1.9h-1.1zM259.70 175.53h1.1v1.9h-1.1zM265.25 175.53h1.1v1.9h-1.1zM270.80 175.53h1.1v1.9h-1.1zM276.35 175.53h1.1v1.9h-1.1zM281.90 175.53h1.1v1.9h-1.1zM287.45 175.53h1.1v1.9h-1.1zM293.00 175.53h1.1v1.9h-1.1zM298.55 175.53h1.1v1.9h-1.1zM304.10 175.53h1.1v1.9h-1.1zM309.65 175.53h1.1v1.9h-1.1zM315.20 175.53h1.1v1.9h-1.1zM320.75 175.53h1.1v1.9h-1.1zM326.30 175.53h1.1v1.9h-1.1zM331.85 175.53h1.1v1.9h-1.1zM337.40 175.53h1.1v1.9h-1.1zM342.95 175.53h1.1v1.9h-1.1zM348.50 175.53h1.1v1.9h-1.1z" fill="#a4a4a4"/>
<path d="M147.50 224.40h3.3M355.60 224.40h-3.3M147.50 213.12h3.3M355.60 213.12h-3.3M147.50 201.85h3.3M355.60 201.85h-3.3M147.50 190.58h3.3M355.60 190.58h-3.3M147.50 179.30h3.3M355.60 179.30h-3.3M188.50 231.50v-3.3M188.50 172.30v3.3M230.17 231.50v-3.3M230.17 172.30v3.3M271.84 231.50v-3.3M271.84 172.30v3.3M313.51 231.50v-3.3M313.51 172.30v3.3" stroke="#262626" stroke-width="2" fill="none"/>
<rect x="147.5" y="172.3" width="208.10" height="59.20" stroke="#262626" stroke-width="2" fill="none"/>
<path d="M177.07 173.18a4.2 4.2 0 1 0 -8.4 0a4.2 4.2 0 1 0 8.4 0zM177.94 172.95a4.2 4.2 0 1 0 -8.4 0a4.2 4.2 0 1 0 8.4 0zM178.81 173.92a4.2 4.2 0 1 0 -8.4 0a4.2 4.2 0 1 0 8.4 0zM179.68 173.69a4.2 4.2 0 1 0 -8.4 0a4.2 4.2 0 1 0 8.4 0zM180.55 174.65a4.2 4.2 0 1 0 -8.4 0a4.2 4.2 0 1 0 8.4 0zM181.41 174.42a4.2 4.2 0 1 0 -8.4 0a4.2 4.2 0 1 0 8.4 0zM182.28 174.19a4.2 4.2 0 1 0 -8.4 0a4.2 4.2 0 1 0 8.4 0zM183.15 175.16a4.2 4.2 0 1 0 -8.4 0a4.2 4.2 0 1 0 8.4 0zM184.02 174.93a4.2 4.2 0 1 0 -8.4 0a4.2 4.2 0 1 0 8.4 0zM184.89 174.70a4.2 4.2 0 1 0 -8.4 0a4.2 4.2 0 1 0 8.4 0zM185.75 175.67a4.2 4.2 0 1 0 -8.4 0a4.2 4.2 0 1 0 8.4 0zM186.62 175.44a4.2 4.2 0 1 0 -8.4 0a4.2 4.2 0 1 0 8.4 0zM187.49 176.41a4.2 4.2 0 1 0 -8.4 0a4.2 4.2 0 1 0 8.4 0zM188.36 176.18a4.2 4.2 0 1 0 -8.4 0a4.2 4.2 0 1 0 8.4 0zM189.23 175.94a4.2 4.2 0 1 0 -8.4 0a4.2 4.2 0 1 0 8.4 0zM190.10 176.91a4.2 4.2 0 1 0 -8.4 0a4.2 4.2 0 1 0 8.4 0zM190.96 176.67a4.2 4.2 0 1 0 -8.4 0a4.2 4.2 0 1 0 8.4 0zM191.83 176.43a4.2 4.2 0 1 0 -8.4 0a4.2 4.2 0 1 0 8.4 0zM192.70 177.39a4.2 4.2 0 1 0 -8.4 0a4.2 4.2 0 1 0 8.4 0zM193.57 177.15a4.2 4.2 0 1 0 -8.4 0a4.2 4.2 0 1 0 8.4 0zM194.44 178.12a4.2 4.2 0 1 0 -8.4 0a4.2 4.2 0 1 0 8.4 0zM195.30 177.88a4.2 4.2 0 1 0 -8.4 0a4.2 4.2 0 1 0 8.4 0zM196.17 177.64a4.2 4.2 0 1 0 -8.4 0a4.2 4.2 0 1 0 8.4 0zM197.04 178.60a4.2 4.2 0 1 0 -8.4 0a4.2 4.2 0 1 0 8.4 0zM197.91 178.37a4.2 4.2 0 1 0 -8.4 0a4.2 4.2 0 1 0 8.4 0zM198.78 179.33a4.2 4.2 0 1 0 -8.4 0a4.2 4.2 0 1 0 8.4 0zM199.65 179.09a4.2 4.2 0 1 0 -8.4 0a4.2 4.2 0 1 0 8.4 0zM200.51 178.85a4.2 4.2 0 1 0 -8.4 0a4.2 4.2 0 1 0 8.4 0zM201.38 179.62a4.2 4.2 0 1 0 -8.4 0a4.2 4.2 0 1 0 8.4 0zM202.25 179.08a4.2 4.2 0 1 0 -8.4 0a4.2 4.2 0 1 0 8.4 0zM203.12 178.55a4.2 4.2 0 1 0 -8.4 0a4.2 4.2 0 1 0 8.4 0zM203.99 179.21a4.2 4.2 0 1 0 -8.4 0a4.2 4.2 0 1 0 8.4 0zM204.85 178.68a4.2 4.2 0 1 0 -8.4 0a4.2 4.2 0 1 0 8.4 0zM205.72 179.34a4.2 4.2 0 1 0 -8.4 0a4.2 4.2 0 1 0 8.4 0zM206.59 178.81a4.2 4.2 0 1 0 -8.4 0a4.2 4.2 0 1 0 8.4 0zM207.46 178.27a4.2 4.2 0 1 0 -8.4 0a4.2 4.2 0 1 0 8.4 0zM208.33 178.94a4.2 4.2 0 1 0 -8.4 0a4.2 4.2 0 1 0 8.4 0zM209.19 178.40a4.2 4.2 0 1 0 -8.4 0a4.2 4.2 0 1 0 8.4 0zM210.06 179.07a4.2 4.2 0 1 0 -8.4 0a4.2 4.2 0 1 0 8.4 0zM210.93 178.54a4.2 4.2 0 1 0 -8.4 0a4.2 4.2 0 1 0 8.4 0zM211.80 178.00a4.2 4.2 0 1 0 -8.4 0a4.2 4.2 0 1 0 8.4 0zM212.67 178.66a4.2 4.2 0 1 0 -8.4 0a4.2 4.2 0 1 0 8.4 0zM213.53 178.11a4.2 4.2 0 1 0 -8.4 0a4.2 4.2 0 1 0 8.4 0zM214.40 177.55a4.2 4.2 0 1 0 -8.4 0a4.2 4.2 0 1 0 8.4 0zM215.27 178.20a4.2 4.2 0 1 0 -8.4 0a4.2 4.2 0 1 0 8.4 0zM216.14 177.65a4.2 4.2 0 1 0 -8.4 0a4.2 4.2 0 1 0 8.4 0zM217.01 178.30a4.2 4.2 0 1 0 -8.4 0a4.2 4.2 0 1 0 8.4 0zM217.88 177.75a4.2 4.2 0 1 0 -8.4 0a4.2 4.2 0 1 0 8.4 0zM218.74 177.19a4.2 4.2 0 1 0 -8.4 0a4.2 4.2 0 1 0 8.4 0zM219.61 177.84a4.2 4.2 0 1 0 -8.4 0a4.2 4.2 0 1 0 8.4 0zM220.48 177.29a4.2 4.2 0 1 0 -8.4 0a4.2 4.2 0 1 0 8.4 0zM221.35 176.74a4.2 4.2 0 1 0 -8.4 0a4.2 4.2 0 1 0 8.4 0zM222.22 177.39a4.2 4.2 0 1 0 -8.4 0a4.2 4.2 0 1 0 8.4 0zM223.08 176.84a4.2 4.2 0 1 0 -8.4 0a4.2 4.2 0 1 0 8.4 0zM223.95 177.48a4.2 4.2 0 1 0 -8.4 0a4.2 4.2 0 1 0 8.4 0zM224.82 176.93a4.2 4.2 0 1 0 -8.4 0a4.2 4.2 0 1 0 8.4 0zM225.69 176.49a4.2 4.2 0 1 0 -8.4 0a4.2 4.2 0 1 0 8.4 0zM226.56 177.33a4.2 4.2 0 1 0 -8.4 0a4.2 4.2 0 1 0 8.4 0zM227.43 176.98a4.2 4.2 0 1 0 -8.4 0a4.2 4.2 0 1 0 8.4 0zM228.29 177.82a4.2 4.2 0 1 0 -8.4 0a4.2 4.2 0 1 0 8.4 0zM229.16 177.47a4.2 4.2 0 1 0 -8.4 0a4.2 4.2 0 1 0 8.4 0zM230.03 177.11a4.2 4.2 0 1 0 -8.4 0a4.2 4.2 0 1 0 8.4 0zM230.90 177.96a4.2 4.2 0 1 0 -8.4 0a4.2 4.2 0 1 0 8.4 0zM231.77 177.60a4.2 4.2 0 1 0 -8.4 0a4.2 4.2 0 1 0 8.4 0zM232.63 177.24a4.2 4.2 0 1 0 -8.4 0a4.2 4.2 0 1 0 8.4 0zM233.50 178.09a4.2 4.2 0 1 0 -8.4 0a4.2 4.2 0 1 0 8.4 0zM234.37 177.73a4.2 4.2 0 1 0 -8.4 0a4.2 4.2 0 1 0 8.4 0zM235.24 178.58a4.2 4.2 0 1 0 -8.4 0a4.2 4.2 0 1 0 8.4 0zM236.11 178.22a4.2 4.2 0 1 0 -8.4 0a4.2 4.2 0 1 0 8.4 0zM236.97 178.01a4.2 4.2 0 1 0 -8.4 0a4.2 4.2 0 1 0 8.4 0zM237.84 179.01a4.2 4.2 0 1 0 -8.4 0a4.2 4.2 0 1 0 8.4 0zM238.71 178.81a4.2 4.2 0 1 0 -8.4 0a4.2 4.2 0 1 0 8.4 0zM239.58 179.81a4.2 4.2 0 1 0 -8.4 0a4.2 4.2 0 1 0 8.4 0zM240.45 179.61a4.2 4.2 0 1 0 -8.4 0a4.2 4.2 0 1 0 8.4 0zM241.31 179.42a4.2 4.2 0 1 0 -8.4 0a4.2 4.2 0 1 0 8.4 0zM242.18 180.42a4.2 4.2 0 1 0 -8.4 0a4.2 4.2 0 1 0 8.4 0zM243.05 180.22a4.2 4.2 0 1 0 -8.4 0a4.2 4.2 0 1 0 8.4 0zM243.92 180.02a4.2 4.2 0 1 0 -8.4 0a4.2 4.2 0 1 0 8.4 0zM244.79 181.02a4.2 4.2 0 1 0 -8.4 0a4.2 4.2 0 1 0 8.4 0zM245.66 180.83a4.2 4.2 0 1 0 -8.4 0a4.2 4.2 0 1 0 8.4 0zM246.52 181.83a4.2 4.2 0 1 0 -8.4 0a4.2 4.2 0 1 0 8.4 0zM247.39 181.69a4.2 4.2 0 1 0 -8.4 0a4.2 4.2 0 1 0 8.4 0zM248.26 181.76a4.2 4.2 0 1 0 -8.4 0a4.2 4.2 0 1 0 8.4 0zM249.13 183.04a4.2 4.2 0 1 0 -8.4 0a4.2 4.2 0 1 0 8.4 0zM250.00 183.11a4.2 4.2 0 1 0 -8.4 0a4.2 4.2 0 1 0 8.4 0zM250.86 183.18a4.2 4.2 0 1 0 -8.4 0a4.2 4.2 0 1 0 8.4 0zM251.73 184.46a4.2 4.2 0 1 0 -8.4 0a4.2 4.2 0 1 0 8.4 0zM254.60 187.60a4.2 4.2 0 1 0 -8.4 0a4.2 4.2 0 1 0 8.4 0zM256.40 190.60a4.2 4.2 0 1 0 -8.4 0a4.2 4.2 0 1 0 8.4 0zM258.20 193.70a4.2 4.2 0 1 0 -8.4 0a4.2 4.2 0 1 0 8.4 0zM260.00 196.00a4.2 4.2 0 1 0 -8.4 0a4.2 4.2 0 1 0 8.4 0zM261.90 197.40a4.2 4.2 0 1 0 -8.4 0a4.2 4.2 0 1 0 8.4 0zM264.30 191.30a4.2 4.2 0 1 0 -8.4 0a4.2 4.2 0 1 0 8.4 0zM266.20 185.00a4.2 4.2 0 1 0 -8.4 0a4.2 4.2 0 1 0 8.4 0zM268.00 180.30a4.2 4.2 0 1 0 -8.4 0a4.2 4.2 0 1 0 8.4 0zM269.70 178.50a4.2 4.2 0 1 0 -8.4 0a4.2 4.2 0 1 0 8.4 0zM271.60 179.10a4.2 4.2 0 1 0 -8.4 0a4.2 4.2 0 1 0 8.4 0zM272.90 184.00a4.2 4.2 0 1 0 -8.4 0a4.2 4.2 0 1 0 8.4 0zM275.30 188.90a4.2 4.2 0 1 0 -8.4 0a4.2 4.2 0 1 0 8.4 0zM276.91 192.31a4.2 4.2 0 1 0 -8.4 0a4.2 4.2 0 1 0 8.4 0zM278.36 195.08a4.2 4.2 0 1 0 -8.4 0a4.2 4.2 0 1 0 8.4 0zM279.80 195.45a4.2 4.2 0 1 0 -8.4 0a4.2 4.2 0 1 0 8.4 0zM281.25 195.82a4.2 4.2 0 1 0 -8.4 0a4.2 4.2 0 1 0 8.4 0zM282.70 198.60a4.2 4.2 0 1 0 -8.4 0a4.2 4.2 0 1 0 8.4 0zM284.14 198.93a4.2 4.2 0 1 0 -8.4 0a4.2 4.2 0 1 0 8.4 0zM285.59 201.53a4.2 4.2 0 1 0 -8.4 0a4.2 4.2 0 1 0 8.4 0zM287.04 201.73a4.2 4.2 0 1 0 -8.4 0a4.2 4.2 0 1 0 8.4 0zM288.48 201.93a4.2 4.2 0 1 0 -8.4 0a4.2 4.2 0 1 0 8.4 0zM289.93 204.54a4.2 4.2 0 1 0 -8.4 0a4.2 4.2 0 1 0 8.4 0zM291.38 204.74a4.2 4.2 0 1 0 -8.4 0a4.2 4.2 0 1 0 8.4 0zM292.82 204.94a4.2 4.2 0 1 0 -8.4 0a4.2 4.2 0 1 0 8.4 0zM294.27 207.67a4.2 4.2 0 1 0 -8.4 0a4.2 4.2 0 1 0 8.4 0zM295.72 208.11a4.2 4.2 0 1 0 -8.4 0a4.2 4.2 0 1 0 8.4 0zM297.16 210.95a4.2 4.2 0 1 0 -8.4 0a4.2 4.2 0 1 0 8.4 0zM298.61 211.39a4.2 4.2 0 1 0 -8.4 0a4.2 4.2 0 1 0 8.4 0zM300.06 211.83a4.2 4.2 0 1 0 -8.4 0a4.2 4.2 0 1 0 8.4 0zM301.51 214.67a4.2 4.2 0 1 0 -8.4 0a4.2 4.2 0 1 0 8.4 0zM302.95 215.11a4.2 4.2 0 1 0 -8.4 0a4.2 4.2 0 1 0 8.4 0zM304.40 213.32a4.2 4.2 0 1 0 -8.4 0a4.2 4.2 0 1 0 8.4 0zM305.85 213.67a4.2 4.2 0 1 0 -8.4 0a4.2 4.2 0 1 0 8.4 0zM307.29 211.63a4.2 4.2 0 1 0 -8.4 0a4.2 4.2 0 1 0 8.4 0zM308.74 211.98a4.2 4.2 0 1 0 -8.4 0a4.2 4.2 0 1 0 8.4 0zM310.19 209.94a4.2 4.2 0 1 0 -8.4 0a4.2 4.2 0 1 0 8.4 0zM311.63 209.33a4.2 4.2 0 1 0 -8.4 0a4.2 4.2 0 1 0 8.4 0zM313.08 212.17a4.2 4.2 0 1 0 -8.4 0a4.2 4.2 0 1 0 8.4 0zM314.53 212.62a4.2 4.2 0 1 0 -8.4 0a4.2 4.2 0 1 0 8.4 0zM315.97 215.46a4.2 4.2 0 1 0 -8.4 0a4.2 4.2 0 1 0 8.4 0zM317.42 215.91a4.2 4.2 0 1 0 -8.4 0a4.2 4.2 0 1 0 8.4 0zM318.87 217.26a4.2 4.2 0 1 0 -8.4 0a4.2 4.2 0 1 0 8.4 0zM320.31 221.14a4.2 4.2 0 1 0 -8.4 0a4.2 4.2 0 1 0 8.4 0zM321.76 222.62a4.2 4.2 0 1 0 -8.4 0a4.2 4.2 0 1 0 8.4 0zM323.21 224.10a4.2 4.2 0 1 0 -8.4 0a4.2 4.2 0 1 0 8.4 0zM324.66 227.67a4.2 4.2 0 1 0 -8.4 0a4.2 4.2 0 1 0 8.4 0zM326.10 227.86a4.2 4.2 0 1 0 -8.4 0a4.2 4.2 0 1 0 8.4 0zM327.55 230.46a4.2 4.2 0 1 0 -8.4 0a4.2 4.2 0 1 0 8.4 0zM329.00 229.91a4.2 4.2 0 1 0 -8.4 0a4.2 4.2 0 1 0 8.4 0zM330.44 228.74a4.2 4.2 0 1 0 -8.4 0a4.2 4.2 0 1 0 8.4 0zM331.89 229.97a4.2 4.2 0 1 0 -8.4 0a4.2 4.2 0 1 0 8.4 0zM333.34 228.81a4.2 4.2 0 1 0 -8.4 0a4.2 4.2 0 1 0 8.4 0zM334.78 230.04a4.2 4.2 0 1 0 -8.4 0a4.2 4.2 0 1 0 8.4 0zM336.23 228.88a4.2 4.2 0 1 0 -8.4 0a4.2 4.2 0 1 0 8.4 0zM337.68 227.64a4.2 4.2 0 1 0 -8.4 0a4.2 4.2 0 1 0 8.4 0zM339.12 228.74a4.2 4.2 0 1 0 -8.4 0a4.2 4.2 0 1 0 8.4 0zM340.57 227.44a4.2 4.2 0 1 0 -8.4 0a4.2 4.2 0 1 0 8.4 0zM342.02 226.14a4.2 4.2 0 1 0 -8.4 0a4.2 4.2 0 1 0 8.4 0zM343.46 227.24a4.2 4.2 0 1 0 -8.4 0a4.2 4.2 0 1 0 8.4 0zM344.91 225.94a4.2 4.2 0 1 0 -8.4 0a4.2 4.2 0 1 0 8.4 0z" stroke="#0072BD" stroke-width="2.3" fill="none"/>
<text transform="translate(138.50,185.80) scale(1.01,1)" text-anchor="end" font-size="19.4" fill="#262626">282</text>
<text transform="translate(138.50,197.08) scale(1.01,1)" text-anchor="end" font-size="19.4" fill="#262626">280</text>
<text transform="translate(138.50,208.35) scale(1.01,1)" text-anchor="end" font-size="19.4" fill="#262626">278</text>
<text transform="translate(138.50,219.62) scale(1.01,1)" text-anchor="end" font-size="19.4" fill="#262626">276</text>
<text transform="translate(138.50,230.90) scale(1.01,1)" text-anchor="end" font-size="19.4" fill="#262626">274</text>
<path d="M490.50 189.21H698.60M532.27 172.30V231.50M573.94 172.30V231.50M615.61 172.30V231.50M657.28 172.30V231.50" stroke="#dfdfdf" stroke-width="2" fill="none"/>
<path d="M491.70 222.09h1.1v1.9h-1.1zM497.25 222.09h1.1v1.9h-1.1zM502.80 222.09h1.1v1.9h-1.1zM508.35 222.09h1.1v1.9h-1.1zM513.90 222.09h1.1v1.9h-1.1zM519.45 222.09h1.1v1.9h-1.1zM525.00 222.09h1.1v1.9h-1.1zM530.55 222.09h1.1v1.9h-1.1zM536.10 222.09h1.1v1.9h-1.1zM541.65 222.09h1.1v1.9h-1.1zM547.20 222.09h1.1v1.9h-1.1zM552.75 222.09h1.1v1.9h-1.1zM558.30 222.09h1.1v1.9h-1.1zM563.85 222.09h1.1v1.9h-1.1zM569.40 222.09h1.1v1.9h-1.1zM574.95 222.09h1.1v1.9h-1.1zM580.50 222.09h1.1v1.9h-1.1zM586.05 222.09h1.1v1.9h-1.1zM591.60 222.09h1.1v1.9h-1.1zM597.15 222.09h1.1v1.9h-1.1zM602.70 222.09h1.1v1.9h-1.1zM608.25 222.09h1.1v1.9h-1.1zM613.80 222.09h1.1v1.9h-1.1zM619.35 222.09h1.1v1.9h-1.1zM624.90 222.09h1.1v1.9h-1.1zM630.45 222.09h1.1v1.9h-1.1zM636.00 222.09h1.1v1.9h-1.1zM641.55 222.09h1.1v1.9h-1.1zM647.10 222.09h1.1v1.9h-1.1zM652.65 222.09h1.1v1.9h-1.1zM658.20 222.09h1.1v1.9h-1.1zM663.75 222.09h1.1v1.9h-1.1zM669.30 222.09h1.1v1.9h-1.1zM674.85 222.09h1.1v1.9h-1.1zM680.40 222.09h1.1v1.9h-1.1zM685.95 222.09h1.1v1.9h-1.1zM691.50 222.09h1.1v1.9h-1.1zM491.70 213.64h1.1v1.9h-1.1zM497.25 213.64h1.1v1.9h-1.1zM502.80 213.64h1.1v1.9h-1.1zM508.35 213.64h1.1v1.9h-1.1zM513.90 213.64h1.1v1.9h-1.1zM519.45 213.64h1.1v1.9h-1.1zM525.00 213.64h1.1v1.9h-1.1zM530.55 213.64h1.1v1.9h-1.1zM536.10 213.64h1.1v1.9h-1.1zM541.65 213.64h1.1v1.9h-1.1zM547.20 213.64h1.1v1.9h-1.1zM552.75 213.64h1.1v1.9h-1.1zM558.30 213.64h1.1v1.9h-1.1zM563.85 213.64h1.1v1.9h-1.1zM569.40 213.64h1.1v1.9h-1.1zM574.95 213.64h1.1v1.9h-1.1zM580.50 213.64h1.1v1.9h-1.1zM586.05 213.64h1.1v1.9h-1.1zM591.60 213.64h1.1v1.9h-1.1zM597.15 213.64h1.1v1.9h-1.1zM602.70 213.64h1.1v1.9h-1.1zM608.25 213.64h1.1v1.9h-1.1zM613.80 213.64h1.1v1.9h-1.1zM619.35 213.64h1.1v1.9h-1.1zM624.90 213.64h1.1v1.9h-1.1zM630.45 213.64h1.1v1.9h-1.1zM636.00 213.64h1.1v1.9h-1.1zM641.55 213.64h1.1v1.9h-1.1zM647.10 213.64h1.1v1.9h-1.1zM652.65 213.64h1.1v1.9h-1.1zM658.20 213.64h1.1v1.9h-1.1zM663.75 213.64h1.1v1.9h-1.1zM669.30 213.64h1.1v1.9h-1.1zM674.85 213.64h1.1v1.9h-1.1zM680.40 213.64h1.1v1.9h-1.1zM685.95 213.64h1.1v1.9h-1.1zM691.50 213.64h1.1v1.9h-1.1zM491.70 205.18h1.1v1.9h-1.1zM497.25 205.18h1.1v1.9h-1.1zM502.80 205.18h1.1v1.9h-1.1zM508.35 205.18h1.1v1.9h-1.1zM513.90 205.18h1.1v1.9h-1.1zM519.45 205.18h1.1v1.9h-1.1zM525.00 205.18h1.1v1.9h-1.1zM530.55 205.18h1.1v1.9h-1.1zM536.10 205.18h1.1v1.9h-1.1zM541.65 205.18h1.1v1.9h-1.1zM547.20 205.18h1.1v1.9h-1.1zM552.75 205.18h1.1v1.9h-1.1zM558.30 205.18h1.1v1.9h-1.1zM563.85 205.18h1.1v1.9h-1.1zM569.40 205.18h1.1v1.9h-1.1zM574.95 205.18h1.1v1.9h-1.1zM580.50 205.18h1.1v1.9h-1.1zM586.05 205.18h1.1v1.9h-1.1zM591.60 205.18h1.1v1.9h-1.1zM597.15 205.18h1.1v1.9h-1.1zM602.70 205.18h1.1v1.9h-1.1zM608.25 205.18h1.1v1.9h-1.1zM613.80 205.18h1.1v1.9h-1.1zM619.35 205.18h1.1v1.9h-1.1zM624.90 205.18h1.1v1.9h-1.1zM630.45 205.18h1.1v1.9h-1.1zM636.00 205.18h1.1v1.9h-1.1zM641.55 205.18h1.1v1.9h-1.1zM647.10 205.18h1.1v1.9h-1.1zM652.65 205.18h1.1v1.9h-1.1zM658.20 205.18h1.1v1.9h-1.1zM663.75 205.18h1.1v1.9h-1.1zM669.30 205.18h1.1v1.9h-1.1zM674.85 205.18h1.1v1.9h-1.1zM680.40 205.18h1.1v1.9h-1.1zM685.95 205.18h1.1v1.9h-1.1zM691.50 205.18h1.1v1.9h-1.1zM491.70 196.72h1.1v1.9h-1.1zM497.25 196.72h1.1v1.9h-1.1zM502.80 196.72h1.1v1.9h-1.1zM508.35 196.72h1.1v1.9h-1.1zM513.90 196.72h1.1v1.9h-1.1zM519.45 196.72h1.1v1.9h-1.1zM525.00 196.72h1.1v1.9h-1.1zM530.55 196.72h1.1v1.9h-1.1zM536.10 196.72h1.1v1.9h-1.1zM541.65 196.72h1.1v1.9h-1.1zM547.20 196.72h1.1v1.9h-1.1zM552.75 196.72h1.1v1.9h-1.1zM558.30 196.72h1.1v1.9h-1.1zM563.85 196.72h1.1v1.9h-1.1zM569.40 196.72h1.1v1.9h-1.1zM574.95 196.72h1.1v1.9h-1.1zM580.50 196.72h1.1v1.9h-1.1zM586.05 196.72h1.1v1.9h-1.1zM591.60 196.72h1.1v1.9h-1.1zM597.15 196.72h1.1v1.9h-1.1zM602.70 196.72h1.1v1.9h-1.1zM608.25 196.72h1.1v1.9h-1.1zM613.80 196.72h1.1v1.9h-1.1zM619.35 196.72h1.1v1.9h-1.1zM624.90 196.72h1.1v1.9h-1.1zM630.45 196.72h1.1v1.9h-1.1zM636.00 196.72h1.1v1.9h-1.1zM641.55 196.72h1.1v1.9h-1.1zM647.10 196.72h1.1v1.9h-1.1zM652.65 196.72h1.1v1.9h-1.1zM658.20 196.72h1.1v1.9h-1.1zM663.75 196.72h1.1v1.9h-1.1zM669.30 196.72h1.1v1.9h-1.1zM674.85 196.72h1.1v1.9h-1.1zM680.40 196.72h1.1v1.9h-1.1zM685.95 196.72h1.1v1.9h-1.1zM691.50 196.72h1.1v1.9h-1.1zM491.70 179.81h1.1v1.9h-1.1zM497.25 179.81h1.1v1.9h-1.1zM502.80 179.81h1.1v1.9h-1.1zM508.35 179.81h1.1v1.9h-1.1zM513.90 179.81h1.1v1.9h-1.1zM519.45 179.81h1.1v1.9h-1.1zM525.00 179.81h1.1v1.9h-1.1zM530.55 179.81h1.1v1.9h-1.1zM536.10 179.81h1.1v1.9h-1.1zM541.65 179.81h1.1v1.9h-1.1zM547.20 179.81h1.1v1.9h-1.1zM552.75 179.81h1.1v1.9h-1.1zM558.30 179.81h1.1v1.9h-1.1zM563.85 179.81h1.1v1.9h-1.1zM569.40 179.81h1.1v1.9h-1.1zM574.95 179.81h1.1v1.9h-1.1zM580.50 179.81h1.1v1.9h-1.1zM586.05 179.81h1.1v1.9h-1.1zM591.60 179.81h1.1v1.9h-1.1zM597.15 179.81h1.1v1.9h-1.1zM602.70 179.81h1.1v1.9h-1.1zM608.25 179.81h1.1v1.9h-1.1zM613.80 179.81h1.1v1.9h-1.1zM619.35 179.81h1.1v1.9h-1.1zM624.90 179.81h1.1v1.9h-1.1zM630.45 179.81h1.1v1.9h-1.1zM636.00 179.81h1.1v1.9h-1.1zM641.55 179.81h1.1v1.9h-1.1zM647.10 179.81h1.1v1.9h-1.1zM652.65 179.81h1.1v1.9h-1.1zM658.20 179.81h1.1v1.9h-1.1zM663.75 179.81h1.1v1.9h-1.1zM669.30 179.81h1.1v1.9h-1.1zM674.85 179.81h1.1v1.9h-1.1zM680.40 179.81h1.1v1.9h-1.1zM685.95 179.81h1.1v1.9h-1.1zM691.50 179.81h1.1v1.9h-1.1z" fill="#a4a4a4"/>
<path d="M490.50 231.50h3.3M698.60 231.50h-3.3M490.50 189.21h3.3M698.60 189.21h-3.3M532.27 231.50v-3.3M532.27 172.30v3.3M573.94 231.50v-3.3M573.94 172.30v3.3M615.61 231.50v-3.3M615.61 172.30v3.3M657.28 231.50v-3.3M657.28 172.30v3.3" stroke="#262626" stroke-width="2" fill="none"/>
<rect x="490.5" y="172.3" width="208.10" height="59.20" stroke="#262626" stroke-width="2" fill="none"/>
<path d="M528.40 171.70a4.2 4.2 0 1 0 -8.4 0a4.2 4.2 0 1 0 8.4 0zM529.20 172.30a4.2 4.2 0 1 0 -8.4 0a4.2 4.2 0 1 0 8.4 0zM525.40 180.60a4.2 4.2 0 1 0 -8.4 0a4.2 4.2 0 1 0 8.4 0zM538.00 180.60a4.2 4.2 0 1 0 -8.4 0a4.2 4.2 0 1 0 8.4 0zM520.60 197.00a4.2 4.2 0 1 0 -8.4 0a4.2 4.2 0 1 0 8.4 0zM539.80 197.00a4.2 4.2 0 1 0 -8.4 0a4.2 4.2 0 1 0 8.4 0zM522.70 206.00a4.2 4.2 0 1 0 -8.4 0a4.2 4.2 0 1 0 8.4 0zM524.20 206.00a4.2 4.2 0 1 0 -8.4 0a4.2 4.2 0 1 0 8.4 0zM533.70 206.00a4.2 4.2 0 1 0 -8.4 0a4.2 4.2 0 1 0 8.4 0zM535.20 206.00a4.2 4.2 0 1 0 -8.4 0a4.2 4.2 0 1 0 8.4 0zM548.70 206.00a4.2 4.2 0 1 0 -8.4 0a4.2 4.2 0 1 0 8.4 0zM550.20 206.00a4.2 4.2 0 1 0 -8.4 0a4.2 4.2 0 1 0 8.4 0zM541.10 214.50a4.2 4.2 0 1 0 -8.4 0a4.2 4.2 0 1 0 8.4 0zM530.80 223.10a4.2 4.2 0 1 0 -8.4 0a4.2 4.2 0 1 0 8.4 0zM546.60 223.10a4.2 4.2 0 1 0 -8.4 0a4.2 4.2 0 1 0 8.4 0zM614.40 205.90a4.2 4.2 0 1 0 -8.4 0a4.2 4.2 0 1 0 8.4 0zM543.60 231.50a4.2 4.2 0 1 0 -8.4 0a4.2 4.2 0 1 0 8.4 0zM552.96 231.50a4.2 4.2 0 1 0 -8.4 0a4.2 4.2 0 1 0 8.4 0zM553.83 231.50a4.2 4.2 0 1 0 -8.4 0a4.2 4.2 0 1 0 8.4 0zM554.70 231.50a4.2 4.2 0 1 0 -8.4 0a4.2 4.2 0 1 0 8.4 0zM555.57 231.50a4.2 4.2 0 1 0 -8.4 0a4.2 4.2 0 1 0 8.4 0zM556.44 231.50a4.2 4.2 0 1 0 -8.4 0a4.2 4.2 0 1 0 8.4 0zM557.31 231.50a4.2 4.2 0 1 0 -8.4 0a4.2 4.2 0 1 0 8.4 0zM558.17 231.50a4.2 4.2 0 1 0 -8.4 0a4.2 4.2 0 1 0 8.4 0zM559.04 231.50a4.2 4.2 0 1 0 -8.4 0a4.2 4.2 0 1 0 8.4 0zM559.91 231.50a4.2 4.2 0 1 0 -8.4 0a4.2 4.2 0 1 0 8.4 0zM560.78 231.50a4.2 4.2 0 1 0 -8.4 0a4.2 4.2 0 1 0 8.4 0zM561.65 231.50a4.2 4.2 0 1 0 -8.4 0a4.2 4.2 0 1 0 8.4 0zM562.51 231.50a4.2 4.2 0 1 0 -8.4 0a4.2 4.2 0 1 0 8.4 0zM563.38 231.50a4.2 4.2 0 1 0 -8.4 0a4.2 4.2 0 1 0 8.4 0zM564.25 231.50a4.2 4.2 0 1 0 -8.4 0a4.2 4.2 0 1 0 8.4 0zM565.12 231.50a4.2 4.2 0 1 0 -8.4 0a4.2 4.2 0 1 0 8.4 0zM565.99 231.50a4.2 4.2 0 1 0 -8.4 0a4.2 4.2 0 1 0 8.4 0zM566.85 231.50a4.2 4.2 0 1 0 -8.4 0a4.2 4.2 0 1 0 8.4 0zM567.72 231.50a4.2 4.2 0 1 0 -8.4 0a4.2 4.2 0 1 0 8.4 0zM568.59 231.50a4.2 4.2 0 1 0 -8.4 0a4.2 4.2 0 1 0 8.4 0zM569.46 231.50a4.2 4.2 0 1 0 -8.4 0a4.2 4.2 0 1 0 8.4 0zM570.33 231.50a4.2 4.2 0 1 0 -8.4 0a4.2 4.2 0 1 0 8.4 0zM571.20 231.50a4.2 4.2 0 1 0 -8.4 0a4.2 4.2 0 1 0 8.4 0zM572.06 231.50a4.2 4.2 0 1 0 -8.4 0a4.2 4.2 0 1 0 8.4 0zM572.93 231.50a4.2 4.2 0 1 0 -8.4 0a4.2 4.2 0 1 0 8.4 0zM573.80 231.50a4.2 4.2 0 1 0 -8.4 0a4.2 4.2 0 1 0 8.4 0zM574.67 231.50a4.2 4.2 0 1 0 -8.4 0a4.2 4.2 0 1 0 8.4 0zM575.54 231.50a4.2 4.2 0 1 0 -8.4 0a4.2 4.2 0 1 0 8.4 0zM576.40 231.50a4.2 4.2 0 1 0 -8.4 0a4.2 4.2 0 1 0 8.4 0zM577.27 231.50a4.2 4.2 0 1 0 -8.4 0a4.2 4.2 0 1 0 8.4 0zM578.14 231.50a4.2 4.2 0 1 0 -8.4 0a4.2 4.2 0 1 0 8.4 0zM579.01 231.50a4.2 4.2 0 1 0 -8.4 0a4.2 4.2 0 1 0 8.4 0zM579.88 231.50a4.2 4.2 0 1 0 -8.4 0a4.2 4.2 0 1 0 8.4 0zM580.74 231.50a4.2 4.2 0 1 0 -8.4 0a4.2 4.2 0 1 0 8.4 0zM581.61 231.50a4.2 4.2 0 1 0 -8.4 0a4.2 4.2 0 1 0 8.4 0zM582.48 231.50a4.2 4.2 0 1 0 -8.4 0a4.2 4.2 0 1 0 8.4 0zM583.35 231.50a4.2 4.2 0 1 0 -8.4 0a4.2 4.2 0 1 0 8.4 0zM584.22 231.50a4.2 4.2 0 1 0 -8.4 0a4.2 4.2 0 1 0 8.4 0zM585.09 231.50a4.2 4.2 0 1 0 -8.4 0a4.2 4.2 0 1 0 8.4 0zM585.95 231.50a4.2 4.2 0 1 0 -8.4 0a4.2 4.2 0 1 0 8.4 0zM586.82 231.50a4.2 4.2 0 1 0 -8.4 0a4.2 4.2 0 1 0 8.4 0zM587.69 231.50a4.2 4.2 0 1 0 -8.4 0a4.2 4.2 0 1 0 8.4 0zM588.56 231.50a4.2 4.2 0 1 0 -8.4 0a4.2 4.2 0 1 0 8.4 0zM589.43 231.50a4.2 4.2 0 1 0 -8.4 0a4.2 4.2 0 1 0 8.4 0zM590.29 231.50a4.2 4.2 0 1 0 -8.4 0a4.2 4.2 0 1 0 8.4 0zM591.16 231.50a4.2 4.2 0 1 0 -8.4 0a4.2 4.2 0 1 0 8.4 0zM592.03 231.50a4.2 4.2 0 1 0 -8.4 0a4.2 4.2 0 1 0 8.4 0zM592.90 231.50a4.2 4.2 0 1 0 -8.4 0a4.2 4.2 0 1 0 8.4 0zM593.77 231.50a4.2 4.2 0 1 0 -8.4 0a4.2 4.2 0 1 0 8.4 0zM594.63 231.50a4.2 4.2 0 1 0 -8.4 0a4.2 4.2 0 1 0 8.4 0zM595.50 231.50a4.2 4.2 0 1 0 -8.4 0a4.2 4.2 0 1 0 8.4 0zM596.37 231.50a4.2 4.2 0 1 0 -8.4 0a4.2 4.2 0 1 0 8.4 0zM597.24 231.50a4.2 4.2 0 1 0 -8.4 0a4.2 4.2 0 1 0 8.4 0zM598.11 231.50a4.2 4.2 0 1 0 -8.4 0a4.2 4.2 0 1 0 8.4 0zM598.98 231.50a4.2 4.2 0 1 0 -8.4 0a4.2 4.2 0 1 0 8.4 0zM599.84 231.50a4.2 4.2 0 1 0 -8.4 0a4.2 4.2 0 1 0 8.4 0zM600.71 231.50a4.2 4.2 0 1 0 -8.4 0a4.2 4.2 0 1 0 8.4 0zM601.58 231.50a4.2 4.2 0 1 0 -8.4 0a4.2 4.2 0 1 0 8.4 0zM602.45 231.50a4.2 4.2 0 1 0 -8.4 0a4.2 4.2 0 1 0 8.4 0zM603.32 231.50a4.2 4.2 0 1 0 -8.4 0a4.2 4.2 0 1 0 8.4 0zM604.18 231.50a4.2 4.2 0 1 0 -8.4 0a4.2 4.2 0 1 0 8.4 0zM605.05 231.50a4.2 4.2 0 1 0 -8.4 0a4.2 4.2 0 1 0 8.4 0zM605.92 231.50a4.2 4.2 0 1 0 -8.4 0a4.2 4.2 0 1 0 8.4 0zM606.79 231.50a4.2 4.2 0 1 0 -8.4 0a4.2 4.2 0 1 0 8.4 0zM607.66 231.50a4.2 4.2 0 1 0 -8.4 0a4.2 4.2 0 1 0 8.4 0zM608.52 231.50a4.2 4.2 0 1 0 -8.4 0a4.2 4.2 0 1 0 8.4 0zM609.39 231.50a4.2 4.2 0 1 0 -8.4 0a4.2 4.2 0 1 0 8.4 0zM610.26 231.50a4.2 4.2 0 1 0 -8.4 0a4.2 4.2 0 1 0 8.4 0zM611.13 231.50a4.2 4.2 0 1 0 -8.4 0a4.2 4.2 0 1 0 8.4 0zM612.00 231.50a4.2 4.2 0 1 0 -8.4 0a4.2 4.2 0 1 0 8.4 0zM612.87 231.50a4.2 4.2 0 1 0 -8.4 0a4.2 4.2 0 1 0 8.4 0zM613.73 231.50a4.2 4.2 0 1 0 -8.4 0a4.2 4.2 0 1 0 8.4 0zM614.60 231.50a4.2 4.2 0 1 0 -8.4 0a4.2 4.2 0 1 0 8.4 0zM615.47 231.50a4.2 4.2 0 1 0 -8.4 0a4.2 4.2 0 1 0 8.4 0zM616.34 231.50a4.2 4.2 0 1 0 -8.4 0a4.2 4.2 0 1 0 8.4 0zM617.21 231.50a4.2 4.2 0 1 0 -8.4 0a4.2 4.2 0 1 0 8.4 0zM618.07 231.50a4.2 4.2 0 1 0 -8.4 0a4.2 4.2 0 1 0 8.4 0zM618.94 231.50a4.2 4.2 0 1 0 -8.4 0a4.2 4.2 0 1 0 8.4 0zM619.81 231.50a4.2 4.2 0 1 0 -8.4 0a4.2 4.2 0 1 0 8.4 0zM620.68 231.50a4.2 4.2 0 1 0 -8.4 0a4.2 4.2 0 1 0 8.4 0zM621.55 231.50a4.2 4.2 0 1 0 -8.4 0a4.2 4.2 0 1 0 8.4 0zM622.41 231.50a4.2 4.2 0 1 0 -8.4 0a4.2 4.2 0 1 0 8.4 0zM623.28 231.50a4.2 4.2 0 1 0 -8.4 0a4.2 4.2 0 1 0 8.4 0zM624.15 231.50a4.2 4.2 0 1 0 -8.4 0a4.2 4.2 0 1 0 8.4 0zM625.02 231.50a4.2 4.2 0 1 0 -8.4 0a4.2 4.2 0 1 0 8.4 0zM625.89 231.50a4.2 4.2 0 1 0 -8.4 0a4.2 4.2 0 1 0 8.4 0zM626.76 231.50a4.2 4.2 0 1 0 -8.4 0a4.2 4.2 0 1 0 8.4 0zM627.62 231.50a4.2 4.2 0 1 0 -8.4 0a4.2 4.2 0 1 0 8.4 0zM628.49 231.50a4.2 4.2 0 1 0 -8.4 0a4.2 4.2 0 1 0 8.4 0zM629.36 231.50a4.2 4.2 0 1 0 -8.4 0a4.2 4.2 0 1 0 8.4 0zM630.23 231.50a4.2 4.2 0 1 0 -8.4 0a4.2 4.2 0 1 0 8.4 0zM631.10 231.50a4.2 4.2 0 1 0 -8.4 0a4.2 4.2 0 1 0 8.4 0zM631.96 231.50a4.2 4.2 0 1 0 -8.4 0a4.2 4.2 0 1 0 8.4 0zM632.83 231.50a4.2 4.2 0 1 0 -8.4 0a4.2 4.2 0 1 0 8.4 0zM633.70 231.50a4.2 4.2 0 1 0 -8.4 0a4.2 4.2 0 1 0 8.4 0zM634.57 231.50a4.2 4.2 0 1 0 -8.4 0a4.2 4.2 0 1 0 8.4 0zM635.44 231.50a4.2 4.2 0 1 0 -8.4 0a4.2 4.2 0 1 0 8.4 0zM636.30 231.50a4.2 4.2 0 1 0 -8.4 0a4.2 4.2 0 1 0 8.4 0zM637.17 231.50a4.2 4.2 0 1 0 -8.4 0a4.2 4.2 0 1 0 8.4 0zM638.04 231.50a4.2 4.2 0 1 0 -8.4 0a4.2 4.2 0 1 0 8.4 0zM638.91 231.50a4.2 4.2 0 1 0 -8.4 0a4.2 4.2 0 1 0 8.4 0zM639.78 231.50a4.2 4.2 0 1 0 -8.4 0a4.2 4.2 0 1 0 8.4 0zM640.65 231.50a4.2 4.2 0 1 0 -8.4 0a4.2 4.2 0 1 0 8.4 0zM641.51 231.50a4.2 4.2 0 1 0 -8.4 0a4.2 4.2 0 1 0 8.4 0zM642.38 231.50a4.2 4.2 0 1 0 -8.4 0a4.2 4.2 0 1 0 8.4 0zM643.25 231.50a4.2 4.2 0 1 0 -8.4 0a4.2 4.2 0 1 0 8.4 0zM644.12 231.50a4.2 4.2 0 1 0 -8.4 0a4.2 4.2 0 1 0 8.4 0zM644.99 231.50a4.2 4.2 0 1 0 -8.4 0a4.2 4.2 0 1 0 8.4 0zM645.85 231.50a4.2 4.2 0 1 0 -8.4 0a4.2 4.2 0 1 0 8.4 0zM646.72 231.50a4.2 4.2 0 1 0 -8.4 0a4.2 4.2 0 1 0 8.4 0zM647.59 231.50a4.2 4.2 0 1 0 -8.4 0a4.2 4.2 0 1 0 8.4 0zM648.46 231.50a4.2 4.2 0 1 0 -8.4 0a4.2 4.2 0 1 0 8.4 0zM649.33 231.50a4.2 4.2 0 1 0 -8.4 0a4.2 4.2 0 1 0 8.4 0zM650.19 231.50a4.2 4.2 0 1 0 -8.4 0a4.2 4.2 0 1 0 8.4 0zM651.06 231.50a4.2 4.2 0 1 0 -8.4 0a4.2 4.2 0 1 0 8.4 0zM651.93 231.50a4.2 4.2 0 1 0 -8.4 0a4.2 4.2 0 1 0 8.4 0zM652.80 231.50a4.2 4.2 0 1 0 -8.4 0a4.2 4.2 0 1 0 8.4 0zM653.67 231.50a4.2 4.2 0 1 0 -8.4 0a4.2 4.2 0 1 0 8.4 0zM654.54 231.50a4.2 4.2 0 1 0 -8.4 0a4.2 4.2 0 1 0 8.4 0zM655.40 231.50a4.2 4.2 0 1 0 -8.4 0a4.2 4.2 0 1 0 8.4 0zM656.27 231.50a4.2 4.2 0 1 0 -8.4 0a4.2 4.2 0 1 0 8.4 0zM657.14 231.50a4.2 4.2 0 1 0 -8.4 0a4.2 4.2 0 1 0 8.4 0zM658.01 231.50a4.2 4.2 0 1 0 -8.4 0a4.2 4.2 0 1 0 8.4 0zM658.88 231.50a4.2 4.2 0 1 0 -8.4 0a4.2 4.2 0 1 0 8.4 0zM659.74 231.50a4.2 4.2 0 1 0 -8.4 0a4.2 4.2 0 1 0 8.4 0zM660.61 231.50a4.2 4.2 0 1 0 -8.4 0a4.2 4.2 0 1 0 8.4 0zM661.48 231.50a4.2 4.2 0 1 0 -8.4 0a4.2 4.2 0 1 0 8.4 0zM662.35 231.50a4.2 4.2 0 1 0 -8.4 0a4.2 4.2 0 1 0 8.4 0zM663.22 231.50a4.2 4.2 0 1 0 -8.4 0a4.2 4.2 0 1 0 8.4 0zM664.08 231.50a4.2 4.2 0 1 0 -8.4 0a4.2 4.2 0 1 0 8.4 0zM664.95 231.50a4.2 4.2 0 1 0 -8.4 0a4.2 4.2 0 1 0 8.4 0zM665.82 231.50a4.2 4.2 0 1 0 -8.4 0a4.2 4.2 0 1 0 8.4 0zM666.69 231.50a4.2 4.2 0 1 0 -8.4 0a4.2 4.2 0 1 0 8.4 0zM667.56 231.50a4.2 4.2 0 1 0 -8.4 0a4.2 4.2 0 1 0 8.4 0zM668.43 231.50a4.2 4.2 0 1 0 -8.4 0a4.2 4.2 0 1 0 8.4 0zM669.29 231.50a4.2 4.2 0 1 0 -8.4 0a4.2 4.2 0 1 0 8.4 0zM670.16 231.50a4.2 4.2 0 1 0 -8.4 0a4.2 4.2 0 1 0 8.4 0zM671.03 231.50a4.2 4.2 0 1 0 -8.4 0a4.2 4.2 0 1 0 8.4 0zM671.90 231.50a4.2 4.2 0 1 0 -8.4 0a4.2 4.2 0 1 0 8.4 0zM672.77 231.50a4.2 4.2 0 1 0 -8.4 0a4.2 4.2 0 1 0 8.4 0zM673.63 231.50a4.2 4.2 0 1 0 -8.4 0a4.2 4.2 0 1 0 8.4 0zM674.50 231.50a4.2 4.2 0 1 0 -8.4 0a4.2 4.2 0 1 0 8.4 0zM675.37 231.50a4.2 4.2 0 1 0 -8.4 0a4.2 4.2 0 1 0 8.4 0zM676.24 231.50a4.2 4.2 0 1 0 -8.4 0a4.2 4.2 0 1 0 8.4 0zM677.11 231.50a4.2 4.2 0 1 0 -8.4 0a4.2 4.2 0 1 0 8.4 0zM677.97 231.50a4.2 4.2 0 1 0 -8.4 0a4.2 4.2 0 1 0 8.4 0zM678.84 231.50a4.2 4.2 0 1 0 -8.4 0a4.2 4.2 0 1 0 8.4 0zM679.71 231.50a4.2 4.2 0 1 0 -8.4 0a4.2 4.2 0 1 0 8.4 0zM680.58 231.50a4.2 4.2 0 1 0 -8.4 0a4.2 4.2 0 1 0 8.4 0zM681.45 231.50a4.2 4.2 0 1 0 -8.4 0a4.2 4.2 0 1 0 8.4 0zM682.32 231.50a4.2 4.2 0 1 0 -8.4 0a4.2 4.2 0 1 0 8.4 0zM683.18 231.50a4.2 4.2 0 1 0 -8.4 0a4.2 4.2 0 1 0 8.4 0zM684.05 231.50a4.2 4.2 0 1 0 -8.4 0a4.2 4.2 0 1 0 8.4 0zM684.92 231.50a4.2 4.2 0 1 0 -8.4 0a4.2 4.2 0 1 0 8.4 0zM685.79 231.50a4.2 4.2 0 1 0 -8.4 0a4.2 4.2 0 1 0 8.4 0zM686.66 231.50a4.2 4.2 0 1 0 -8.4 0a4.2 4.2 0 1 0 8.4 0z" stroke="#0072BD" stroke-width="2.3" fill="none"/>
<text transform="translate(481.50,195.71) scale(1.01,1)" text-anchor="end" font-size="19.4" fill="#262626">0.5</text>
<text transform="translate(481.50,238.00) scale(1.01,1)" text-anchor="end" font-size="19.4" fill="#262626">0</text>
<path d="M147.50 329.45H355.60M188.50 299.50V359.40M230.17 299.50V359.40M271.84 299.50V359.40M313.51 299.50V359.40" stroke="#dfdfdf" stroke-width="2" fill="none"/>
<path d="M148.70 352.46h1.1v1.9h-1.1zM154.25 352.46h1.1v1.9h-1.1zM159.80 352.46h1.1v1.9h-1.1zM165.35 352.46h1.1v1.9h-1.1zM170.90 352.46h1.1v1.9h-1.1zM176.45 352.46h1.1v1.9h-1.1zM182.00 352.46h1.1v1.9h-1.1zM187.55 352.46h1.1v1.9h-1.1zM193.10 352.46h1.1v1.9h-1.1zM198.65 352.46h1.1v1.9h-1.1zM204.20 352.46h1.1v1.9h-1.1zM209.75 352.46h1.1v1.9h-1.1zM215.30 352.46h1.1v1.9h-1.1zM220.85 352.46h1.1v1.9h-1.1zM226.40 352.46h1.1v1.9h-1.1zM231.95 352.46h1.1v1.9h-1.1zM237.50 352.46h1.1v1.9h-1.1zM243.05 352.46h1.1v1.9h-1.1zM248.60 352.46h1.1v1.9h-1.1zM254.15 352.46h1.1v1.9h-1.1zM259.70 352.46h1.1v1.9h-1.1zM265.25 352.46h1.1v1.9h-1.1zM270.80 352.46h1.1v1.9h-1.1zM276.35 352.46h1.1v1.9h-1.1zM281.90 352.46h1.1v1.9h-1.1zM287.45 352.46h1.1v1.9h-1.1zM293.00 352.46h1.1v1.9h-1.1zM298.55 352.46h1.1v1.9h-1.1zM304.10 352.46h1.1v1.9h-1.1zM309.65 352.46h1.1v1.9h-1.1zM315.20 352.46h1.1v1.9h-1.1zM320.75 352.46h1.1v1.9h-1.1zM326.30 352.46h1.1v1.9h-1.1zM331.85 352.46h1.1v1.9h-1.1zM337.40 352.46h1.1v1.9h-1.1zM342.95 352.46h1.1v1.9h-1.1zM348.50 352.46h1.1v1.9h-1.1zM148.70 346.47h1.1v1.9h-1.1zM154.25 346.47h1.1v1.9h-1.1zM159.80 346.47h1.1v1.9h-1.1zM165.35 346.47h1.1v1.9h-1.1zM170.90 346.47h1.1v1.9h-1.1zM176.45 346.47h1.1v1.9h-1.1zM182.00 346.47h1.1v1.9h-1.1zM187.55 346.47h1.1v1.9h-1.1zM193.10 346.47h1.1v1.9h-1.1zM198.65 346.47h1.1v1.9h-1.1zM204.20 346.47h1.1v1.9h-1.1zM209.75 346.47h1.1v1.9h-1.1zM215.30 346.47h1.1v1.9h-1.1zM220.85 346.47h1.1v1.9h-1.1zM226.40 346.47h1.1v1.9h-1.1zM231.95 346.47h1.1v1.9h-1.1zM237.50 346.47h1.1v1.9h-1.1zM243.05 346.47h1.1v1.9h-1.1zM248.60 346.47h1.1v1.9h-1.1zM254.15 346.47h1.1v1.9h-1.1zM259.70 346.47h1.1v1.9h-1.1zM265.25 346.47h1.1v1.9h-1.1zM270.80 346.47h1.1v1.9h-1.1zM276.35 346.47h1.1v1.9h-1.1zM281.90 346.47h1.1v1.9h-1.1zM287.45 346.47h1.1v1.9h-1.1zM293.00 346.47h1.1v1.9h-1.1zM298.55 346.47h1.1v1.9h-1.1zM304.10 346.47h1.1v1.9h-1.1zM309.65 346.47h1.1v1.9h-1.1zM315.20 346.47h1.1v1.9h-1.1zM320.75 346.47h1.1v1.9h-1.1zM326.30 346.47h1.1v1.9h-1.1zM331.85 346.47h1.1v1.9h-1.1zM337.40 346.47h1.1v1.9h-1.1zM342.95 346.47h1.1v1.9h-1.1zM348.50 346.47h1.1v1.9h-1.1zM148.70 340.48h1.1v1.9h-1.1zM154.25 340.48h1.1v1.9h-1.1zM159.80 340.48h1.1v1.9h-1.1zM165.35 340.48h1.1v1.9h-1.1zM170.90 340.48h1.1v1.9h-1.1zM176.45 340.48h1.1v1.9h-1.1zM182.00 340.48h1.1v1.9h-1.1zM187.55 340.48h1.1v1.9h-1.1zM193.10 340.48h1.1v1.9h-1.1zM198.65 340.48h1.1v1.9h-1.1zM204.20 340.48h1.1v1.9h-1.1zM209.75 340.48h1.1v1.9h-1.1zM215.30 340.48h1.1v1.9h-1.1zM220.85 340.48h1.1v1.9h-1.1zM226.40 340.48h1.1v1.9h-1.1zM231.95 340.48h1.1v1.9h-1.1zM237.50 340.48h1.1v1.9h-1.1zM243.05 340.48h1.1v1.9h-1.1zM248.60 340.48h1.1v1.9h-1.1zM254.15 340.48h1.1v1.9h-1.1zM259.70 340.48h1.1v1.9h-1.1zM265.25 340.48h1.1v1.9h-1.1zM270.80 340.48h1.1v1.9h-1.1zM276.35 340.48h1.1v1.9h-1.1zM281.90 340.48h1.1v1.9h-1.1zM287.45 340.48h1.1v1.9h-1.1zM293.00 340.48h1.1v1.9h-1.1zM298.55 340.48h1.1v1.9h-1.1zM304.10 340.48h1.1v1.9h-1.1zM309.65 340.48h1.1v1.9h-1.1zM315.20 340.48h1.1v1.9h-1.1zM320.75 340.48h1.1v1.9h-1.1zM326.30 340.48h1.1v1.9h-1.1zM331.85 340.48h1.1v1.9h-1.1zM337.40 340.48h1.1v1.9h-1.1zM342.95 340.48h1.1v1.9h-1.1zM348.50 340.48h1.1v1.9h-1.1zM148.70 334.49h1.1v1.9h-1.1zM154.25 334.49h1.1v1.9h-1.1zM159.80 334.49h1.1v1.9h-1.1zM165.35 334.49h1.1v1.9h-1.1zM170.90 334.49h1.1v1.9h-1.1zM176.45 334.49h1.1v1.9h-1.1zM182.00 334.49h1.1v1.9h-1.1zM187.55 334.49h1.1v1.9h-1.1zM193.10 334.49h1.1v1.9h-1.1zM198.65 334.49h1.1v1.9h-1.1zM204.20 334.49h1.1v1.9h-1.1zM209.75 334.49h1.1v1.9h-1.1zM215.30 334.49h1.1v1.9h-1.1zM220.85 334.49h1.1v1.9h-1.1zM226.40 334.49h1.1v1.9h-1.1zM231.95 334.49h1.1v1.9h-1.1zM237.50 334.49h1.1v1.9h-1.1zM243.05 334.49h1.1v1.9h-1.1zM248.60 334.49h1.1v1.9h-1.1zM254.15 334.49h1.1v1.9h-1.1zM259.70 334.49h1.1v1.9h-1.1zM265.25 334.49h1.1v1.9h-1.1zM270.80 334.49h1.1v1.9h-1.1zM276.35 334.49h1.1v1.9h-1.1zM281.90 334.49h1.1v1.9h-1.1zM287.45 334.49h1.1v1.9h-1.1zM293.00 334.49h1.1v1.9h-1.1zM298.55 334.49h1.1v1.9h-1.1zM304.10 334.49h1.1v1.9h-1.1zM309.65 334.49h1.1v1.9h-1.1zM315.20 334.49h1.1v1.9h-1.1zM320.75 334.49h1.1v1.9h-1.1zM326.30 334.49h1.1v1.9h-1.1zM331.85 334.49h1.1v1.9h-1.1zM337.40 334.49h1.1v1.9h-1.1zM342.95 334.49h1.1v1.9h-1.1zM348.50 334.49h1.1v1.9h-1.1zM148.70 322.51h1.1v1.9h-1.1zM154.25 322.51h1.1v1.9h-1.1zM159.80 322.51h1.1v1.9h-1.1zM165.35 322.51h1.1v1.9h-1.1zM170.90 322.51h1.1v1.9h-1.1zM176.45 322.51h1.1v1.9h-1.1zM182.00 322.51h1.1v1.9h-1.1zM187.55 322.51h1.1v1.9h-1.1zM193.10 322.51h1.1v1.9h-1.1zM198.65 322.51h1.1v1.9h-1.1zM204.20 322.51h1.1v1.9h-1.1zM209.75 322.51h1.1v1.9h-1.1zM215.30 322.51h1.1v1.9h-1.1zM220.85 322.51h1.1v1.9h-1.1zM226.40 322.51h1.1v1.9h-1.1zM231.95 322.51h1.1v1.9h-1.1zM237.50 322.51h1.1v1.9h-1.1zM243.05 322.51h1.1v1.9h-1.1zM248.60 322.51h1.1v1.9h-1.1zM254.15 322.51h1.1v1.9h-1.1zM259.70 322.51h1.1v1.9h-1.1zM265.25 322.51h1.1v1.9h-1.1zM270.80 322.51h1.1v1.9h-1.1zM276.35 322.51h1.1v1.9h-1.1zM281.90 322.51h1.1v1.9h-1.1zM287.45 322.51h1.1v1.9h-1.1zM293.00 322.51h1.1v1.9h-1.1zM298.55 322.51h1.1v1.9h-1.1zM304.10 322.51h1.1v1.9h-1.1zM309.65 322.51h1.1v1.9h-1.1zM315.20 322.51h1.1v1.9h-1.1zM320.75 322.51h1.1v1.9h-1.1zM326.30 322.51h1.1v1.9h-1.1zM331.85 322.51h1.1v1.9h-1.1zM337.40 322.51h1.1v1.9h-1.1zM342.95 322.51h1.1v1.9h-1.1zM348.50 322.51h1.1v1.9h-1.1zM148.70 316.52h1.1v1.9h-1.1zM154.25 316.52h1.1v1.9h-1.1zM159.80 316.52h1.1v1.9h-1.1zM165.35 316.52h1.1v1.9h-1.1zM170.90 316.52h1.1v1.9h-1.1zM176.45 316.52h1.1v1.9h-1.1zM182.00 316.52h1.1v1.9h-1.1zM187.55 316.52h1.1v1.9h-1.1zM193.10 316.52h1.1v1.9h-1.1zM198.65 316.52h1.1v1.9h-1.1zM204.20 316.52h1.1v1.9h-1.1zM209.75 316.52h1.1v1.9h-1.1zM215.30 316.52h1.1v1.9h-1.1zM220.85 316.52h1.1v1.9h-1.1zM226.40 316.52h1.1v1.9h-1.1zM231.95 316.52h1.1v1.9h-1.1zM237.50 316.52h1.1v1.9h-1.1zM243.05 316.52h1.1v1.9h-1.1zM248.60 316.52h1.1v1.9h-1.1zM254.15 316.52h1.1v1.9h-1.1zM259.70 316.52h1.1v1.9h-1.1zM265.25 316.52h1.1v1.9h-1.1zM270.80 316.52h1.1v1.9h-1.1zM276.35 316.52h1.1v1.9h-1.1zM281.90 316.52h1.1v1.9h-1.1zM287.45 316.52h1.1v1.9h-1.1zM293.00 316.52h1.1v1.9h-1.1zM298.55 316.52h1.1v1.9h-1.1zM304.10 316.52h1.1v1.9h-1.1zM309.65 316.52h1.1v1.9h-1.1zM315.20 316.52h1.1v1.9h-1.1zM320.75 316.52h1.1v1.9h-1.1zM326.30 316.52h1.1v1.9h-1.1zM331.85 316.52h1.1v1.9h-1.1zM337.40 316.52h1.1v1.9h-1.1zM342.95 316.52h1.1v1.9h-1.1zM348.50 316.52h1.1v1.9h-1.1zM148.70 310.53h1.1v1.9h-1.1zM154.25 310.53h1.1v1.9h-1.1zM159.80 310.53h1.1v1.9h-1.1zM165.35 310.53h1.1v1.9h-1.1zM170.90 310.53h1.1v1.9h-1.1zM176.45 310.53h1.1v1.9h-1.1zM182.00 310.53h1.1v1.9h-1.1zM187.55 310.53h1.1v1.9h-1.1zM193.10 310.53h1.1v1.9h-1.1zM198.65 310.53h1.1v1.9h-1.1zM204.20 310.53h1.1v1.9h-1.1zM209.75 310.53h1.1v1.9h-1.1zM215.30 310.53h1.1v1.9h-1.1zM220.85 310.53h1.1v1.9h-1.1zM226.40 310.53h1.1v1.9h-1.1zM231.95 310.53h1.1v1.9h-1.1zM237.50 310.53h1.1v1.9h-1.1zM243.05 310.53h1.1v1.9h-1.1zM248.60 310.53h1.1v1.9h-1.1zM254.15 310.53h1.1v1.9h-1.1zM259.70 310.53h1.1v1.9h-1.1zM265.25 310.53h1.1v1.9h-1.1zM270.80 310.53h1.1v1.9h-1.1zM276.35 310.53h1.1v1.9h-1.1zM281.90 310.53h1.1v1.9h-1.1zM287.45 310.53h1.1v1.9h-1.1zM293.00 310.53h1.1v1.9h-1.1zM298.55 310.53h1.1v1.9h-1.1zM304.10 310.53h1.1v1.9h-1.1zM309.65 310.53h1.1v1.9h-1.1zM315.20 310.53h1.1v1.9h-1.1zM320.75 310.53h1.1v1.9h-1.1zM326.30 310.53h1.1v1.9h-1.1zM331.85 310.53h1.1v1.9h-1.1zM337.40 310.53h1.1v1.9h-1.1zM342.95 310.53h1.1v1.9h-1.1zM348.50 310.53h1.1v1.9h-1.1zM148.70 304.54h1.1v1.9h-1.1zM154.25 304.54h1.1v1.9h-1.1zM159.80 304.54h1.1v1.9h-1.1zM165.35 304.54h1.1v1.9h-1.1zM170.90 304.54h1.1v1.9h-1.1zM176.45 304.54h1.1v1.9h-1.1zM182.00 304.54h1.1v1.9h-1.1zM187.55 304.54h1.1v1.9h-1.1zM193.10 304.54h1.1v1.9h-1.1zM198.65 304.54h1.1v1.9h-1.1zM204.20 304.54h1.1v1.9h-1.1zM209.75 304.54h1.1v1.9h-1.1zM215.30 304.54h1.1v1.9h-1.1zM220.85 304.54h1.1v1.9h-1.1zM226.40 304.54h1.1v1.9h-1.1zM231.95 304.54h1.1v1.9h-1.1zM237.50 304.54h1.1v1.9h-1.1zM243.05 304.54h1.1v1.9h-1.1zM248.60 304.54h1.1v1.9h-1.1zM254.15 304.54h1.1v1.9h-1.1zM259.70 304.54h1.1v1.9h-1.1zM265.25 304.54h1.1v1.9h-1.1zM270.80 304.54h1.1v1.9h-1.1zM276.35 304.54h1.1v1.9h-1.1zM281.90 304.54h1.1v1.9h-1.1zM287.45 304.54h1.1v1.9h-1.1zM293.00 304.54h1.1v1.9h-1.1zM298.55 304.54h1.1v1.9h-1.1zM304.10 304.54h1.1v1.9h-1.1zM309.65 304.54h1.1v1.9h-1.1zM315.20 304.54h1.1v1.9h-1.1zM320.75 304.54h1.1v1.9h-1.1zM326.30 304.54h1.1v1.9h-1.1zM331.85 304.54h1.1v1.9h-1.1zM337.40 304.54h1.1v1.9h-1.1zM342.95 304.54h1.1v1.9h-1.1zM348.50 304.54h1.1v1.9h-1.1z" fill="#a4a4a4"/>
<path d="M147.50 359.40h3.3M355.60 359.40h-3.3M147.50 329.45h3.3M355.60 329.45h-3.3M147.50 299.50h3.3M355.60 299.50h-3.3M188.50 359.40v-3.3M188.50 299.50v3.3M230.17 359.40v-3.3M230.17 299.50v3.3M271.84 359.40v-3.3M271.84 299.50v3.3M313.51 359.40v-3.3M313.51 299.50v3.3" stroke="#262626" stroke-width="2" fill="none"/>
<rect x="147.5" y="299.5" width="208.10" height="59.90" stroke="#262626" stroke-width="2" fill="none"/>
<path d="M177.07 328.10a4.2 4.2 0 1 0 -8.4 0a4.2 4.2 0 1 0 8.4 0zM178.81 328.46a4.2 4.2 0 1 0 -8.4 0a4.2 4.2 0 1 0 8.4 0zM180.55 332.44a4.2 4.2 0 1 0 -8.4 0a4.2 4.2 0 1 0 8.4 0zM182.28 332.85a4.2 4.2 0 1 0 -8.4 0a4.2 4.2 0 1 0 8.4 0zM184.02 332.29a4.2 4.2 0 1 0 -8.4 0a4.2 4.2 0 1 0 8.4 0zM185.75 331.04a4.2 4.2 0 1 0 -8.4 0a4.2 4.2 0 1 0 8.4 0zM187.49 326.17a4.2 4.2 0 1 0 -8.4 0a4.2 4.2 0 1 0 8.4 0zM189.23 321.27a4.2 4.2 0 1 0 -8.4 0a4.2 4.2 0 1 0 8.4 0zM190.96 318.93a4.2 4.2 0 1 0 -8.4 0a4.2 4.2 0 1 0 8.4 0zM192.70 313.52a4.2 4.2 0 1 0 -8.4 0a4.2 4.2 0 1 0 8.4 0zM194.44 315.17a4.2 4.2 0 1 0 -8.4 0a4.2 4.2 0 1 0 8.4 0zM196.17 313.58a4.2 4.2 0 1 0 -8.4 0a4.2 4.2 0 1 0 8.4 0zM197.91 313.94a4.2 4.2 0 1 0 -8.4 0a4.2 4.2 0 1 0 8.4 0zM199.65 318.13a4.2 4.2 0 1 0 -8.4 0a4.2 4.2 0 1 0 8.4 0zM201.38 324.55a4.2 4.2 0 1 0 -8.4 0a4.2 4.2 0 1 0 8.4 0zM203.12 325.47a4.2 4.2 0 1 0 -8.4 0a4.2 4.2 0 1 0 8.4 0zM204.85 329.60a4.2 4.2 0 1 0 -8.4 0a4.2 4.2 0 1 0 8.4 0zM206.59 328.56a4.2 4.2 0 1 0 -8.4 0a4.2 4.2 0 1 0 8.4 0zM208.33 331.13a4.2 4.2 0 1 0 -8.4 0a4.2 4.2 0 1 0 8.4 0zM210.06 330.10a4.2 4.2 0 1 0 -8.4 0a4.2 4.2 0 1 0 8.4 0zM211.80 330.03a4.2 4.2 0 1 0 -8.4 0a4.2 4.2 0 1 0 8.4 0zM213.53 333.99a4.2 4.2 0 1 0 -8.4 0a4.2 4.2 0 1 0 8.4 0zM215.27 335.85a4.2 4.2 0 1 0 -8.4 0a4.2 4.2 0 1 0 8.4 0zM217.01 342.21a4.2 4.2 0 1 0 -8.4 0a4.2 4.2 0 1 0 8.4 0zM218.74 343.70a4.2 4.2 0 1 0 -8.4 0a4.2 4.2 0 1 0 8.4 0zM220.48 345.13a4.2 4.2 0 1 0 -8.4 0a4.2 4.2 0 1 0 8.4 0zM222.22 349.06a4.2 4.2 0 1 0 -8.4 0a4.2 4.2 0 1 0 8.4 0zM223.95 349.38a4.2 4.2 0 1 0 -8.4 0a4.2 4.2 0 1 0 8.4 0zM225.69 349.23a4.2 4.2 0 1 0 -8.4 0a4.2 4.2 0 1 0 8.4 0zM227.43 351.02a4.2 4.2 0 1 0 -8.4 0a4.2 4.2 0 1 0 8.4 0zM229.16 349.21a4.2 4.2 0 1 0 -8.4 0a4.2 4.2 0 1 0 8.4 0zM230.90 349.89a4.2 4.2 0 1 0 -8.4 0a4.2 4.2 0 1 0 8.4 0zM232.63 345.65a4.2 4.2 0 1 0 -8.4 0a4.2 4.2 0 1 0 8.4 0zM234.37 341.41a4.2 4.2 0 1 0 -8.4 0a4.2 4.2 0 1 0 8.4 0zM236.11 340.77a4.2 4.2 0 1 0 -8.4 0a4.2 4.2 0 1 0 8.4 0zM237.84 336.84a4.2 4.2 0 1 0 -8.4 0a4.2 4.2 0 1 0 8.4 0zM239.58 337.77a4.2 4.2 0 1 0 -8.4 0a4.2 4.2 0 1 0 8.4 0zM241.31 335.09a4.2 4.2 0 1 0 -8.4 0a4.2 4.2 0 1 0 8.4 0zM243.05 332.37a4.2 4.2 0 1 0 -8.4 0a4.2 4.2 0 1 0 8.4 0zM244.79 333.20a4.2 4.2 0 1 0 -8.4 0a4.2 4.2 0 1 0 8.4 0zM246.52 330.43a4.2 4.2 0 1 0 -8.4 0a4.2 4.2 0 1 0 8.4 0zM248.26 327.66a4.2 4.2 0 1 0 -8.4 0a4.2 4.2 0 1 0 8.4 0zM250.00 328.96a4.2 4.2 0 1 0 -8.4 0a4.2 4.2 0 1 0 8.4 0zM251.73 326.70a4.2 4.2 0 1 0 -8.4 0a4.2 4.2 0 1 0 8.4 0zM255.80 335.20a4.2 4.2 0 1 0 -8.4 0a4.2 4.2 0 1 0 8.4 0zM257.00 310.80a4.2 4.2 0 1 0 -8.4 0a4.2 4.2 0 1 0 8.4 0zM258.70 306.00a4.2 4.2 0 1 0 -8.4 0a4.2 4.2 0 1 0 8.4 0zM260.70 302.20a4.2 4.2 0 1 0 -8.4 0a4.2 4.2 0 1 0 8.4 0zM262.70 303.00a4.2 4.2 0 1 0 -8.4 0a4.2 4.2 0 1 0 8.4 0zM264.30 304.70a4.2 4.2 0 1 0 -8.4 0a4.2 4.2 0 1 0 8.4 0zM265.50 324.20a4.2 4.2 0 1 0 -8.4 0a4.2 4.2 0 1 0 8.4 0zM269.09 343.10a4.2 4.2 0 1 0 -8.4 0a4.2 4.2 0 1 0 8.4 0zM270.83 341.43a4.2 4.2 0 1 0 -8.4 0a4.2 4.2 0 1 0 8.4 0zM272.57 340.28a4.2 4.2 0 1 0 -8.4 0a4.2 4.2 0 1 0 8.4 0zM274.30 342.13a4.2 4.2 0 1 0 -8.4 0a4.2 4.2 0 1 0 8.4 0zM276.04 340.99a4.2 4.2 0 1 0 -8.4 0a4.2 4.2 0 1 0 8.4 0zM277.78 340.00a4.2 4.2 0 1 0 -8.4 0a4.2 4.2 0 1 0 8.4 0zM279.51 342.06a4.2 4.2 0 1 0 -8.4 0a4.2 4.2 0 1 0 8.4 0zM281.25 341.13a4.2 4.2 0 1 0 -8.4 0a4.2 4.2 0 1 0 8.4 0zM282.99 343.20a4.2 4.2 0 1 0 -8.4 0a4.2 4.2 0 1 0 8.4 0zM284.72 342.26a4.2 4.2 0 1 0 -8.4 0a4.2 4.2 0 1 0 8.4 0zM286.46 341.43a4.2 4.2 0 1 0 -8.4 0a4.2 4.2 0 1 0 8.4 0zM288.19 344.60a4.2 4.2 0 1 0 -8.4 0a4.2 4.2 0 1 0 8.4 0zM289.93 344.76a4.2 4.2 0 1 0 -8.4 0a4.2 4.2 0 1 0 8.4 0zM291.67 348.51a4.2 4.2 0 1 0 -8.4 0a4.2 4.2 0 1 0 8.4 0zM293.40 350.83a4.2 4.2 0 1 0 -8.4 0a4.2 4.2 0 1 0 8.4 0zM296.10 330.30a4.2 4.2 0 1 0 -8.4 0a4.2 4.2 0 1 0 8.4 0zM297.70 331.50a4.2 4.2 0 1 0 -8.4 0a4.2 4.2 0 1 0 8.4 0zM299.70 332.70a4.2 4.2 0 1 0 -8.4 0a4.2 4.2 0 1 0 8.4 0zM302.20 324.20a4.2 4.2 0 1 0 -8.4 0a4.2 4.2 0 1 0 8.4 0zM304.60 335.20a4.2 4.2 0 1 0 -8.4 0a4.2 4.2 0 1 0 8.4 0zM303.40 338.80a4.2 4.2 0 1 0 -8.4 0a4.2 4.2 0 1 0 8.4 0zM306.20 338.00a4.2 4.2 0 1 0 -8.4 0a4.2 4.2 0 1 0 8.4 0zM308.30 338.80a4.2 4.2 0 1 0 -8.4 0a4.2 4.2 0 1 0 8.4 0zM310.77 351.10a4.2 4.2 0 1 0 -8.4 0a4.2 4.2 0 1 0 8.4 0zM312.50 354.35a4.2 4.2 0 1 0 -8.4 0a4.2 4.2 0 1 0 8.4 0zM314.24 354.60a4.2 4.2 0 1 0 -8.4 0a4.2 4.2 0 1 0 8.4 0zM315.97 354.36a4.2 4.2 0 1 0 -8.4 0a4.2 4.2 0 1 0 8.4 0zM317.71 355.36a4.2 4.2 0 1 0 -8.4 0a4.2 4.2 0 1 0 8.4 0zM319.45 353.36a4.2 4.2 0 1 0 -8.4 0a4.2 4.2 0 1 0 8.4 0zM321.18 354.35a4.2 4.2 0 1 0 -8.4 0a4.2 4.2 0 1 0 8.4 0zM322.92 352.36a4.2 4.2 0 1 0 -8.4 0a4.2 4.2 0 1 0 8.4 0zM324.66 350.78a4.2 4.2 0 1 0 -8.4 0a4.2 4.2 0 1 0 8.4 0zM326.39 352.21a4.2 4.2 0 1 0 -8.4 0a4.2 4.2 0 1 0 8.4 0zM328.13 350.64a4.2 4.2 0 1 0 -8.4 0a4.2 4.2 0 1 0 8.4 0zM329.86 352.19a4.2 4.2 0 1 0 -8.4 0a4.2 4.2 0 1 0 8.4 0zM331.60 350.74a4.2 4.2 0 1 0 -8.4 0a4.2 4.2 0 1 0 8.4 0zM333.34 349.29a4.2 4.2 0 1 0 -8.4 0a4.2 4.2 0 1 0 8.4 0zM335.07 350.84a4.2 4.2 0 1 0 -8.4 0a4.2 4.2 0 1 0 8.4 0zM336.81 349.28a4.2 4.2 0 1 0 -8.4 0a4.2 4.2 0 1 0 8.4 0zM338.55 347.70a4.2 4.2 0 1 0 -8.4 0a4.2 4.2 0 1 0 8.4 0zM340.28 349.76a4.2 4.2 0 1 0 -8.4 0a4.2 4.2 0 1 0 8.4 0zM342.02 352.04a4.2 4.2 0 1 0 -8.4 0a4.2 4.2 0 1 0 8.4 0z" stroke="#0072BD" stroke-width="2.3" fill="none"/>
<text transform="translate(138.50,306.00) scale(1.01,1)" text-anchor="end" font-size="19.4" fill="#262626">1000</text>
<text transform="translate(138.50,335.95) scale(1.01,1)" text-anchor="end" font-size="19.4" fill="#262626">500</text>
<text transform="translate(138.50,365.90) scale(1.01,1)" text-anchor="end" font-size="19.4" fill="#262626">0</text>
<path d="M490.50 352.30H698.60M490.50 334.35H698.60M490.50 316.40H698.60M532.27 299.50V359.40M573.94 299.50V359.40M615.61 299.50V359.40M657.28 299.50V359.40" stroke="#dfdfdf" stroke-width="2" fill="none"/>
<path d="M491.70 354.94h1.1v1.9h-1.1zM497.25 354.94h1.1v1.9h-1.1zM502.80 354.94h1.1v1.9h-1.1zM508.35 354.94h1.1v1.9h-1.1zM513.90 354.94h1.1v1.9h-1.1zM519.45 354.94h1.1v1.9h-1.1zM525.00 354.94h1.1v1.9h-1.1zM530.55 354.94h1.1v1.9h-1.1zM536.10 354.94h1.1v1.9h-1.1zM541.65 354.94h1.1v1.9h-1.1zM547.20 354.94h1.1v1.9h-1.1zM552.75 354.94h1.1v1.9h-1.1zM558.30 354.94h1.1v1.9h-1.1zM563.85 354.94h1.1v1.9h-1.1zM569.40 354.94h1.1v1.9h-1.1zM574.95 354.94h1.1v1.9h-1.1zM580.50 354.94h1.1v1.9h-1.1zM586.05 354.94h1.1v1.9h-1.1zM591.60 354.94h1.1v1.9h-1.1zM597.15 354.94h1.1v1.9h-1.1zM602.70 354.94h1.1v1.9h-1.1zM608.25 354.94h1.1v1.9h-1.1zM613.80 354.94h1.1v1.9h-1.1zM619.35 354.94h1.1v1.9h-1.1zM624.90 354.94h1.1v1.9h-1.1zM630.45 354.94h1.1v1.9h-1.1zM636.00 354.94h1.1v1.9h-1.1zM641.55 354.94h1.1v1.9h-1.1zM647.10 354.94h1.1v1.9h-1.1zM652.65 354.94h1.1v1.9h-1.1zM658.20 354.94h1.1v1.9h-1.1zM663.75 354.94h1.1v1.9h-1.1zM669.30 354.94h1.1v1.9h-1.1zM674.85 354.94h1.1v1.9h-1.1zM680.40 354.94h1.1v1.9h-1.1zM685.95 354.94h1.1v1.9h-1.1zM691.50 354.94h1.1v1.9h-1.1zM491.70 347.76h1.1v1.9h-1.1zM497.25 347.76h1.1v1.9h-1.1zM502.80 347.76h1.1v1.9h-1.1zM508.35 347.76h1.1v1.9h-1.1zM513.90 347.76h1.1v1.9h-1.1zM519.45 347.76h1.1v1.9h-1.1zM525.00 347.76h1.1v1.9h-1.1zM530.55 347.76h1.1v1.9h-1.1zM536.10 347.76h1.1v1.9h-1.1zM541.65 347.76h1.1v1.9h-1.1zM547.20 347.76h1.1v1.9h-1.1zM552.75 347.76h1.1v1.9h-1.1zM558.30 347.76h1.1v1.9h-1.1zM563.85 347.76h1.1v1.9h-1.1zM569.40 347.76h1.1v1.9h-1.1zM574.95 347.76h1.1v1.9h-1.1zM580.50 347.76h1.1v1.9h-1.1zM586.05 347.76h1.1v1.9h-1.1zM591.60 347.76h1.1v1.9h-1.1zM597.15 347.76h1.1v1.9h-1.1zM602.70 347.76h1.1v1.9h-1.1zM608.25 347.76h1.1v1.9h-1.1zM613.80 347.76h1.1v1.9h-1.1zM619.35 347.76h1.1v1.9h-1.1zM624.90 347.76h1.1v1.9h-1.1zM630.45 347.76h1.1v1.9h-1.1zM636.00 347.76h1.1v1.9h-1.1zM641.55 347.76h1.1v1.9h-1.1zM647.10 347.76h1.1v1.9h-1.1zM652.65 347.76h1.1v1.9h-1.1zM658.20 347.76h1.1v1.9h-1.1zM663.75 347.76h1.1v1.9h-1.1zM669.30 347.76h1.1v1.9h-1.1zM674.85 347.76h1.1v1.9h-1.1zM680.40 347.76h1.1v1.9h-1.1zM685.95 347.76h1.1v1.9h-1.1zM691.50 347.76h1.1v1.9h-1.1zM491.70 344.17h1.1v1.9h-1.1zM497.25 344.17h1.1v1.9h-1.1zM502.80 344.17h1.1v1.9h-1.1zM508.35 344.17h1.1v1.9h-1.1zM513.90 344.17h1.1v1.9h-1.1zM519.45 344.17h1.1v1.9h-1.1zM525.00 344.17h1.1v1.9h-1.1zM530.55 344.17h1.1v1.9h-1.1zM536.10 344.17h1.1v1.9h-1.1zM541.65 344.17h1.1v1.9h-1.1zM547.20 344.17h1.1v1.9h-1.1zM552.75 344.17h1.1v1.9h-1.1zM558.30 344.17h1.1v1.9h-1.1zM563.85 344.17h1.1v1.9h-1.1zM569.40 344.17h1.1v1.9h-1.1zM574.95 344.17h1.1v1.9h-1.1zM580.50 344.17h1.1v1.9h-1.1zM586.05 344.17h1.1v1.9h-1.1zM591.60 344.17h1.1v1.9h-1.1zM597.15 344.17h1.1v1.9h-1.1zM602.70 344.17h1.1v1.9h-1.1zM608.25 344.17h1.1v1.9h-1.1zM613.80 344.17h1.1v1.9h-1.1zM619.35 344.17h1.1v1.9h-1.1zM624.90 344.17h1.1v1.9h-1.1zM630.45 344.17h1.1v1.9h-1.1zM636.00 344.17h1.1v1.9h-1.1zM641.55 344.17h1.1v1.9h-1.1zM647.10 344.17h1.1v1.9h-1.1zM652.65 344.17h1.1v1.9h-1.1zM658.20 344.17h1.1v1.9h-1.1zM663.75 344.17h1.1v1.9h-1.1zM669.30 344.17h1.1v1.9h-1.1zM674.85 344.17h1.1v1.9h-1.1zM680.40 344.17h1.1v1.9h-1.1zM685.95 344.17h1.1v1.9h-1.1zM691.50 344.17h1.1v1.9h-1.1zM491.70 340.58h1.1v1.9h-1.1zM497.25 340.58h1.1v1.9h-1.1zM502.80 340.58h1.1v1.9h-1.1zM508.35 340.58h1.1v1.9h-1.1zM513.90 340.58h1.1v1.9h-1.1zM519.45 340.58h1.1v1.9h-1.1zM525.00 340.58h1.1v1.9h-1.1zM530.55 340.58h1.1v1.9h-1.1zM536.10 340.58h1.1v1.9h-1.1zM541.65 340.58h1.1v1.9h-1.1zM547.20 340.58h1.1v1.9h-1.1zM552.75 340.58h1.1v1.9h-1.1zM558.30 340.58h1.1v1.9h-1.1zM563.85 340.58h1.1v1.9h-1.1zM569.40 340.58h1.1v1.9h-1.1zM574.95 340.58h1.1v1.9h-1.1zM580.50 340.58h1.1v1.9h-1.1zM586.05 340.58h1.1v1.9h-1.1zM591.60 340.58h1.1v1.9h-1.1zM597.15 340.58h1.1v1.9h-1.1zM602.70 340.58h1.1v1.9h-1.1zM608.25 340.58h1.1v1.9h-1.1zM613.80 340.58h1.1v1.9h-1.1zM619.35 340.58h1.1v1.9h-1.1zM624.90 340.58h1.1v1.9h-1.1zM630.45 340.58h1.1v1.9h-1.1zM636.00 340.58h1.1v1.9h-1.1zM641.55 340.58h1.1v1.9h-1.1zM647.10 340.58h1.1v1.9h-1.1zM652.65 340.58h1.1v1.9h-1.1zM658.20 340.58h1.1v1.9h-1.1zM663.75 340.58h1.1v1.9h-1.1zM669.30 340.58h1.1v1.9h-1.1zM674.85 340.58h1.1v1.9h-1.1zM680.40 340.58h1.1v1.9h-1.1zM685.95 340.58h1.1v1.9h-1.1zM691.50 340.58h1.1v1.9h-1.1zM491.70 336.99h1.1v1.9h-1.1zM497.25 336.99h1.1v1.9h-1.1zM502.80 336.99h1.1v1.9h-1.1zM508.35 336.99h1.1v1.9h-1.1zM513.90 336.99h1.1v1.9h-1.1zM519.45 336.99h1.1v1.9h-1.1zM525.00 336.99h1.1v1.9h-1.1zM530.55 336.99h1.1v1.9h-1.1zM536.10 336.99h1.1v1.9h-1.1zM541.65 336.99h1.1v1.9h-1.1zM547.20 336.99h1.1v1.9h-1.1zM552.75 336.99h1.1v1.9h-1.1zM558.30 336.99h1.1v1.9h-1.1zM563.85 336.99h1.1v1.9h-1.1zM569.40 336.99h1.1v1.9h-1.1zM574.95 336.99h1.1v1.9h-1.1zM580.50 336.99h1.1v1.9h-1.1zM586.05 336.99h1.1v1.9h-1.1zM591.60 336.99h1.1v1.9h-1.1zM597.15 336.99h1.1v1.9h-1.1zM602.70 336.99h1.1v1.9h-1.1zM608.25 336.99h1.1v1.9h-1.1zM613.80 336.99h1.1v1.9h-1.1zM619.35 336.99h1.1v1.9h-1.1zM624.90 336.99h1.1v1.9h-1.1zM630.45 336.99h1.1v1.9h-1.1zM636.00 336.99h1.1v1.9h-1.1zM641.55 336.99h1.1v1.9h-1.1zM647.10 336.99h1.1v1.9h-1.1zM652.65 336.99h1.1v1.9h-1.1zM658.20 336.99h1.1v1.9h-1.1zM663.75 336.99h1.1v1.9h-1.1zM669.30 336.99h1.1v1.9h-1.1zM674.85 336.99h1.1v1.9h-1.1zM680.40 336.99h1.1v1.9h-1.1zM685.95 336.99h1.1v1.9h-1.1zM691.50 336.99h1.1v1.9h-1.1zM491.70 329.81h1.1v1.9h-1.1zM497.25 329.81h1.1v1.9h-1.1zM502.80 329.81h1.1v1.9h-1.1zM508.35 329.81h1.1v1.9h-1.1zM513.90 329.81h1.1v1.9h-1.1zM519.45 329.81h1.1v1.9h-1.1zM525.00 329.81h1.1v1.9h-1.1zM530.55 329.81h1.1v1.9h-1.1zM536.10 329.81h1.1v1.9h-1.1zM541.65 329.81h1.1v1.9h-1.1zM547.20 329.81h1.1v1.9h-1.1zM552.75 329.81h1.1v1.9h-1.1zM558.30 329.81h1.1v1.9h-1.1zM563.85 329.81h1.1v1.9h-1.1zM569.40 329.81h1.1v1.9h-1.1zM574.95 329.81h1.1v1.9h-1.1zM580.50 329.81h1.1v1.9h-1.1zM586.05 329.81h1.1v1.9h-1.1zM591.60 329.81h1.1v1.9h-1.1zM597.15 329.81h1.1v1.9h-1.1zM602.70 329.81h1.1v1.9h-1.1zM608.25 329.81h1.1v1.9h-1.1zM613.80 329.81h1.1v1.9h-1.1zM619.35 329.81h1.1v1.9h-1.1zM624.90 329.81h1.1v1.9h-1.1zM630.45 329.81h1.1v1.9h-1.1zM636.00 329.81h1.1v1.9h-1.1zM641.55 329.81h1.1v1.9h-1.1zM647.10 329.81h1.1v1.9h-1.1zM652.65 329.81h1.1v1.9h-1.1zM658.20 329.81h1.1v1.9h-1.1zM663.75 329.81h1.1v1.9h-1.1zM669.30 329.81h1.1v1.9h-1.1zM674.85 329.81h1.1v1.9h-1.1zM680.40 329.81h1.1v1.9h-1.1zM685.95 329.81h1.1v1.9h-1.1zM691.50 329.81h1.1v1.9h-1.1zM491.70 326.22h1.1v1.9h-1.1zM497.25 326.22h1.1v1.9h-1.1zM502.80 326.22h1.1v1.9h-1.1zM508.35 326.22h1.1v1.9h-1.1zM513.90 326.22h1.1v1.9h-1.1zM519.45 326.22h1.1v1.9h-1.1zM525.00 326.22h1.1v1.9h-1.1zM530.55 326.22h1.1v1.9h-1.1zM536.10 326.22h1.1v1.9h-1.1zM541.65 326.22h1.1v1.9h-1.1zM547.20 326.22h1.1v1.9h-1.1zM552.75 326.22h1.1v1.9h-1.1zM558.30 326.22h1.1v1.9h-1.1zM563.85 326.22h1.1v1.9h-1.1zM569.40 326.22h1.1v1.9h-1.1zM574.95 326.22h1.1v1.9h-1.1zM580.50 326.22h1.1v1.9h-1.1zM586.05 326.22h1.1v1.9h-1.1zM591.60 326.22h1.1v1.9h-1.1zM597.15 326.22h1.1v1.9h-1.1zM602.70 326.22h1.1v1.9h-1.1zM608.25 326.22h1.1v1.9h-1.1zM613.80 326.22h1.1v1.9h-1.1zM619.35 326.22h1.1v1.9h-1.1zM624.90 326.22h1.1v1.9h-1.1zM630.45 326.22h1.1v1.9h-1.1zM636.00 326.22h1.1v1.9h-1.1zM641.55 326.22h1.1v1.9h-1.1zM647.10 326.22h1.1v1.9h-1.1zM652.65 326.22h1.1v1.9h-1.1zM658.20 326.22h1.1v1.9h-1.1zM663.75 326.22h1.1v1.9h-1.1zM669.30 326.22h1.1v1.9h-1.1zM674.85 326.22h1.1v1.9h-1.1zM680.40 326.22h1.1v1.9h-1.1zM685.95 326.22h1.1v1.9h-1.1zM691.50 326.22h1.1v1.9h-1.1zM491.70 322.63h1.1v1.9h-1.1zM497.25 322.63h1.1v1.9h-1.1zM502.80 322.63h1.1v1.9h-1.1zM508.35 322.63h1.1v1.9h-1.1zM513.90 322.63h1.1v1.9h-1.1zM519.45 322.63h1.1v1.9h-1.1zM525.00 322.63h1.1v1.9h-1.1zM530.55 322.63h1.1v1.9h-1.1zM536.10 322.63h1.1v1.9h-1.1zM541.65 322.63h1.1v1.9h-1.1zM547.20 322.63h1.1v1.9h-1.1zM552.75 322.63h1.1v1.9h-1.1zM558.30 322.63h1.1v1.9h-1.1zM563.85 322.63h1.1v1.9h-1.1zM569.40 322.63h1.1v1.9h-1.1zM574.95 322.63h1.1v1.9h-1.1zM580.50 322.63h1.1v1.9h-1.1zM586.05 322.63h1.1v1.9h-1.1zM591.60 322.63h1.1v1.9h-1.1zM597.15 322.63h1.1v1.9h-1.1zM602.70 322.63h1.1v1.9h-1.1zM608.25 322.63h1.1v1.9h-1.1zM613.80 322.63h1.1v1.9h-1.1zM619.35 322.63h1.1v1.9h-1.1zM624.90 322.63h1.1v1.9h-1.1zM630.45 322.63h1.1v1.9h-1.1zM636.00 322.63h1.1v1.9h-1.1zM641.55 322.63h1.1v1.9h-1.1zM647.10 322.63h1.1v1.9h-1.1zM652.65 322.63h1.1v1.9h-1.1zM658.20 322.63h1.1v1.9h-1.1zM663.75 322.63h1.1v1.9h-1.1zM669.30 322.63h1.1v1.9h-1.1zM674.85 322.63h1.1v1.9h-1.1zM680.40 322.63h1.1v1.9h-1.1zM685.95 322.63h1.1v1.9h-1.1zM691.50 322.63h1.1v1.9h-1.1zM491.70 319.04h1.1v1.9h-1.1zM497.25 319.04h1.1v1.9h-1.1zM502.80 319.04h1.1v1.9h-1.1zM508.35 319.04h1.1v1.9h-1.1zM513.90 319.04h1.1v1.9h-1.1zM519.45 319.04h1.1v1.9h-1.1zM525.00 319.04h1.1v1.9h-1.1zM530.55 319.04h1.1v1.9h-1.1zM536.10 319.04h1.1v1.9h-1.1zM541.65 319.04h1.1v1.9h-1.1zM547.20 319.04h1.1v1.9h-1.1zM552.75 319.04h1.1v1.9h-1.1zM558.30 319.04h1.1v1.9h-1.1zM563.85 319.04h1.1v1.9h-1.1zM569.40 319.04h1.1v1.9h-1.1zM574.95 319.04h1.1v1.9h-1.1zM580.50 319.04h1.1v1.9h-1.1zM586.05 319.04h1.1v1.9h-1.1zM591.60 319.04h1.1v1.9h-1.1zM597.15 319.04h1.1v1.9h-1.1zM602.70 319.04h1.1v1.9h-1.1zM608.25 319.04h1.1v1.9h-1.1zM613.80 319.04h1.1v1.9h-1.1zM619.35 319.04h1.1v1.9h-1.1zM624.90 319.04h1.1v1.9h-1.1zM630.45 319.04h1.1v1.9h-1.1zM636.00 319.04h1.1v1.9h-1.1zM641.55 319.04h1.1v1.9h-1.1zM647.10 319.04h1.1v1.9h-1.1zM652.65 319.04h1.1v1.9h-1.1zM658.20 319.04h1.1v1.9h-1.1zM663.75 319.04h1.1v1.9h-1.1zM669.30 319.04h1.1v1.9h-1.1zM674.85 319.04h1.1v1.9h-1.1zM680.40 319.04h1.1v1.9h-1.1zM685.95 319.04h1.1v1.9h-1.1zM691.50 319.04h1.1v1.9h-1.1zM491.70 311.86h1.1v1.9h-1.1zM497.25 311.86h1.1v1.9h-1.1zM502.80 311.86h1.1v1.9h-1.1zM508.35 311.86h1.1v1.9h-1.1zM513.90 311.86h1.1v1.9h-1.1zM519.45 311.86h1.1v1.9h-1.1zM525.00 311.86h1.1v1.9h-1.1zM530.55 311.86h1.1v1.9h-1.1zM536.10 311.86h1.1v1.9h-1.1zM541.65 311.86h1.1v1.9h-1.1zM547.20 311.86h1.1v1.9h-1.1zM552.75 311.86h1.1v1.9h-1.1zM558.30 311.86h1.1v1.9h-1.1zM563.85 311.86h1.1v1.9h-1.1zM569.40 311.86h1.1v1.9h-1.1zM574.95 311.86h1.1v1.9h-1.1zM580.50 311.86h1.1v1.9h-1.1zM586.05 311.86h1.1v1.9h-1.1zM591.60 311.86h1.1v1.9h-1.1zM597.15 311.86h1.1v1.9h-1.1zM602.70 311.86h1.1v1.9h-1.1zM608.25 311.86h1.1v1.9h-1.1zM613.80 311.86h1.1v1.9h-1.1zM619.35 311.86h1.1v1.9h-1.1zM624.90 311.86h1.1v1.9h-1.1zM630.45 311.86h1.1v1.9h-1.1zM636.00 311.86h1.1v1.9h-1.1zM641.55 311.86h1.1v1.9h-1.1zM647.10 311.86h1.1v1.9h-1.1zM652.65 311.86h1.1v1.9h-1.1zM658.20 311.86h1.1v1.9h-1.1zM663.75 311.86h1.1v1.9h-1.1zM669.30 311.86h1.1v1.9h-1.1zM674.85 311.86h1.1v1.9h-1.1zM680.40 311.86h1.1v1.9h-1.1zM685.95 311.86h1.1v1.9h-1.1zM691.50 311.86h1.1v1.9h-1.1zM491.70 308.27h1.1v1.9h-1.1zM497.25 308.27h1.1v1.9h-1.1zM502.80 308.27h1.1v1.9h-1.1zM508.35 308.27h1.1v1.9h-1.1zM513.90 308.27h1.1v1.9h-1.1zM519.45 308.27h1.1v1.9h-1.1zM525.00 308.27h1.1v1.9h-1.1zM530.55 308.27h1.1v1.9h-1.1zM536.10 308.27h1.1v1.9h-1.1zM541.65 308.27h1.1v1.9h-1.1zM547.20 308.27h1.1v1.9h-1.1zM552.75 308.27h1.1v1.9h-1.1zM558.30 308.27h1.1v1.9h-1.1zM563.85 308.27h1.1v1.9h-1.1zM569.40 308.27h1.1v1.9h-1.1zM574.95 308.27h1.1v1.9h-1.1zM580.50 308.27h1.1v1.9h-1.1zM586.05 308.27h1.1v1.9h-1.1zM591.60 308.27h1.1v1.9h-1.1zM597.15 308.27h1.1v1.9h-1.1zM602.70 308.27h1.1v1.9h-1.1zM608.25 308.27h1.1v1.9h-1.1zM613.80 308.27h1.1v1.9h-1.1zM619.35 308.27h1.1v1.9h-1.1zM624.90 308.27h1.1v1.9h-1.1zM630.45 308.27h1.1v1.9h-1.1zM636.00 308.27h1.1v1.9h-1.1zM641.55 308.27h1.1v1.9h-1.1zM647.10 308.27h1.1v1.9h-1.1zM652.65 308.27h1.1v1.9h-1.1zM658.20 308.27h1.1v1.9h-1.1zM663.75 308.27h1.1v1.9h-1.1zM669.30 308.27h1.1v1.9h-1.1zM674.85 308.27h1.1v1.9h-1.1zM680.40 308.27h1.1v1.9h-1.1zM685.95 308.27h1.1v1.9h-1.1zM691.50 308.27h1.1v1.9h-1.1zM491.70 304.68h1.1v1.9h-1.1zM497.25 304.68h1.1v1.9h-1.1zM502.80 304.68h1.1v1.9h-1.1zM508.35 304.68h1.1v1.9h-1.1zM513.90 304.68h1.1v1.9h-1.1zM519.45 304.68h1.1v1.9h-1.1zM525.00 304.68h1.1v1.9h-1.1zM530.55 304.68h1.1v1.9h-1.1zM536.10 304.68h1.1v1.9h-1.1zM541.65 304.68h1.1v1.9h-1.1zM547.20 304.68h1.1v1.9h-1.1zM552.75 304.68h1.1v1.9h-1.1zM558.30 304.68h1.1v1.9h-1.1zM563.85 304.68h1.1v1.9h-1.1zM569.40 304.68h1.1v1.9h-1.1zM574.95 304.68h1.1v1.9h-1.1zM580.50 304.68h1.1v1.9h-1.1zM586.05 304.68h1.1v1.9h-1.1zM591.60 304.68h1.1v1.9h-1.1zM597.15 304.68h1.1v1.9h-1.1zM602.70 304.68h1.1v1.9h-1.1zM608.25 304.68h1.1v1.9h-1.1zM613.80 304.68h1.1v1.9h-1.1zM619.35 304.68h1.1v1.9h-1.1zM624.90 304.68h1.1v1.9h-1.1zM630.45 304.68h1.1v1.9h-1.1zM636.00 304.68h1.1v1.9h-1.1zM641.55 304.68h1.1v1.9h-1.1zM647.10 304.68h1.1v1.9h-1.1zM652.65 304.68h1.1v1.9h-1.1zM658.20 304.68h1.1v1.9h-1.1zM663.75 304.68h1.1v1.9h-1.1zM669.30 304.68h1.1v1.9h-1.1zM674.85 304.68h1.1v1.9h-1.1zM680.40 304.68h1.1v1.9h-1.1zM685.95 304.68h1.1v1.9h-1.1zM691.50 304.68h1.1v1.9h-1.1zM491.70 301.09h1.1v1.9h-1.1zM497.25 301.09h1.1v1.9h-1.1zM502.80 301.09h1.1v1.9h-1.1zM508.35 301.09h1.1v1.9h-1.1zM513.90 301.09h1.1v1.9h-1.1zM519.45 301.09h1.1v1.9h-1.1zM525.00 301.09h1.1v1.9h-1.1zM530.55 301.09h1.1v1.9h-1.1zM536.10 301.09h1.1v1.9h-1.1zM541.65 301.09h1.1v1.9h-1.1zM547.20 301.09h1.1v1.9h-1.1zM552.75 301.09h1.1v1.9h-1.1zM558.30 301.09h1.1v1.9h-1.1zM563.85 301.09h1.1v1.9h-1.1zM569.40 301.09h1.1v1.9h-1.1zM574.95 301.09h1.1v1.9h-1.1zM580.50 301.09h1.1v1.9h-1.1zM586.05 301.09h1.1v1.9h-1.1zM591.60 301.09h1.1v1.9h-1.1zM597.15 301.09h1.1v1.9h-1.1zM602.70 301.09h1.1v1.9h-1.1zM608.25 301.09h1.1v1.9h-1.1zM613.80 301.09h1.1v1.9h-1.1zM619.35 301.09h1.1v1.9h-1.1zM624.90 301.09h1.1v1.9h-1.1zM630.45 301.09h1.1v1.9h-1.1zM636.00 301.09h1.1v1.9h-1.1zM641.55 301.09h1.1v1.9h-1.1zM647.10 301.09h1.1v1.9h-1.1zM652.65 301.09h1.1v1.9h-1.1zM658.20 301.09h1.1v1.9h-1.1zM663.75 301.09h1.1v1.9h-1.1zM669.30 301.09h1.1v1.9h-1.1zM674.85 301.09h1.1v1.9h-1.1zM680.40 301.09h1.1v1.9h-1.1zM685.95 301.09h1.1v1.9h-1.1zM691.50 301.09h1.1v1.9h-1.1z" fill="#a4a4a4"/>
<path d="M490.50 352.30h3.3M698.60 352.30h-3.3M490.50 334.35h3.3M698.60 334.35h-3.3M490.50 316.40h3.3M698.60 316.40h-3.3M532.27 359.40v-3.3M532.27 299.50v3.3M573.94 359.40v-3.3M573.94 299.50v3.3M615.61 359.40v-3.3M615.61 299.50v3.3M657.28 359.40v-3.3M657.28 299.50v3.3" stroke="#262626" stroke-width="2" fill="none"/>
<rect x="490.5" y="299.5" width="208.10" height="59.90" stroke="#262626" stroke-width="2" fill="none"/>
<path d="M520.20 303.50a4.2 4.2 0 1 0 -8.4 0a4.2 4.2 0 1 0 8.4 0zM522.20 308.50a4.2 4.2 0 1 0 -8.4 0a4.2 4.2 0 1 0 8.4 0zM524.90 311.73a4.2 4.2 0 1 0 -8.4 0a4.2 4.2 0 1 0 8.4 0zM526.05 311.29a4.2 4.2 0 1 0 -8.4 0a4.2 4.2 0 1 0 8.4 0zM527.21 310.84a4.2 4.2 0 1 0 -8.4 0a4.2 4.2 0 1 0 8.4 0zM528.37 312.87a4.2 4.2 0 1 0 -8.4 0a4.2 4.2 0 1 0 8.4 0zM529.53 311.73a4.2 4.2 0 1 0 -8.4 0a4.2 4.2 0 1 0 8.4 0zM530.68 310.58a4.2 4.2 0 1 0 -8.4 0a4.2 4.2 0 1 0 8.4 0zM531.84 312.44a4.2 4.2 0 1 0 -8.4 0a4.2 4.2 0 1 0 8.4 0zM533.00 310.07a4.2 4.2 0 1 0 -8.4 0a4.2 4.2 0 1 0 8.4 0zM534.16 309.56a4.2 4.2 0 1 0 -8.4 0a4.2 4.2 0 1 0 8.4 0zM535.31 305.60a4.2 4.2 0 1 0 -8.4 0a4.2 4.2 0 1 0 8.4 0zM536.47 301.08a4.2 4.2 0 1 0 -8.4 0a4.2 4.2 0 1 0 8.4 0zM537.63 300.51a4.2 4.2 0 1 0 -8.4 0a4.2 4.2 0 1 0 8.4 0zM538.79 299.36a4.2 4.2 0 1 0 -8.4 0a4.2 4.2 0 1 0 8.4 0zM539.94 301.21a4.2 4.2 0 1 0 -8.4 0a4.2 4.2 0 1 0 8.4 0zM541.10 300.21a4.2 4.2 0 1 0 -8.4 0a4.2 4.2 0 1 0 8.4 0zM542.26 299.92a4.2 4.2 0 1 0 -8.4 0a4.2 4.2 0 1 0 8.4 0zM543.42 302.62a4.2 4.2 0 1 0 -8.4 0a4.2 4.2 0 1 0 8.4 0zM544.57 302.33a4.2 4.2 0 1 0 -8.4 0a4.2 4.2 0 1 0 8.4 0zM545.73 302.03a4.2 4.2 0 1 0 -8.4 0a4.2 4.2 0 1 0 8.4 0zM546.89 304.31a4.2 4.2 0 1 0 -8.4 0a4.2 4.2 0 1 0 8.4 0zM548.05 303.55a4.2 4.2 0 1 0 -8.4 0a4.2 4.2 0 1 0 8.4 0zM549.20 305.80a4.2 4.2 0 1 0 -8.4 0a4.2 4.2 0 1 0 8.4 0zM550.36 305.04a4.2 4.2 0 1 0 -8.4 0a4.2 4.2 0 1 0 8.4 0zM551.52 304.29a4.2 4.2 0 1 0 -8.4 0a4.2 4.2 0 1 0 8.4 0zM552.68 306.53a4.2 4.2 0 1 0 -8.4 0a4.2 4.2 0 1 0 8.4 0zM553.83 305.77a4.2 4.2 0 1 0 -8.4 0a4.2 4.2 0 1 0 8.4 0zM554.99 305.01a4.2 4.2 0 1 0 -8.4 0a4.2 4.2 0 1 0 8.4 0zM556.15 307.24a4.2 4.2 0 1 0 -8.4 0a4.2 4.2 0 1 0 8.4 0zM557.31 306.47a4.2 4.2 0 1 0 -8.4 0a4.2 4.2 0 1 0 8.4 0zM558.46 308.71a4.2 4.2 0 1 0 -8.4 0a4.2 4.2 0 1 0 8.4 0zM559.62 307.94a4.2 4.2 0 1 0 -8.4 0a4.2 4.2 0 1 0 8.4 0zM560.78 307.03a4.2 4.2 0 1 0 -8.4 0a4.2 4.2 0 1 0 8.4 0zM561.94 308.66a4.2 4.2 0 1 0 -8.4 0a4.2 4.2 0 1 0 8.4 0zM563.09 307.29a4.2 4.2 0 1 0 -8.4 0a4.2 4.2 0 1 0 8.4 0zM564.25 308.91a4.2 4.2 0 1 0 -8.4 0a4.2 4.2 0 1 0 8.4 0zM565.41 307.54a4.2 4.2 0 1 0 -8.4 0a4.2 4.2 0 1 0 8.4 0zM566.57 306.16a4.2 4.2 0 1 0 -8.4 0a4.2 4.2 0 1 0 8.4 0zM567.72 309.41a4.2 4.2 0 1 0 -8.4 0a4.2 4.2 0 1 0 8.4 0zM568.88 309.70a4.2 4.2 0 1 0 -8.4 0a4.2 4.2 0 1 0 8.4 0zM570.04 310.00a4.2 4.2 0 1 0 -8.4 0a4.2 4.2 0 1 0 8.4 0zM571.20 313.29a4.2 4.2 0 1 0 -8.4 0a4.2 4.2 0 1 0 8.4 0zM572.35 313.17a4.2 4.2 0 1 0 -8.4 0a4.2 4.2 0 1 0 8.4 0zM573.51 315.90a4.2 4.2 0 1 0 -8.4 0a4.2 4.2 0 1 0 8.4 0zM574.67 315.63a4.2 4.2 0 1 0 -8.4 0a4.2 4.2 0 1 0 8.4 0zM575.83 315.36a4.2 4.2 0 1 0 -8.4 0a4.2 4.2 0 1 0 8.4 0zM576.98 317.99a4.2 4.2 0 1 0 -8.4 0a4.2 4.2 0 1 0 8.4 0zM578.14 317.53a4.2 4.2 0 1 0 -8.4 0a4.2 4.2 0 1 0 8.4 0zM579.30 320.06a4.2 4.2 0 1 0 -8.4 0a4.2 4.2 0 1 0 8.4 0zM580.46 319.60a4.2 4.2 0 1 0 -8.4 0a4.2 4.2 0 1 0 8.4 0zM581.61 319.14a4.2 4.2 0 1 0 -8.4 0a4.2 4.2 0 1 0 8.4 0zM582.77 321.52a4.2 4.2 0 1 0 -8.4 0a4.2 4.2 0 1 0 8.4 0zM583.93 320.37a4.2 4.2 0 1 0 -8.4 0a4.2 4.2 0 1 0 8.4 0zM585.09 319.22a4.2 4.2 0 1 0 -8.4 0a4.2 4.2 0 1 0 8.4 0zM586.24 321.08a4.2 4.2 0 1 0 -8.4 0a4.2 4.2 0 1 0 8.4 0zM587.40 319.83a4.2 4.2 0 1 0 -8.4 0a4.2 4.2 0 1 0 8.4 0zM588.56 320.53a4.2 4.2 0 1 0 -8.4 0a4.2 4.2 0 1 0 8.4 0zM589.72 318.23a4.2 4.2 0 1 0 -8.4 0a4.2 4.2 0 1 0 8.4 0zM590.87 315.92a4.2 4.2 0 1 0 -8.4 0a4.2 4.2 0 1 0 8.4 0zM592.03 316.62a4.2 4.2 0 1 0 -8.4 0a4.2 4.2 0 1 0 8.4 0zM593.19 314.56a4.2 4.2 0 1 0 -8.4 0a4.2 4.2 0 1 0 8.4 0zM594.35 312.54a4.2 4.2 0 1 0 -8.4 0a4.2 4.2 0 1 0 8.4 0zM595.50 313.52a4.2 4.2 0 1 0 -8.4 0a4.2 4.2 0 1 0 8.4 0zM596.66 311.50a4.2 4.2 0 1 0 -8.4 0a4.2 4.2 0 1 0 8.4 0zM597.82 312.48a4.2 4.2 0 1 0 -8.4 0a4.2 4.2 0 1 0 8.4 0zM598.98 311.37a4.2 4.2 0 1 0 -8.4 0a4.2 4.2 0 1 0 8.4 0zM600.13 310.92a4.2 4.2 0 1 0 -8.4 0a4.2 4.2 0 1 0 8.4 0zM601.29 313.46a4.2 4.2 0 1 0 -8.4 0a4.2 4.2 0 1 0 8.4 0zM602.45 312.95a4.2 4.2 0 1 0 -8.4 0a4.2 4.2 0 1 0 8.4 0zM603.61 315.37a4.2 4.2 0 1 0 -8.4 0a4.2 4.2 0 1 0 8.4 0zM604.76 314.79a4.2 4.2 0 1 0 -8.4 0a4.2 4.2 0 1 0 8.4 0zM605.92 313.96a4.2 4.2 0 1 0 -8.4 0a4.2 4.2 0 1 0 8.4 0zM607.08 315.09a4.2 4.2 0 1 0 -8.4 0a4.2 4.2 0 1 0 8.4 0zM608.24 313.22a4.2 4.2 0 1 0 -8.4 0a4.2 4.2 0 1 0 8.4 0zM609.39 311.35a4.2 4.2 0 1 0 -8.4 0a4.2 4.2 0 1 0 8.4 0zM610.55 312.49a4.2 4.2 0 1 0 -8.4 0a4.2 4.2 0 1 0 8.4 0zM611.71 310.75a4.2 4.2 0 1 0 -8.4 0a4.2 4.2 0 1 0 8.4 0zM612.87 312.02a4.2 4.2 0 1 0 -8.4 0a4.2 4.2 0 1 0 8.4 0zM614.02 310.28a4.2 4.2 0 1 0 -8.4 0a4.2 4.2 0 1 0 8.4 0zM615.18 308.54a4.2 4.2 0 1 0 -8.4 0a4.2 4.2 0 1 0 8.4 0zM616.34 311.22a4.2 4.2 0 1 0 -8.4 0a4.2 4.2 0 1 0 8.4 0zM617.50 311.23a4.2 4.2 0 1 0 -8.4 0a4.2 4.2 0 1 0 8.4 0zM618.65 314.25a4.2 4.2 0 1 0 -8.4 0a4.2 4.2 0 1 0 8.4 0zM619.81 314.26a4.2 4.2 0 1 0 -8.4 0a4.2 4.2 0 1 0 8.4 0zM620.97 314.43a4.2 4.2 0 1 0 -8.4 0a4.2 4.2 0 1 0 8.4 0zM622.13 317.73a4.2 4.2 0 1 0 -8.4 0a4.2 4.2 0 1 0 8.4 0zM623.28 318.02a4.2 4.2 0 1 0 -8.4 0a4.2 4.2 0 1 0 8.4 0zM624.44 318.32a4.2 4.2 0 1 0 -8.4 0a4.2 4.2 0 1 0 8.4 0zM625.60 321.36a4.2 4.2 0 1 0 -8.4 0a4.2 4.2 0 1 0 8.4 0zM626.76 320.91a4.2 4.2 0 1 0 -8.4 0a4.2 4.2 0 1 0 8.4 0zM627.91 323.47a4.2 4.2 0 1 0 -8.4 0a4.2 4.2 0 1 0 8.4 0zM629.07 323.03a4.2 4.2 0 1 0 -8.4 0a4.2 4.2 0 1 0 8.4 0zM630.23 322.58a4.2 4.2 0 1 0 -8.4 0a4.2 4.2 0 1 0 8.4 0zM631.39 325.14a4.2 4.2 0 1 0 -8.4 0a4.2 4.2 0 1 0 8.4 0zM632.54 324.78a4.2 4.2 0 1 0 -8.4 0a4.2 4.2 0 1 0 8.4 0zM633.70 324.41a4.2 4.2 0 1 0 -8.4 0a4.2 4.2 0 1 0 8.4 0zM634.86 327.04a4.2 4.2 0 1 0 -8.4 0a4.2 4.2 0 1 0 8.4 0zM636.02 326.67a4.2 4.2 0 1 0 -8.4 0a4.2 4.2 0 1 0 8.4 0zM637.17 329.30a4.2 4.2 0 1 0 -8.4 0a4.2 4.2 0 1 0 8.4 0zM638.33 328.93a4.2 4.2 0 1 0 -8.4 0a4.2 4.2 0 1 0 8.4 0zM639.49 328.55a4.2 4.2 0 1 0 -8.4 0a4.2 4.2 0 1 0 8.4 0zM640.65 331.17a4.2 4.2 0 1 0 -8.4 0a4.2 4.2 0 1 0 8.4 0zM641.80 330.80a4.2 4.2 0 1 0 -8.4 0a4.2 4.2 0 1 0 8.4 0zM642.96 333.42a4.2 4.2 0 1 0 -8.4 0a4.2 4.2 0 1 0 8.4 0zM644.12 333.04a4.2 4.2 0 1 0 -8.4 0a4.2 4.2 0 1 0 8.4 0zM645.28 332.66a4.2 4.2 0 1 0 -8.4 0a4.2 4.2 0 1 0 8.4 0zM646.43 334.99a4.2 4.2 0 1 0 -8.4 0a4.2 4.2 0 1 0 8.4 0zM647.59 333.85a4.2 4.2 0 1 0 -8.4 0a4.2 4.2 0 1 0 8.4 0zM648.75 332.70a4.2 4.2 0 1 0 -8.4 0a4.2 4.2 0 1 0 8.4 0zM649.91 334.55a4.2 4.2 0 1 0 -8.4 0a4.2 4.2 0 1 0 8.4 0zM651.06 333.41a4.2 4.2 0 1 0 -8.4 0a4.2 4.2 0 1 0 8.4 0zM652.22 335.26a4.2 4.2 0 1 0 -8.4 0a4.2 4.2 0 1 0 8.4 0zM598.30 307.10a4.2 4.2 0 1 0 -8.4 0a4.2 4.2 0 1 0 8.4 0zM605.70 319.30a4.2 4.2 0 1 0 -8.4 0a4.2 4.2 0 1 0 8.4 0zM656.90 341.30a4.2 4.2 0 1 0 -8.4 0a4.2 4.2 0 1 0 8.4 0zM659.40 346.20a4.2 4.2 0 1 0 -8.4 0a4.2 4.2 0 1 0 8.4 0zM663.80 351.51a4.2 4.2 0 1 0 -8.4 0a4.2 4.2 0 1 0 8.4 0zM664.95 350.95a4.2 4.2 0 1 0 -8.4 0a4.2 4.2 0 1 0 8.4 0zM666.11 353.38a4.2 4.2 0 1 0 -8.4 0a4.2 4.2 0 1 0 8.4 0zM667.27 352.81a4.2 4.2 0 1 0 -8.4 0a4.2 4.2 0 1 0 8.4 0zM668.43 352.24a4.2 4.2 0 1 0 -8.4 0a4.2 4.2 0 1 0 8.4 0zM669.58 354.68a4.2 4.2 0 1 0 -8.4 0a4.2 4.2 0 1 0 8.4 0zM670.74 354.06a4.2 4.2 0 1 0 -8.4 0a4.2 4.2 0 1 0 8.4 0zM671.90 356.31a4.2 4.2 0 1 0 -8.4 0a4.2 4.2 0 1 0 8.4 0zM673.06 355.56a4.2 4.2 0 1 0 -8.4 0a4.2 4.2 0 1 0 8.4 0zM674.21 354.81a4.2 4.2 0 1 0 -8.4 0a4.2 4.2 0 1 0 8.4 0zM675.37 357.06a4.2 4.2 0 1 0 -8.4 0a4.2 4.2 0 1 0 8.4 0zM676.53 356.31a4.2 4.2 0 1 0 -8.4 0a4.2 4.2 0 1 0 8.4 0zM677.69 358.56a4.2 4.2 0 1 0 -8.4 0a4.2 4.2 0 1 0 8.4 0zM678.84 357.22a4.2 4.2 0 1 0 -8.4 0a4.2 4.2 0 1 0 8.4 0zM680.00 355.86a4.2 4.2 0 1 0 -8.4 0a4.2 4.2 0 1 0 8.4 0zM681.16 357.51a4.2 4.2 0 1 0 -8.4 0a4.2 4.2 0 1 0 8.4 0zM682.32 356.16a4.2 4.2 0 1 0 -8.4 0a4.2 4.2 0 1 0 8.4 0zM683.47 354.81a4.2 4.2 0 1 0 -8.4 0a4.2 4.2 0 1 0 8.4 0zM684.63 356.46a4.2 4.2 0 1 0 -8.4 0a4.2 4.2 0 1 0 8.4 0zM685.79 355.78a4.2 4.2 0 1 0 -8.4 0a4.2 4.2 0 1 0 8.4 0zM686.95 358.41a4.2 4.2 0 1 0 -8.4 0a4.2 4.2 0 1 0 8.4 0zM688.10 358.05a4.2 4.2 0 1 0 -8.4 0a4.2 4.2 0 1 0 8.4 0z" stroke="#0072BD" stroke-width="2.3" fill="none"/>
<text transform="translate(481.50,322.90) scale(1.01,1)" text-anchor="end" font-size="19.4" fill="#262626">6</text>
<text transform="translate(481.50,340.85) scale(1.01,1)" text-anchor="end" font-size="19.4" fill="#262626">5</text>
<text transform="translate(481.50,358.80) scale(1.01,1)" text-anchor="end" font-size="19.4" fill="#262626">4</text>
<path d="M147.50 466.50H355.60M147.50 446.40H355.60M188.50 427.50V487.40M230.17 427.50V487.40M271.84 427.50V487.40M313.51 427.50V487.40" stroke="#dfdfdf" stroke-width="2" fill="none"/>
<path d="M148.70 481.63h1.1v1.9h-1.1zM154.25 481.63h1.1v1.9h-1.1zM159.80 481.63h1.1v1.9h-1.1zM165.35 481.63h1.1v1.9h-1.1zM170.90 481.63h1.1v1.9h-1.1zM176.45 481.63h1.1v1.9h-1.1zM182.00 481.63h1.1v1.9h-1.1zM187.55 481.63h1.1v1.9h-1.1zM193.10 481.63h1.1v1.9h-1.1zM198.65 481.63h1.1v1.9h-1.1zM204.20 481.63h1.1v1.9h-1.1zM209.75 481.63h1.1v1.9h-1.1zM215.30 481.63h1.1v1.9h-1.1zM220.85 481.63h1.1v1.9h-1.1zM226.40 481.63h1.1v1.9h-1.1zM231.95 481.63h1.1v1.9h-1.1zM237.50 481.63h1.1v1.9h-1.1zM243.05 481.63h1.1v1.9h-1.1zM248.60 481.63h1.1v1.9h-1.1zM254.15 481.63h1.1v1.9h-1.1zM259.70 481.63h1.1v1.9h-1.1zM265.25 481.63h1.1v1.9h-1.1zM270.80 481.63h1.1v1.9h-1.1zM276.35 481.63h1.1v1.9h-1.1zM281.90 481.63h1.1v1.9h-1.1zM287.45 481.63h1.1v1.9h-1.1zM293.00 481.63h1.1v1.9h-1.1zM298.55 481.63h1.1v1.9h-1.1zM304.10 481.63h1.1v1.9h-1.1zM309.65 481.63h1.1v1.9h-1.1zM315.20 481.63h1.1v1.9h-1.1zM320.75 481.63h1.1v1.9h-1.1zM326.30 481.63h1.1v1.9h-1.1zM331.85 481.63h1.1v1.9h-1.1zM337.40 481.63h1.1v1.9h-1.1zM342.95 481.63h1.1v1.9h-1.1zM348.50 481.63h1.1v1.9h-1.1zM148.70 477.61h1.1v1.9h-1.1zM154.25 477.61h1.1v1.9h-1.1zM159.80 477.61h1.1v1.9h-1.1zM165.35 477.61h1.1v1.9h-1.1zM170.90 477.61h1.1v1.9h-1.1zM176.45 477.61h1.1v1.9h-1.1zM182.00 477.61h1.1v1.9h-1.1zM187.55 477.61h1.1v1.9h-1.1zM193.10 477.61h1.1v1.9h-1.1zM198.65 477.61h1.1v1.9h-1.1zM204.20 477.61h1.1v1.9h-1.1zM209.75 477.61h1.1v1.9h-1.1zM215.30 477.61h1.1v1.9h-1.1zM220.85 477.61h1.1v1.9h-1.1zM226.40 477.61h1.1v1.9h-1.1zM231.95 477.61h1.1v1.9h-1.1zM237.50 477.61h1.1v1.9h-1.1zM243.05 477.61h1.1v1.9h-1.1zM248.60 477.61h1.1v1.9h-1.1zM254.15 477.61h1.1v1.9h-1.1zM259.70 477.61h1.1v1.9h-1.1zM265.25 477.61h1.1v1.9h-1.1zM270.80 477.61h1.1v1.9h-1.1zM276.35 477.61h1.1v1.9h-1.1zM281.90 477.61h1.1v1.9h-1.1zM287.45 477.61h1.1v1.9h-1.1zM293.00 477.61h1.1v1.9h-1.1zM298.55 477.61h1.1v1.9h-1.1zM304.10 477.61h1.1v1.9h-1.1zM309.65 477.61h1.1v1.9h-1.1zM315.20 477.61h1.1v1.9h-1.1zM320.75 477.61h1.1v1.9h-1.1zM326.30 477.61h1.1v1.9h-1.1zM331.85 477.61h1.1v1.9h-1.1zM337.40 477.61h1.1v1.9h-1.1zM342.95 477.61h1.1v1.9h-1.1zM348.50 477.61h1.1v1.9h-1.1zM148.70 473.59h1.1v1.9h-1.1zM154.25 473.59h1.1v1.9h-1.1zM159.80 473.59h1.1v1.9h-1.1zM165.35 473.59h1.1v1.9h-1.1zM170.90 473.59h1.1v1.9h-1.1zM176.45 473.59h1.1v1.9h-1.1zM182.00 473.59h1.1v1.9h-1.1zM187.55 473.59h1.1v1.9h-1.1zM193.10 473.59h1.1v1.9h-1.1zM198.65 473.59h1.1v1.9h-1.1zM204.20 473.59h1.1v1.9h-1.1zM209.75 473.59h1.1v1.9h-1.1zM215.30 473.59h1.1v1.9h-1.1zM220.85 473.59h1.1v1.9h-1.1zM226.40 473.59h1.1v1.9h-1.1zM231.95 473.59h1.1v1.9h-1.1zM237.50 473.59h1.1v1.9h-1.1zM243.05 473.59h1.1v1.9h-1.1zM248.60 473.59h1.1v1.9h-1.1zM254.15 473.59h1.1v1.9h-1.1zM259.70 473.59h1.1v1.9h-1.1zM265.25 473.59h1.1v1.9h-1.1zM270.80 473.59h1.1v1.9h-1.1zM276.35 473.59h1.1v1.9h-1.1zM281.90 473.59h1.1v1.9h-1.1zM287.45 473.59h1.1v1.9h-1.1zM293.00 473.59h1.1v1.9h-1.1zM298.55 473.59h1.1v1.9h-1.1zM304.10 473.59h1.1v1.9h-1.1zM309.65 473.59h1.1v1.9h-1.1zM315.20 473.59h1.1v1.9h-1.1zM320.75 473.59h1.1v1.9h-1.1zM326.30 473.59h1.1v1.9h-1.1zM331.85 473.59h1.1v1.9h-1.1zM337.40 473.59h1.1v1.9h-1.1zM342.95 473.59h1.1v1.9h-1.1zM348.50 473.59h1.1v1.9h-1.1zM148.70 469.57h1.1v1.9h-1.1zM154.25 469.57h1.1v1.9h-1.1zM159.80 469.57h1.1v1.9h-1.1zM165.35 469.57h1.1v1.9h-1.1zM170.90 469.57h1.1v1.9h-1.1zM176.45 469.57h1.1v1.9h-1.1zM182.00 469.57h1.1v1.9h-1.1zM187.55 469.57h1.1v1.9h-1.1zM193.10 469.57h1.1v1.9h-1.1zM198.65 469.57h1.1v1.9h-1.1zM204.20 469.57h1.1v1.9h-1.1zM209.75 469.57h1.1v1.9h-1.1zM215.30 469.57h1.1v1.9h-1.1zM220.85 469.57h1.1v1.9h-1.1zM226.40 469.57h1.1v1.9h-1.1zM231.95 469.57h1.1v1.9h-1.1zM237.50 469.57h1.1v1.9h-1.1zM243.05 469.57h1.1v1.9h-1.1zM248.60 469.57h1.1v1.9h-1.1zM254.15 469.57h1.1v1.9h-1.1zM259.70 469.57h1.1v1.9h-1.1zM265.25 469.57h1.1v1.9h-1.1zM270.80 469.57h1.1v1.9h-1.1zM276.35 469.57h1.1v1.9h-1.1zM281.90 469.57h1.1v1.9h-1.1zM287.45 469.57h1.1v1.9h-1.1zM293.00 469.57h1.1v1.9h-1.1zM298.55 469.57h1.1v1.9h-1.1zM304.10 469.57h1.1v1.9h-1.1zM309.65 469.57h1.1v1.9h-1.1zM315.20 469.57h1.1v1.9h-1.1zM320.75 469.57h1.1v1.9h-1.1zM326.30 469.57h1.1v1.9h-1.1zM331.85 469.57h1.1v1.9h-1.1zM337.40 469.57h1.1v1.9h-1.1zM342.95 469.57h1.1v1.9h-1.1zM348.50 469.57h1.1v1.9h-1.1zM148.70 461.53h1.1v1.9h-1.1zM154.25 461.53h1.1v1.9h-1.1zM159.80 461.53h1.1v1.9h-1.1zM165.35 461.53h1.1v1.9h-1.1zM170.90 461.53h1.1v1.9h-1.1zM176.45 461.53h1.1v1.9h-1.1zM182.00 461.53h1.1v1.9h-1.1zM187.55 461.53h1.1v1.9h-1.1zM193.10 461.53h1.1v1.9h-1.1zM198.65 461.53h1.1v1.9h-1.1zM204.20 461.53h1.1v1.9h-1.1zM209.75 461.53h1.1v1.9h-1.1zM215.30 461.53h1.1v1.9h-1.1zM220.85 461.53h1.1v1.9h-1.1zM226.40 461.53h1.1v1.9h-1.1zM231.95 461.53h1.1v1.9h-1.1zM237.50 461.53h1.1v1.9h-1.1zM243.05 461.53h1.1v1.9h-1.1zM248.60 461.53h1.1v1.9h-1.1zM254.15 461.53h1.1v1.9h-1.1zM259.70 461.53h1.1v1.9h-1.1zM265.25 461.53h1.1v1.9h-1.1zM270.80 461.53h1.1v1.9h-1.1zM276.35 461.53h1.1v1.9h-1.1zM281.90 461.53h1.1v1.9h-1.1zM287.45 461.53h1.1v1.9h-1.1zM293.00 461.53h1.1v1.9h-1.1zM298.55 461.53h1.1v1.9h-1.1zM304.10 461.53h1.1v1.9h-1.1zM309.65 461.53h1.1v1.9h-1.1zM315.20 461.53h1.1v1.9h-1.1zM320.75 461.53h1.1v1.9h-1.1zM326.30 461.53h1.1v1.9h-1.1zM331.85 461.53h1.1v1.9h-1.1zM337.40 461.53h1.1v1.9h-1.1zM342.95 461.53h1.1v1.9h-1.1zM348.50 461.53h1.1v1.9h-1.1zM148.70 457.51h1.1v1.9h-1.1zM154.25 457.51h1.1v1.9h-1.1zM159.80 457.51h1.1v1.9h-1.1zM165.35 457.51h1.1v1.9h-1.1zM170.90 457.51h1.1v1.9h-1.1zM176.45 457.51h1.1v1.9h-1.1zM182.00 457.51h1.1v1.9h-1.1zM187.55 457.51h1.1v1.9h-1.1zM193.10 457.51h1.1v1.9h-1.1zM198.65 457.51h1.1v1.9h-1.1zM204.20 457.51h1.1v1.9h-1.1zM209.75 457.51h1.1v1.9h-1.1zM215.30 457.51h1.1v1.9h-1.1zM220.85 457.51h1.1v1.9h-1.1zM226.40 457.51h1.1v1.9h-1.1zM231.95 457.51h1.1v1.9h-1.1zM237.50 457.51h1.1v1.9h-1.1zM243.05 457.51h1.1v1.9h-1.1zM248.60 457.51h1.1v1.9h-1.1zM254.15 457.51h1.1v1.9h-1.1zM259.70 457.51h1.1v1.9h-1.1zM265.25 457.51h1.1v1.9h-1.1zM270.80 457.51h1.1v1.9h-1.1zM276.35 457.51h1.1v1.9h-1.1zM281.90 457.51h1.1v1.9h-1.1zM287.45 457.51h1.1v1.9h-1.1zM293.00 457.51h1.1v1.9h-1.1zM298.55 457.51h1.1v1.9h-1.1zM304.10 457.51h1.1v1.9h-1.1zM309.65 457.51h1.1v1.9h-1.1zM315.20 457.51h1.1v1.9h-1.1zM320.75 457.51h1.1v1.9h-1.1zM326.30 457.51h1.1v1.9h-1.1zM331.85 457.51h1.1v1.9h-1.1zM337.40 457.51h1.1v1.9h-1.1zM342.95 457.51h1.1v1.9h-1.1zM348.50 457.51h1.1v1.9h-1.1zM148.70 453.49h1.1v1.9h-1.1zM154.25 453.49h1.1v1.9h-1.1zM159.80 453.49h1.1v1.9h-1.1zM165.35 453.49h1.1v1.9h-1.1zM170.90 453.49h1.1v1.9h-1.1zM176.45 453.49h1.1v1.9h-1.1zM182.00 453.49h1.1v1.9h-1.1zM187.55 453.49h1.1v1.9h-1.1zM193.10 453.49h1.1v1.9h-1.1zM198.65 453.49h1.1v1.9h-1.1zM204.20 453.49h1.1v1.9h-1.1zM209.75 453.49h1.1v1.9h-1.1zM215.30 453.49h1.1v1.9h-1.1zM220.85 453.49h1.1v1.9h-1.1zM226.40 453.49h1.1v1.9h-1.1zM231.95 453.49h1.1v1.9h-1.1zM237.50 453.49h1.1v1.9h-1.1zM243.05 453.49h1.1v1.9h-1.1zM248.60 453.49h1.1v1.9h-1.1zM254.15 453.49h1.1v1.9h-1.1zM259.70 453.49h1.1v1.9h-1.1zM265.25 453.49h1.1v1.9h-1.1zM270.80 453.49h1.1v1.9h-1.1zM276.35 453.49h1.1v1.9h-1.1zM281.90 453.49h1.1v1.9h-1.1zM287.45 453.49h1.1v1.9h-1.1zM293.00 453.49h1.1v1.9h-1.1zM298.55 453.49h1.1v1.9h-1.1zM304.10 453.49h1.1v1.9h-1.1zM309.65 453.49h1.1v1.9h-1.1zM315.20 453.49h1.1v1.9h-1.1zM320.75 453.49h1.1v1.9h-1.1zM326.30 453.49h1.1v1.9h-1.1zM331.85 453.49h1.1v1.9h-1.1zM337.40 453.49h1.1v1.9h-1.1zM342.95 453.49h1.1v1.9h-1.1zM348.50 453.49h1.1v1.9h-1.1zM148.70 449.47h1.1v1.9h-1.1zM154.25 449.47h1.1v1.9h-1.1zM159.80 449.47h1.1v1.9h-1.1zM165.35 449.47h1.1v1.9h-1.1zM170.90 449.47h1.1v1.9h-1.1zM176.45 449.47h1.1v1.9h-1.1zM182.00 449.47h1.1v1.9h-1.1zM187.55 449.47h1.1v1.9h-1.1zM193.10 449.47h1.1v1.9h-1.1zM198.65 449.47h1.1v1.9h-1.1zM204.20 449.47h1.1v1.9h-1.1zM209.75 449.47h1.1v1.9h-1.1zM215.30 449.47h1.1v1.9h-1.1zM220.85 449.47h1.1v1.9h-1.1zM226.40 449.47h1.1v1.9h-1.1zM231.95 449.47h1.1v1.9h-1.1zM237.50 449.47h1.1v1.9h-1.1zM243.05 449.47h1.1v1.9h-1.1zM248.60 449.47h1.1v1.9h-1.1zM254.15 449.47h1.1v1.9h-1.1zM259.70 449.47h1.1v1.9h-1.1zM265.25 449.47h1.1v1.9h-1.1zM270.80 449.47h1.1v1.9h-1.1zM276.35 449.47h1.1v1.9h-1.1zM281.90 449.47h1.1v1.9h-1.1zM287.45 449.47h1.1v1.9h-1.1zM293.00 449.47h1.1v1.9h-1.1zM298.55 449.47h1.1v1.9h-1.1zM304.10 449.47h1.1v1.9h-1.1zM309.65 449.47h1.1v1.9h-1.1zM315.20 449.47h1.1v1.9h-1.1zM320.75 449.47h1.1v1.9h-1.1zM326.30 449.47h1.1v1.9h-1.1zM331.85 449.47h1.1v1.9h-1.1zM337.40 449.47h1.1v1.9h-1.1zM342.95 449.47h1.1v1.9h-1.1zM348.50 449.47h1.1v1.9h-1.1zM148.70 441.43h1.1v1.9h-1.1zM154.25 441.43h1.1v1.9h-1.1zM159.80 441.43h1.1v1.9h-1.1zM165.35 441.43h1.1v1.9h-1.1zM170.90 441.43h1.1v1.9h-1.1zM176.45 441.43h1.1v1.9h-1.1zM182.00 441.43h1.1v1.9h-1.1zM187.55 441.43h1.1v1.9h-1.1zM193.10 441.43h1.1v1.9h-1.1zM198.65 441.43h1.1v1.9h-1.1zM204.20 441.43h1.1v1.9h-1.1zM209.75 441.43h1.1v1.9h-1.1zM215.30 441.43h1.1v1.9h-1.1zM220.85 441.43h1.1v1.9h-1.1zM226.40 441.43h1.1v1.9h-1.1zM231.95 441.43h1.1v1.9h-1.1zM237.50 441.43h1.1v1.9h-1.1zM243.05 441.43h1.1v1.9h-1.1zM248.60 441.43h1.1v1.9h-1.1zM254.15 441.43h1.1v1.9h-1.1zM259.70 441.43h1.1v1.9h-1.1zM265.25 441.43h1.1v1.9h-1.1zM270.80 441.43h1.1v1.9h-1.1zM276.35 441.43h1.1v1.9h-1.1zM281.90 441.43h1.1v1.9h-1.1zM287.45 441.43h1.1v1.9h-1.1zM293.00 441.43h1.1v1.9h-1.1zM298.55 441.43h1.1v1.9h-1.1zM304.10 441.43h1.1v1.9h-1.1zM309.65 441.43h1.1v1.9h-1.1zM315.20 441.43h1.1v1.9h-1.1zM320.75 441.43h1.1v1.9h-1.1zM326.30 441.43h1.1v1.9h-1.1zM331.85 441.43h1.1v1.9h-1.1zM337.40 441.43h1.1v1.9h-1.1zM342.95 441.43h1.1v1.9h-1.1zM348.50 441.43h1.1v1.9h-1.1zM148.70 437.41h1.1v1.9h-1.1zM154.25 437.41h1.1v1.9h-1.1zM159.80 437.41h1.1v1.9h-1.1zM165.35 437.41h1.1v1.9h-1.1zM170.90 437.41h1.1v1.9h-1.1zM176.45 437.41h1.1v1.9h-1.1zM182.00 437.41h1.1v1.9h-1.1zM187.55 437.41h1.1v1.9h-1.1zM193.10 437.41h1.1v1.9h-1.1zM198.65 437.41h1.1v1.9h-1.1zM204.20 437.41h1.1v1.9h-1.1zM209.75 437.41h1.1v1.9h-1.1zM215.30 437.41h1.1v1.9h-1.1zM220.85 437.41h1.1v1.9h-1.1zM226.40 437.41h1.1v1.9h-1.1zM231.95 437.41h1.1v1.9h-1.1zM237.50 437.41h1.1v1.9h-1.1zM243.05 437.41h1.1v1.9h-1.1zM248.60 437.41h1.1v1.9h-1.1zM254.15 437.41h1.1v1.9h-1.1zM259.70 437.41h1.1v1.9h-1.1zM265.25 437.41h1.1v1.9h-1.1zM270.80 437.41h1.1v1.9h-1.1zM276.35 437.41h1.1v1.9h-1.1zM281.90 437.41h1.1v1.9h-1.1zM287.45 437.41h1.1v1.9h-1.1zM293.00 437.41h1.1v1.9h-1.1zM298.55 437.41h1.1v1.9h-1.1zM304.10 437.41h1.1v1.9h-1.1zM309.65 437.41h1.1v1.9h-1.1zM315.20 437.41h1.1v1.9h-1.1zM320.75 437.41h1.1v1.9h-1.1zM326.30 437.41h1.1v1.9h-1.1zM331.85 437.41h1.1v1.9h-1.1zM337.40 437.41h1.1v1.9h-1.1zM342.95 437.41h1.1v1.9h-1.1zM348.50 437.41h1.1v1.9h-1.1zM148.70 433.39h1.1v1.9h-1.1zM154.25 433.39h1.1v1.9h-1.1zM159.80 433.39h1.1v1.9h-1.1zM165.35 433.39h1.1v1.9h-1.1zM170.90 433.39h1.1v1.9h-1.1zM176.45 433.39h1.1v1.9h-1.1zM182.00 433.39h1.1v1.9h-1.1zM187.55 433.39h1.1v1.9h-1.1zM193.10 433.39h1.1v1.9h-1.1zM198.65 433.39h1.1v1.9h-1.1zM204.20 433.39h1.1v1.9h-1.1zM209.75 433.39h1.1v1.9h-1.1zM215.30 433.39h1.1v1.9h-1.1zM220.85 433.39h1.1v1.9h-1.1zM226.40 433.39h1.1v1.9h-1.1zM231.95 433.39h1.1v1.9h-1.1zM237.50 433.39h1.1v1.9h-1.1zM243.05 433.39h1.1v1.9h-1.1zM248.60 433.39h1.1v1.9h-1.1zM254.15 433.39h1.1v1.9h-1.1zM259.70 433.39h1.1v1.9h-1.1zM265.25 433.39h1.1v1.9h-1.1zM270.80 433.39h1.1v1.9h-1.1zM276.35 433.39h1.1v1.9h-1.1zM281.90 433.39h1.1v1.9h-1.1zM287.45 433.39h1.1v1.9h-1.1zM293.00 433.39h1.1v1.9h-1.1zM298.55 433.39h1.1v1.9h-1.1zM304.10 433.39h1.1v1.9h-1.1zM309.65 433.39h1.1v1.9h-1.1zM315.20 433.39h1.1v1.9h-1.1zM320.75 433.39h1.1v1.9h-1.1zM326.30 433.39h1.1v1.9h-1.1zM331.85 433.39h1.1v1.9h-1.1zM337.40 433.39h1.1v1.9h-1.1zM342.95 433.39h1.1v1.9h-1.1zM348.50 433.39h1.1v1.9h-1.1zM148.70 429.37h1.1v1.9h-1.1zM154.25 429.37h1.1v1.9h-1.1zM159.80 429.37h1.1v1.9h-1.1zM165.35 429.37h1.1v1.9h-1.1zM170.90 429.37h1.1v1.9h-1.1zM176.45 429.37h1.1v1.9h-1.1zM182.00 429.37h1.1v1.9h-1.1zM187.55 429.37h1.1v1.9h-1.1zM193.10 429.37h1.1v1.9h-1.1zM198.65 429.37h1.1v1.9h-1.1zM204.20 429.37h1.1v1.9h-1.1zM209.75 429.37h1.1v1.9h-1.1zM215.30 429.37h1.1v1.9h-1.1zM220.85 429.37h1.1v1.9h-1.1zM226.40 429.37h1.1v1.9h-1.1zM231.95 429.37h1.1v1.9h-1.1zM237.50 429.37h1.1v1.9h-1.1zM243.05 429.37h1.1v1.9h-1.1zM248.60 429.37h1.1v1.9h-1.1zM254.15 429.37h1.1v1.9h-1.1zM259.70 429.37h1.1v1.9h-1.1zM265.25 429.37h1.1v1.9h-1.1zM270.80 429.37h1.1v1.9h-1.1zM276.35 429.37h1.1v1.9h-1.1zM281.90 429.37h1.1v1.9h-1.1zM287.45 429.37h1.1v1.9h-1.1zM293.00 429.37h1.1v1.9h-1.1zM298.55 429.37h1.1v1.9h-1.1zM304.10 429.37h1.1v1.9h-1.1zM309.65 429.37h1.1v1.9h-1.1zM315.20 429.37h1.1v1.9h-1.1zM320.75 429.37h1.1v1.9h-1.1zM326.30 429.37h1.1v1.9h-1.1zM331.85 429.37h1.1v1.9h-1.1zM337.40 429.37h1.1v1.9h-1.1zM342.95 429.37h1.1v1.9h-1.1zM348.50 429.37h1.1v1.9h-1.1z" fill="#a4a4a4"/>
<path d="M147.50 486.60h3.3M355.60 486.60h-3.3M147.50 466.50h3.3M355.60 466.50h-3.3M147.50 446.40h3.3M355.60 446.40h-3.3M188.50 487.40v-3.3M188.50 427.50v3.3M230.17 487.40v-3.3M230.17 427.50v3.3M271.84 487.40v-3.3M271.84 427.50v3.3M313.51 487.40v-3.3M313.51 427.50v3.3" stroke="#262626" stroke-width="2" fill="none"/>
<rect x="147.5" y="427.5" width="208.10" height="59.90" stroke="#262626" stroke-width="2" fill="none"/>
<path d="M177.07 487.00a4.2 4.2 0 1 0 -8.4 0a4.2 4.2 0 1 0 8.4 0zM177.94 487.00a4.2 4.2 0 1 0 -8.4 0a4.2 4.2 0 1 0 8.4 0zM178.81 487.00a4.2 4.2 0 1 0 -8.4 0a4.2 4.2 0 1 0 8.4 0zM179.68 487.00a4.2 4.2 0 1 0 -8.4 0a4.2 4.2 0 1 0 8.4 0zM180.55 487.00a4.2 4.2 0 1 0 -8.4 0a4.2 4.2 0 1 0 8.4 0zM181.41 487.00a4.2 4.2 0 1 0 -8.4 0a4.2 4.2 0 1 0 8.4 0zM182.28 487.00a4.2 4.2 0 1 0 -8.4 0a4.2 4.2 0 1 0 8.4 0zM183.15 487.00a4.2 4.2 0 1 0 -8.4 0a4.2 4.2 0 1 0 8.4 0zM184.02 487.00a4.2 4.2 0 1 0 -8.4 0a4.2 4.2 0 1 0 8.4 0zM184.89 487.00a4.2 4.2 0 1 0 -8.4 0a4.2 4.2 0 1 0 8.4 0zM185.75 487.00a4.2 4.2 0 1 0 -8.4 0a4.2 4.2 0 1 0 8.4 0zM186.62 487.00a4.2 4.2 0 1 0 -8.4 0a4.2 4.2 0 1 0 8.4 0zM187.49 487.00a4.2 4.2 0 1 0 -8.4 0a4.2 4.2 0 1 0 8.4 0zM188.36 487.00a4.2 4.2 0 1 0 -8.4 0a4.2 4.2 0 1 0 8.4 0zM189.23 487.00a4.2 4.2 0 1 0 -8.4 0a4.2 4.2 0 1 0 8.4 0zM190.10 487.00a4.2 4.2 0 1 0 -8.4 0a4.2 4.2 0 1 0 8.4 0zM190.96 487.00a4.2 4.2 0 1 0 -8.4 0a4.2 4.2 0 1 0 8.4 0zM191.83 487.00a4.2 4.2 0 1 0 -8.4 0a4.2 4.2 0 1 0 8.4 0zM192.70 487.00a4.2 4.2 0 1 0 -8.4 0a4.2 4.2 0 1 0 8.4 0zM193.57 487.00a4.2 4.2 0 1 0 -8.4 0a4.2 4.2 0 1 0 8.4 0zM194.44 487.00a4.2 4.2 0 1 0 -8.4 0a4.2 4.2 0 1 0 8.4 0zM195.30 487.00a4.2 4.2 0 1 0 -8.4 0a4.2 4.2 0 1 0 8.4 0zM196.17 487.00a4.2 4.2 0 1 0 -8.4 0a4.2 4.2 0 1 0 8.4 0zM197.04 487.00a4.2 4.2 0 1 0 -8.4 0a4.2 4.2 0 1 0 8.4 0zM197.91 487.00a4.2 4.2 0 1 0 -8.4 0a4.2 4.2 0 1 0 8.4 0zM198.78 487.00a4.2 4.2 0 1 0 -8.4 0a4.2 4.2 0 1 0 8.4 0zM199.65 487.00a4.2 4.2 0 1 0 -8.4 0a4.2 4.2 0 1 0 8.4 0zM200.51 487.00a4.2 4.2 0 1 0 -8.4 0a4.2 4.2 0 1 0 8.4 0zM201.38 487.00a4.2 4.2 0 1 0 -8.4 0a4.2 4.2 0 1 0 8.4 0zM202.25 487.00a4.2 4.2 0 1 0 -8.4 0a4.2 4.2 0 1 0 8.4 0zM203.12 487.00a4.2 4.2 0 1 0 -8.4 0a4.2 4.2 0 1 0 8.4 0zM203.99 487.00a4.2 4.2 0 1 0 -8.4 0a4.2 4.2 0 1 0 8.4 0zM204.85 487.00a4.2 4.2 0 1 0 -8.4 0a4.2 4.2 0 1 0 8.4 0zM205.72 487.00a4.2 4.2 0 1 0 -8.4 0a4.2 4.2 0 1 0 8.4 0zM206.59 487.00a4.2 4.2 0 1 0 -8.4 0a4.2 4.2 0 1 0 8.4 0zM207.46 487.00a4.2 4.2 0 1 0 -8.4 0a4.2 4.2 0 1 0 8.4 0zM208.33 487.00a4.2 4.2 0 1 0 -8.4 0a4.2 4.2 0 1 0 8.4 0zM209.19 487.00a4.2 4.2 0 1 0 -8.4 0a4.2 4.2 0 1 0 8.4 0zM210.06 487.00a4.2 4.2 0 1 0 -8.4 0a4.2 4.2 0 1 0 8.4 0zM210.93 487.00a4.2 4.2 0 1 0 -8.4 0a4.2 4.2 0 1 0 8.4 0zM211.80 487.00a4.2 4.2 0 1 0 -8.4 0a4.2 4.2 0 1 0 8.4 0zM212.67 487.00a4.2 4.2 0 1 0 -8.4 0a4.2 4.2 0 1 0 8.4 0zM213.53 487.00a4.2 4.2 0 1 0 -8.4 0a4.2 4.2 0 1 0 8.4 0zM214.40 487.00a4.2 4.2 0 1 0 -8.4 0a4.2 4.2 0 1 0 8.4 0zM215.27 487.00a4.2 4.2 0 1 0 -8.4 0a4.2 4.2 0 1 0 8.4 0zM216.14 487.00a4.2 4.2 0 1 0 -8.4 0a4.2 4.2 0 1 0 8.4 0zM217.01 487.00a4.2 4.2 0 1 0 -8.4 0a4.2 4.2 0 1 0 8.4 0zM217.88 487.00a4.2 4.2 0 1 0 -8.4 0a4.2 4.2 0 1 0 8.4 0zM218.74 487.00a4.2 4.2 0 1 0 -8.4 0a4.2 4.2 0 1 0 8.4 0zM219.61 487.00a4.2 4.2 0 1 0 -8.4 0a4.2 4.2 0 1 0 8.4 0zM220.48 487.00a4.2 4.2 0 1 0 -8.4 0a4.2 4.2 0 1 0 8.4 0zM221.35 487.00a4.2 4.2 0 1 0 -8.4 0a4.2 4.2 0 1 0 8.4 0zM222.22 487.00a4.2 4.2 0 1 0 -8.4 0a4.2 4.2 0 1 0 8.4 0zM223.08 487.00a4.2 4.2 0 1 0 -8.4 0a4.2 4.2 0 1 0 8.4 0zM223.95 487.00a4.2 4.2 0 1 0 -8.4 0a4.2 4.2 0 1 0 8.4 0zM224.82 487.00a4.2 4.2 0 1 0 -8.4 0a4.2 4.2 0 1 0 8.4 0zM225.69 487.00a4.2 4.2 0 1 0 -8.4 0a4.2 4.2 0 1 0 8.4 0zM226.56 487.00a4.2 4.2 0 1 0 -8.4 0a4.2 4.2 0 1 0 8.4 0zM227.43 487.00a4.2 4.2 0 1 0 -8.4 0a4.2 4.2 0 1 0 8.4 0zM228.29 487.00a4.2 4.2 0 1 0 -8.4 0a4.2 4.2 0 1 0 8.4 0zM229.16 487.00a4.2 4.2 0 1 0 -8.4 0a4.2 4.2 0 1 0 8.4 0zM230.03 487.00a4.2 4.2 0 1 0 -8.4 0a4.2 4.2 0 1 0 8.4 0zM230.90 487.00a4.2 4.2 0 1 0 -8.4 0a4.2 4.2 0 1 0 8.4 0zM231.77 487.00a4.2 4.2 0 1 0 -8.4 0a4.2 4.2 0 1 0 8.4 0zM232.63 487.00a4.2 4.2 0 1 0 -8.4 0a4.2 4.2 0 1 0 8.4 0zM233.50 487.00a4.2 4.2 0 1 0 -8.4 0a4.2 4.2 0 1 0 8.4 0zM234.37 487.00a4.2 4.2 0 1 0 -8.4 0a4.2 4.2 0 1 0 8.4 0zM235.24 487.00a4.2 4.2 0 1 0 -8.4 0a4.2 4.2 0 1 0 8.4 0zM236.11 487.00a4.2 4.2 0 1 0 -8.4 0a4.2 4.2 0 1 0 8.4 0zM236.97 487.00a4.2 4.2 0 1 0 -8.4 0a4.2 4.2 0 1 0 8.4 0zM237.84 487.00a4.2 4.2 0 1 0 -8.4 0a4.2 4.2 0 1 0 8.4 0zM238.71 487.00a4.2 4.2 0 1 0 -8.4 0a4.2 4.2 0 1 0 8.4 0zM239.58 487.00a4.2 4.2 0 1 0 -8.4 0a4.2 4.2 0 1 0 8.4 0zM240.45 487.00a4.2 4.2 0 1 0 -8.4 0a4.2 4.2 0 1 0 8.4 0zM241.31 487.00a4.2 4.2 0 1 0 -8.4 0a4.2 4.2 0 1 0 8.4 0zM242.18 487.00a4.2 4.2 0 1 0 -8.4 0a4.2 4.2 0 1 0 8.4 0zM243.05 487.00a4.2 4.2 0 1 0 -8.4 0a4.2 4.2 0 1 0 8.4 0zM243.92 487.00a4.2 4.2 0 1 0 -8.4 0a4.2 4.2 0 1 0 8.4 0zM244.79 487.00a4.2 4.2 0 1 0 -8.4 0a4.2 4.2 0 1 0 8.4 0zM245.66 487.00a4.2 4.2 0 1 0 -8.4 0a4.2 4.2 0 1 0 8.4 0zM246.52 487.00a4.2 4.2 0 1 0 -8.4 0a4.2 4.2 0 1 0 8.4 0zM247.39 487.00a4.2 4.2 0 1 0 -8.4 0a4.2 4.2 0 1 0 8.4 0zM248.26 487.00a4.2 4.2 0 1 0 -8.4 0a4.2 4.2 0 1 0 8.4 0zM249.13 487.00a4.2 4.2 0 1 0 -8.4 0a4.2 4.2 0 1 0 8.4 0zM250.00 487.00a4.2 4.2 0 1 0 -8.4 0a4.2 4.2 0 1 0 8.4 0zM250.86 487.00a4.2 4.2 0 1 0 -8.4 0a4.2 4.2 0 1 0 8.4 0zM251.73 487.00a4.2 4.2 0 1 0 -8.4 0a4.2 4.2 0 1 0 8.4 0zM252.60 487.00a4.2 4.2 0 1 0 -8.4 0a4.2 4.2 0 1 0 8.4 0zM253.47 487.00a4.2 4.2 0 1 0 -8.4 0a4.2 4.2 0 1 0 8.4 0zM254.34 487.00a4.2 4.2 0 1 0 -8.4 0a4.2 4.2 0 1 0 8.4 0zM253.90 484.50a4.2 4.2 0 1 0 -8.4 0a4.2 4.2 0 1 0 8.4 0zM257.00 468.90a4.2 4.2 0 1 0 -8.4 0a4.2 4.2 0 1 0 8.4 0zM259.30 464.30a4.2 4.2 0 1 0 -8.4 0a4.2 4.2 0 1 0 8.4 0zM261.60 469.30a4.2 4.2 0 1 0 -8.4 0a4.2 4.2 0 1 0 8.4 0zM266.20 478.20a4.2 4.2 0 1 0 -8.4 0a4.2 4.2 0 1 0 8.4 0zM262.40 485.50a4.2 4.2 0 1 0 -8.4 0a4.2 4.2 0 1 0 8.4 0zM266.49 487.00a4.2 4.2 0 1 0 -8.4 0a4.2 4.2 0 1 0 8.4 0zM267.36 487.00a4.2 4.2 0 1 0 -8.4 0a4.2 4.2 0 1 0 8.4 0zM268.23 487.00a4.2 4.2 0 1 0 -8.4 0a4.2 4.2 0 1 0 8.4 0zM269.09 487.00a4.2 4.2 0 1 0 -8.4 0a4.2 4.2 0 1 0 8.4 0zM269.96 487.00a4.2 4.2 0 1 0 -8.4 0a4.2 4.2 0 1 0 8.4 0zM270.83 487.00a4.2 4.2 0 1 0 -8.4 0a4.2 4.2 0 1 0 8.4 0zM271.70 487.00a4.2 4.2 0 1 0 -8.4 0a4.2 4.2 0 1 0 8.4 0zM272.57 487.00a4.2 4.2 0 1 0 -8.4 0a4.2 4.2 0 1 0 8.4 0zM273.44 487.00a4.2 4.2 0 1 0 -8.4 0a4.2 4.2 0 1 0 8.4 0zM274.30 487.00a4.2 4.2 0 1 0 -8.4 0a4.2 4.2 0 1 0 8.4 0zM275.17 487.00a4.2 4.2 0 1 0 -8.4 0a4.2 4.2 0 1 0 8.4 0zM276.04 487.00a4.2 4.2 0 1 0 -8.4 0a4.2 4.2 0 1 0 8.4 0zM276.91 487.00a4.2 4.2 0 1 0 -8.4 0a4.2 4.2 0 1 0 8.4 0zM277.78 487.00a4.2 4.2 0 1 0 -8.4 0a4.2 4.2 0 1 0 8.4 0zM278.64 487.00a4.2 4.2 0 1 0 -8.4 0a4.2 4.2 0 1 0 8.4 0zM279.51 487.00a4.2 4.2 0 1 0 -8.4 0a4.2 4.2 0 1 0 8.4 0zM280.38 487.00a4.2 4.2 0 1 0 -8.4 0a4.2 4.2 0 1 0 8.4 0zM281.25 487.00a4.2 4.2 0 1 0 -8.4 0a4.2 4.2 0 1 0 8.4 0zM282.12 487.00a4.2 4.2 0 1 0 -8.4 0a4.2 4.2 0 1 0 8.4 0zM282.99 487.00a4.2 4.2 0 1 0 -8.4 0a4.2 4.2 0 1 0 8.4 0zM283.85 487.00a4.2 4.2 0 1 0 -8.4 0a4.2 4.2 0 1 0 8.4 0zM284.72 487.00a4.2 4.2 0 1 0 -8.4 0a4.2 4.2 0 1 0 8.4 0zM285.59 487.00a4.2 4.2 0 1 0 -8.4 0a4.2 4.2 0 1 0 8.4 0zM286.46 487.00a4.2 4.2 0 1 0 -8.4 0a4.2 4.2 0 1 0 8.4 0zM287.33 487.00a4.2 4.2 0 1 0 -8.4 0a4.2 4.2 0 1 0 8.4 0zM288.19 487.00a4.2 4.2 0 1 0 -8.4 0a4.2 4.2 0 1 0 8.4 0zM289.06 487.00a4.2 4.2 0 1 0 -8.4 0a4.2 4.2 0 1 0 8.4 0zM289.93 487.00a4.2 4.2 0 1 0 -8.4 0a4.2 4.2 0 1 0 8.4 0zM290.80 487.00a4.2 4.2 0 1 0 -8.4 0a4.2 4.2 0 1 0 8.4 0zM291.67 487.00a4.2 4.2 0 1 0 -8.4 0a4.2 4.2 0 1 0 8.4 0zM292.53 487.00a4.2 4.2 0 1 0 -8.4 0a4.2 4.2 0 1 0 8.4 0zM293.40 487.00a4.2 4.2 0 1 0 -8.4 0a4.2 4.2 0 1 0 8.4 0zM295.40 455.80a4.2 4.2 0 1 0 -8.4 0a4.2 4.2 0 1 0 8.4 0zM297.90 446.00a4.2 4.2 0 1 0 -8.4 0a4.2 4.2 0 1 0 8.4 0zM299.10 444.10a4.2 4.2 0 1 0 -8.4 0a4.2 4.2 0 1 0 8.4 0zM300.90 432.40a4.2 4.2 0 1 0 -8.4 0a4.2 4.2 0 1 0 8.4 0zM302.20 426.80a4.2 4.2 0 1 0 -8.4 0a4.2 4.2 0 1 0 8.4 0zM305.30 438.50a4.2 4.2 0 1 0 -8.4 0a4.2 4.2 0 1 0 8.4 0zM306.50 437.30a4.2 4.2 0 1 0 -8.4 0a4.2 4.2 0 1 0 8.4 0zM307.50 479.00a4.2 4.2 0 1 0 -8.4 0a4.2 4.2 0 1 0 8.4 0zM309.03 487.00a4.2 4.2 0 1 0 -8.4 0a4.2 4.2 0 1 0 8.4 0zM309.90 487.00a4.2 4.2 0 1 0 -8.4 0a4.2 4.2 0 1 0 8.4 0zM310.77 487.00a4.2 4.2 0 1 0 -8.4 0a4.2 4.2 0 1 0 8.4 0zM311.63 487.00a4.2 4.2 0 1 0 -8.4 0a4.2 4.2 0 1 0 8.4 0zM312.50 487.00a4.2 4.2 0 1 0 -8.4 0a4.2 4.2 0 1 0 8.4 0zM313.37 487.00a4.2 4.2 0 1 0 -8.4 0a4.2 4.2 0 1 0 8.4 0zM314.24 487.00a4.2 4.2 0 1 0 -8.4 0a4.2 4.2 0 1 0 8.4 0zM315.11 487.00a4.2 4.2 0 1 0 -8.4 0a4.2 4.2 0 1 0 8.4 0zM315.97 487.00a4.2 4.2 0 1 0 -8.4 0a4.2 4.2 0 1 0 8.4 0zM316.84 487.00a4.2 4.2 0 1 0 -8.4 0a4.2 4.2 0 1 0 8.4 0zM317.71 487.00a4.2 4.2 0 1 0 -8.4 0a4.2 4.2 0 1 0 8.4 0zM318.58 487.00a4.2 4.2 0 1 0 -8.4 0a4.2 4.2 0 1 0 8.4 0zM319.45 487.00a4.2 4.2 0 1 0 -8.4 0a4.2 4.2 0 1 0 8.4 0zM321.40 476.60a4.2 4.2 0 1 0 -8.4 0a4.2 4.2 0 1 0 8.4 0zM323.40 465.30a4.2 4.2 0 1 0 -8.4 0a4.2 4.2 0 1 0 8.4 0zM322.92 456.61a4.2 4.2 0 1 0 -8.4 0a4.2 4.2 0 1 0 8.4 0zM324.66 455.57a4.2 4.2 0 1 0 -8.4 0a4.2 4.2 0 1 0 8.4 0zM326.39 456.14a4.2 4.2 0 1 0 -8.4 0a4.2 4.2 0 1 0 8.4 0zM328.13 455.08a4.2 4.2 0 1 0 -8.4 0a4.2 4.2 0 1 0 8.4 0zM329.86 454.02a4.2 4.2 0 1 0 -8.4 0a4.2 4.2 0 1 0 8.4 0zM331.60 454.42a4.2 4.2 0 1 0 -8.4 0a4.2 4.2 0 1 0 8.4 0zM333.34 452.79a4.2 4.2 0 1 0 -8.4 0a4.2 4.2 0 1 0 8.4 0zM335.07 452.77a4.2 4.2 0 1 0 -8.4 0a4.2 4.2 0 1 0 8.4 0zM336.81 452.27a4.2 4.2 0 1 0 -8.4 0a4.2 4.2 0 1 0 8.4 0zM338.55 452.05a4.2 4.2 0 1 0 -8.4 0a4.2 4.2 0 1 0 8.4 0zM340.28 454.73a4.2 4.2 0 1 0 -8.4 0a4.2 4.2 0 1 0 8.4 0zM342.02 455.79a4.2 4.2 0 1 0 -8.4 0a4.2 4.2 0 1 0 8.4 0zM343.75 457.01a4.2 4.2 0 1 0 -8.4 0a4.2 4.2 0 1 0 8.4 0zM345.49 456.63a4.2 4.2 0 1 0 -8.4 0a4.2 4.2 0 1 0 8.4 0z" stroke="#0072BD" stroke-width="2.3" fill="none"/>
<text transform="translate(138.50,452.90) scale(1.01,1)" text-anchor="end" font-size="19.4" fill="#262626">200</text>
<text transform="translate(138.50,473.00) scale(1.01,1)" text-anchor="end" font-size="19.4" fill="#262626">100</text>
<text transform="translate(138.50,493.10) scale(1.01,1)" text-anchor="end" font-size="19.4" fill="#262626">0</text>
<path d="M490.50 432.20H698.60M532.27 427.50V487.40M573.94 427.50V487.40M615.61 427.50V487.40M657.28 427.50V487.40" stroke="#dfdfdf" stroke-width="2" fill="none"/>
<path d="M491.70 475.17h1.1v1.9h-1.1zM497.25 475.17h1.1v1.9h-1.1zM502.80 475.17h1.1v1.9h-1.1zM508.35 475.17h1.1v1.9h-1.1zM513.90 475.17h1.1v1.9h-1.1zM519.45 475.17h1.1v1.9h-1.1zM525.00 475.17h1.1v1.9h-1.1zM530.55 475.17h1.1v1.9h-1.1zM536.10 475.17h1.1v1.9h-1.1zM541.65 475.17h1.1v1.9h-1.1zM547.20 475.17h1.1v1.9h-1.1zM552.75 475.17h1.1v1.9h-1.1zM558.30 475.17h1.1v1.9h-1.1zM563.85 475.17h1.1v1.9h-1.1zM569.40 475.17h1.1v1.9h-1.1zM574.95 475.17h1.1v1.9h-1.1zM580.50 475.17h1.1v1.9h-1.1zM586.05 475.17h1.1v1.9h-1.1zM591.60 475.17h1.1v1.9h-1.1zM597.15 475.17h1.1v1.9h-1.1zM602.70 475.17h1.1v1.9h-1.1zM608.25 475.17h1.1v1.9h-1.1zM613.80 475.17h1.1v1.9h-1.1zM619.35 475.17h1.1v1.9h-1.1zM624.90 475.17h1.1v1.9h-1.1zM630.45 475.17h1.1v1.9h-1.1zM636.00 475.17h1.1v1.9h-1.1zM641.55 475.17h1.1v1.9h-1.1zM647.10 475.17h1.1v1.9h-1.1zM652.65 475.17h1.1v1.9h-1.1zM658.20 475.17h1.1v1.9h-1.1zM663.75 475.17h1.1v1.9h-1.1zM669.30 475.17h1.1v1.9h-1.1zM674.85 475.17h1.1v1.9h-1.1zM680.40 475.17h1.1v1.9h-1.1zM685.95 475.17h1.1v1.9h-1.1zM691.50 475.17h1.1v1.9h-1.1zM491.70 464.19h1.1v1.9h-1.1zM497.25 464.19h1.1v1.9h-1.1zM502.80 464.19h1.1v1.9h-1.1zM508.35 464.19h1.1v1.9h-1.1zM513.90 464.19h1.1v1.9h-1.1zM519.45 464.19h1.1v1.9h-1.1zM525.00 464.19h1.1v1.9h-1.1zM530.55 464.19h1.1v1.9h-1.1zM536.10 464.19h1.1v1.9h-1.1zM541.65 464.19h1.1v1.9h-1.1zM547.20 464.19h1.1v1.9h-1.1zM552.75 464.19h1.1v1.9h-1.1zM558.30 464.19h1.1v1.9h-1.1zM563.85 464.19h1.1v1.9h-1.1zM569.40 464.19h1.1v1.9h-1.1zM574.95 464.19h1.1v1.9h-1.1zM580.50 464.19h1.1v1.9h-1.1zM586.05 464.19h1.1v1.9h-1.1zM591.60 464.19h1.1v1.9h-1.1zM597.15 464.19h1.1v1.9h-1.1zM602.70 464.19h1.1v1.9h-1.1zM608.25 464.19h1.1v1.9h-1.1zM613.80 464.19h1.1v1.9h-1.1zM619.35 464.19h1.1v1.9h-1.1zM624.90 464.19h1.1v1.9h-1.1zM630.45 464.19h1.1v1.9h-1.1zM636.00 464.19h1.1v1.9h-1.1zM641.55 464.19h1.1v1.9h-1.1zM647.10 464.19h1.1v1.9h-1.1zM652.65 464.19h1.1v1.9h-1.1zM658.20 464.19h1.1v1.9h-1.1zM663.75 464.19h1.1v1.9h-1.1zM669.30 464.19h1.1v1.9h-1.1zM674.85 464.19h1.1v1.9h-1.1zM680.40 464.19h1.1v1.9h-1.1zM685.95 464.19h1.1v1.9h-1.1zM691.50 464.19h1.1v1.9h-1.1zM491.70 453.21h1.1v1.9h-1.1zM497.25 453.21h1.1v1.9h-1.1zM502.80 453.21h1.1v1.9h-1.1zM508.35 453.21h1.1v1.9h-1.1zM513.90 453.21h1.1v1.9h-1.1zM519.45 453.21h1.1v1.9h-1.1zM525.00 453.21h1.1v1.9h-1.1zM530.55 453.21h1.1v1.9h-1.1zM536.10 453.21h1.1v1.9h-1.1zM541.65 453.21h1.1v1.9h-1.1zM547.20 453.21h1.1v1.9h-1.1zM552.75 453.21h1.1v1.9h-1.1zM558.30 453.21h1.1v1.9h-1.1zM563.85 453.21h1.1v1.9h-1.1zM569.40 453.21h1.1v1.9h-1.1zM574.95 453.21h1.1v1.9h-1.1zM580.50 453.21h1.1v1.9h-1.1zM586.05 453.21h1.1v1.9h-1.1zM591.60 453.21h1.1v1.9h-1.1zM597.15 453.21h1.1v1.9h-1.1zM602.70 453.21h1.1v1.9h-1.1zM608.25 453.21h1.1v1.9h-1.1zM613.80 453.21h1.1v1.9h-1.1zM619.35 453.21h1.1v1.9h-1.1zM624.90 453.21h1.1v1.9h-1.1zM630.45 453.21h1.1v1.9h-1.1zM636.00 453.21h1.1v1.9h-1.1zM641.55 453.21h1.1v1.9h-1.1zM647.10 453.21h1.1v1.9h-1.1zM652.65 453.21h1.1v1.9h-1.1zM658.20 453.21h1.1v1.9h-1.1zM663.75 453.21h1.1v1.9h-1.1zM669.30 453.21h1.1v1.9h-1.1zM674.85 453.21h1.1v1.9h-1.1zM680.40 453.21h1.1v1.9h-1.1zM685.95 453.21h1.1v1.9h-1.1zM691.50 453.21h1.1v1.9h-1.1zM491.70 442.23h1.1v1.9h-1.1zM497.25 442.23h1.1v1.9h-1.1zM502.80 442.23h1.1v1.9h-1.1zM508.35 442.23h1.1v1.9h-1.1zM513.90 442.23h1.1v1.9h-1.1zM519.45 442.23h1.1v1.9h-1.1zM525.00 442.23h1.1v1.9h-1.1zM530.55 442.23h1.1v1.9h-1.1zM536.10 442.23h1.1v1.9h-1.1zM541.65 442.23h1.1v1.9h-1.1zM547.20 442.23h1.1v1.9h-1.1zM552.75 442.23h1.1v1.9h-1.1zM558.30 442.23h1.1v1.9h-1.1zM563.85 442.23h1.1v1.9h-1.1zM569.40 442.23h1.1v1.9h-1.1zM574.95 442.23h1.1v1.9h-1.1zM580.50 442.23h1.1v1.9h-1.1zM586.05 442.23h1.1v1.9h-1.1zM591.60 442.23h1.1v1.9h-1.1zM597.15 442.23h1.1v1.9h-1.1zM602.70 442.23h1.1v1.9h-1.1zM608.25 442.23h1.1v1.9h-1.1zM613.80 442.23h1.1v1.9h-1.1zM619.35 442.23h1.1v1.9h-1.1zM624.90 442.23h1.1v1.9h-1.1zM630.45 442.23h1.1v1.9h-1.1zM636.00 442.23h1.1v1.9h-1.1zM641.55 442.23h1.1v1.9h-1.1zM647.10 442.23h1.1v1.9h-1.1zM652.65 442.23h1.1v1.9h-1.1zM658.20 442.23h1.1v1.9h-1.1zM663.75 442.23h1.1v1.9h-1.1zM669.30 442.23h1.1v1.9h-1.1zM674.85 442.23h1.1v1.9h-1.1zM680.40 442.23h1.1v1.9h-1.1zM685.95 442.23h1.1v1.9h-1.1zM691.50 442.23h1.1v1.9h-1.1z" fill="#a4a4a4"/>
<path d="M490.50 487.10h3.3M698.60 487.10h-3.3M490.50 432.20h3.3M698.60 432.20h-3.3M532.27 487.40v-3.3M532.27 427.50v3.3M573.94 487.40v-3.3M573.94 427.50v3.3M615.61 487.40v-3.3M615.61 427.50v3.3M657.28 487.40v-3.3M657.28 427.50v3.3" stroke="#262626" stroke-width="2" fill="none"/>
<rect x="490.5" y="427.5" width="208.10" height="59.90" stroke="#262626" stroke-width="2" fill="none"/>
<path d="M520.50 434.00a4.2 4.2 0 1 0 -8.4 0a4.2 4.2 0 1 0 8.4 0zM522.60 436.90a4.2 4.2 0 1 0 -8.4 0a4.2 4.2 0 1 0 8.4 0zM524.10 439.40a4.2 4.2 0 1 0 -8.4 0a4.2 4.2 0 1 0 8.4 0zM525.70 443.00a4.2 4.2 0 1 0 -8.4 0a4.2 4.2 0 1 0 8.4 0zM527.70 456.50a4.2 4.2 0 1 0 -8.4 0a4.2 4.2 0 1 0 8.4 0zM529.10 470.60a4.2 4.2 0 1 0 -8.4 0a4.2 4.2 0 1 0 8.4 0zM531.26 485.72a4.2 4.2 0 1 0 -8.4 0a4.2 4.2 0 1 0 8.4 0zM532.13 486.34a4.2 4.2 0 1 0 -8.4 0a4.2 4.2 0 1 0 8.4 0zM533.00 485.96a4.2 4.2 0 1 0 -8.4 0a4.2 4.2 0 1 0 8.4 0zM533.87 485.58a4.2 4.2 0 1 0 -8.4 0a4.2 4.2 0 1 0 8.4 0zM534.73 486.19a4.2 4.2 0 1 0 -8.4 0a4.2 4.2 0 1 0 8.4 0zM535.60 485.81a4.2 4.2 0 1 0 -8.4 0a4.2 4.2 0 1 0 8.4 0zM536.47 486.43a4.2 4.2 0 1 0 -8.4 0a4.2 4.2 0 1 0 8.4 0zM537.34 486.05a4.2 4.2 0 1 0 -8.4 0a4.2 4.2 0 1 0 8.4 0zM538.21 485.67a4.2 4.2 0 1 0 -8.4 0a4.2 4.2 0 1 0 8.4 0zM539.07 486.28a4.2 4.2 0 1 0 -8.4 0a4.2 4.2 0 1 0 8.4 0zM539.94 485.90a4.2 4.2 0 1 0 -8.4 0a4.2 4.2 0 1 0 8.4 0zM540.81 485.52a4.2 4.2 0 1 0 -8.4 0a4.2 4.2 0 1 0 8.4 0zM541.68 486.14a4.2 4.2 0 1 0 -8.4 0a4.2 4.2 0 1 0 8.4 0zM542.55 485.76a4.2 4.2 0 1 0 -8.4 0a4.2 4.2 0 1 0 8.4 0zM543.42 486.37a4.2 4.2 0 1 0 -8.4 0a4.2 4.2 0 1 0 8.4 0zM544.28 485.98a4.2 4.2 0 1 0 -8.4 0a4.2 4.2 0 1 0 8.4 0zM545.15 485.43a4.2 4.2 0 1 0 -8.4 0a4.2 4.2 0 1 0 8.4 0zM546.02 485.87a4.2 4.2 0 1 0 -8.4 0a4.2 4.2 0 1 0 8.4 0zM546.89 485.32a4.2 4.2 0 1 0 -8.4 0a4.2 4.2 0 1 0 8.4 0zM547.76 485.77a4.2 4.2 0 1 0 -8.4 0a4.2 4.2 0 1 0 8.4 0zM550.70 479.00a4.2 4.2 0 1 0 -8.4 0a4.2 4.2 0 1 0 8.4 0zM553.20 475.40a4.2 4.2 0 1 0 -8.4 0a4.2 4.2 0 1 0 8.4 0zM555.60 469.30a4.2 4.2 0 1 0 -8.4 0a4.2 4.2 0 1 0 8.4 0zM556.80 463.20a4.2 4.2 0 1 0 -8.4 0a4.2 4.2 0 1 0 8.4 0zM559.30 451.00a4.2 4.2 0 1 0 -8.4 0a4.2 4.2 0 1 0 8.4 0zM560.50 440.00a4.2 4.2 0 1 0 -8.4 0a4.2 4.2 0 1 0 8.4 0zM561.70 426.50a4.2 4.2 0 1 0 -8.4 0a4.2 4.2 0 1 0 8.4 0zM563.00 429.00a4.2 4.2 0 1 0 -8.4 0a4.2 4.2 0 1 0 8.4 0zM564.20 431.40a4.2 4.2 0 1 0 -8.4 0a4.2 4.2 0 1 0 8.4 0zM565.40 436.30a4.2 4.2 0 1 0 -8.4 0a4.2 4.2 0 1 0 8.4 0zM566.60 440.00a4.2 4.2 0 1 0 -8.4 0a4.2 4.2 0 1 0 8.4 0zM567.80 443.60a4.2 4.2 0 1 0 -8.4 0a4.2 4.2 0 1 0 8.4 0zM569.00 457.10a4.2 4.2 0 1 0 -8.4 0a4.2 4.2 0 1 0 8.4 0zM570.70 471.70a4.2 4.2 0 1 0 -8.4 0a4.2 4.2 0 1 0 8.4 0zM572.93 486.44a4.2 4.2 0 1 0 -8.4 0a4.2 4.2 0 1 0 8.4 0zM574.67 485.90a4.2 4.2 0 1 0 -8.4 0a4.2 4.2 0 1 0 8.4 0zM576.40 486.56a4.2 4.2 0 1 0 -8.4 0a4.2 4.2 0 1 0 8.4 0zM578.14 486.02a4.2 4.2 0 1 0 -8.4 0a4.2 4.2 0 1 0 8.4 0zM579.88 485.48a4.2 4.2 0 1 0 -8.4 0a4.2 4.2 0 1 0 8.4 0zM581.61 486.12a4.2 4.2 0 1 0 -8.4 0a4.2 4.2 0 1 0 8.4 0zM583.35 485.55a4.2 4.2 0 1 0 -8.4 0a4.2 4.2 0 1 0 8.4 0zM585.09 486.19a4.2 4.2 0 1 0 -8.4 0a4.2 4.2 0 1 0 8.4 0zM586.82 485.62a4.2 4.2 0 1 0 -8.4 0a4.2 4.2 0 1 0 8.4 0zM588.56 484.66a4.2 4.2 0 1 0 -8.4 0a4.2 4.2 0 1 0 8.4 0zM590.29 483.37a4.2 4.2 0 1 0 -8.4 0a4.2 4.2 0 1 0 8.4 0zM592.03 479.78a4.2 4.2 0 1 0 -8.4 0a4.2 4.2 0 1 0 8.4 0zM593.77 476.66a4.2 4.2 0 1 0 -8.4 0a4.2 4.2 0 1 0 8.4 0zM595.50 473.30a4.2 4.2 0 1 0 -8.4 0a4.2 4.2 0 1 0 8.4 0zM597.24 471.81a4.2 4.2 0 1 0 -8.4 0a4.2 4.2 0 1 0 8.4 0zM598.98 472.77a4.2 4.2 0 1 0 -8.4 0a4.2 4.2 0 1 0 8.4 0zM600.71 472.15a4.2 4.2 0 1 0 -8.4 0a4.2 4.2 0 1 0 8.4 0zM602.45 470.60a4.2 4.2 0 1 0 -8.4 0a4.2 4.2 0 1 0 8.4 0zM604.18 470.26a4.2 4.2 0 1 0 -8.4 0a4.2 4.2 0 1 0 8.4 0zM605.92 466.53a4.2 4.2 0 1 0 -8.4 0a4.2 4.2 0 1 0 8.4 0zM609.30 465.60a4.2 4.2 0 1 0 -8.4 0a4.2 4.2 0 1 0 8.4 0zM611.80 474.20a4.2 4.2 0 1 0 -8.4 0a4.2 4.2 0 1 0 8.4 0zM613.00 480.30a4.2 4.2 0 1 0 -8.4 0a4.2 4.2 0 1 0 8.4 0zM614.60 486.91a4.2 4.2 0 1 0 -8.4 0a4.2 4.2 0 1 0 8.4 0zM615.47 486.40a4.2 4.2 0 1 0 -8.4 0a4.2 4.2 0 1 0 8.4 0zM616.34 485.89a4.2 4.2 0 1 0 -8.4 0a4.2 4.2 0 1 0 8.4 0zM617.21 486.58a4.2 4.2 0 1 0 -8.4 0a4.2 4.2 0 1 0 8.4 0zM618.07 486.07a4.2 4.2 0 1 0 -8.4 0a4.2 4.2 0 1 0 8.4 0zM618.94 485.56a4.2 4.2 0 1 0 -8.4 0a4.2 4.2 0 1 0 8.4 0zM619.81 486.25a4.2 4.2 0 1 0 -8.4 0a4.2 4.2 0 1 0 8.4 0zM620.68 485.74a4.2 4.2 0 1 0 -8.4 0a4.2 4.2 0 1 0 8.4 0zM621.55 486.42a4.2 4.2 0 1 0 -8.4 0a4.2 4.2 0 1 0 8.4 0zM622.41 485.91a4.2 4.2 0 1 0 -8.4 0a4.2 4.2 0 1 0 8.4 0zM623.28 485.40a4.2 4.2 0 1 0 -8.4 0a4.2 4.2 0 1 0 8.4 0zM624.15 486.09a4.2 4.2 0 1 0 -8.4 0a4.2 4.2 0 1 0 8.4 0zM625.02 485.58a4.2 4.2 0 1 0 -8.4 0a4.2 4.2 0 1 0 8.4 0zM625.89 486.27a4.2 4.2 0 1 0 -8.4 0a4.2 4.2 0 1 0 8.4 0zM626.76 485.76a4.2 4.2 0 1 0 -8.4 0a4.2 4.2 0 1 0 8.4 0zM627.62 485.25a4.2 4.2 0 1 0 -8.4 0a4.2 4.2 0 1 0 8.4 0zM628.49 485.94a4.2 4.2 0 1 0 -8.4 0a4.2 4.2 0 1 0 8.4 0zM629.36 485.38a4.2 4.2 0 1 0 -8.4 0a4.2 4.2 0 1 0 8.4 0zM630.23 484.62a4.2 4.2 0 1 0 -8.4 0a4.2 4.2 0 1 0 8.4 0zM631.10 485.05a4.2 4.2 0 1 0 -8.4 0a4.2 4.2 0 1 0 8.4 0zM631.96 484.28a4.2 4.2 0 1 0 -8.4 0a4.2 4.2 0 1 0 8.4 0zM632.83 484.71a4.2 4.2 0 1 0 -8.4 0a4.2 4.2 0 1 0 8.4 0zM633.70 483.94a4.2 4.2 0 1 0 -8.4 0a4.2 4.2 0 1 0 8.4 0zM634.57 483.17a4.2 4.2 0 1 0 -8.4 0a4.2 4.2 0 1 0 8.4 0zM635.44 483.60a4.2 4.2 0 1 0 -8.4 0a4.2 4.2 0 1 0 8.4 0zM636.30 482.84a4.2 4.2 0 1 0 -8.4 0a4.2 4.2 0 1 0 8.4 0zM637.17 482.15a4.2 4.2 0 1 0 -8.4 0a4.2 4.2 0 1 0 8.4 0zM638.04 482.65a4.2 4.2 0 1 0 -8.4 0a4.2 4.2 0 1 0 8.4 0zM638.91 481.96a4.2 4.2 0 1 0 -8.4 0a4.2 4.2 0 1 0 8.4 0zM639.78 482.46a4.2 4.2 0 1 0 -8.4 0a4.2 4.2 0 1 0 8.4 0zM640.65 481.76a4.2 4.2 0 1 0 -8.4 0a4.2 4.2 0 1 0 8.4 0zM641.51 481.07a4.2 4.2 0 1 0 -8.4 0a4.2 4.2 0 1 0 8.4 0zM642.38 481.57a4.2 4.2 0 1 0 -8.4 0a4.2 4.2 0 1 0 8.4 0zM643.25 480.88a4.2 4.2 0 1 0 -8.4 0a4.2 4.2 0 1 0 8.4 0zM644.12 481.73a4.2 4.2 0 1 0 -8.4 0a4.2 4.2 0 1 0 8.4 0zM644.99 481.53a4.2 4.2 0 1 0 -8.4 0a4.2 4.2 0 1 0 8.4 0zM645.85 481.33a4.2 4.2 0 1 0 -8.4 0a4.2 4.2 0 1 0 8.4 0zM646.72 482.33a4.2 4.2 0 1 0 -8.4 0a4.2 4.2 0 1 0 8.4 0zM647.59 482.14a4.2 4.2 0 1 0 -8.4 0a4.2 4.2 0 1 0 8.4 0zM648.46 481.94a4.2 4.2 0 1 0 -8.4 0a4.2 4.2 0 1 0 8.4 0zM649.33 482.94a4.2 4.2 0 1 0 -8.4 0a4.2 4.2 0 1 0 8.4 0zM650.19 482.74a4.2 4.2 0 1 0 -8.4 0a4.2 4.2 0 1 0 8.4 0zM651.06 483.72a4.2 4.2 0 1 0 -8.4 0a4.2 4.2 0 1 0 8.4 0zM651.93 483.50a4.2 4.2 0 1 0 -8.4 0a4.2 4.2 0 1 0 8.4 0zM652.80 483.29a4.2 4.2 0 1 0 -8.4 0a4.2 4.2 0 1 0 8.4 0zM653.67 484.27a4.2 4.2 0 1 0 -8.4 0a4.2 4.2 0 1 0 8.4 0zM654.54 484.05a4.2 4.2 0 1 0 -8.4 0a4.2 4.2 0 1 0 8.4 0zM655.40 485.03a4.2 4.2 0 1 0 -8.4 0a4.2 4.2 0 1 0 8.4 0zM656.27 484.82a4.2 4.2 0 1 0 -8.4 0a4.2 4.2 0 1 0 8.4 0zM657.14 484.60a4.2 4.2 0 1 0 -8.4 0a4.2 4.2 0 1 0 8.4 0zM658.01 485.58a4.2 4.2 0 1 0 -8.4 0a4.2 4.2 0 1 0 8.4 0zM658.88 485.37a4.2 4.2 0 1 0 -8.4 0a4.2 4.2 0 1 0 8.4 0zM659.74 485.04a4.2 4.2 0 1 0 -8.4 0a4.2 4.2 0 1 0 8.4 0zM660.61 485.85a4.2 4.2 0 1 0 -8.4 0a4.2 4.2 0 1 0 8.4 0zM661.48 485.46a4.2 4.2 0 1 0 -8.4 0a4.2 4.2 0 1 0 8.4 0zM662.35 486.27a4.2 4.2 0 1 0 -8.4 0a4.2 4.2 0 1 0 8.4 0zM663.22 485.88a4.2 4.2 0 1 0 -8.4 0a4.2 4.2 0 1 0 8.4 0zM664.08 485.49a4.2 4.2 0 1 0 -8.4 0a4.2 4.2 0 1 0 8.4 0zM664.95 486.30a4.2 4.2 0 1 0 -8.4 0a4.2 4.2 0 1 0 8.4 0zM665.82 485.90a4.2 4.2 0 1 0 -8.4 0a4.2 4.2 0 1 0 8.4 0zM666.69 485.51a4.2 4.2 0 1 0 -8.4 0a4.2 4.2 0 1 0 8.4 0zM667.56 486.32a4.2 4.2 0 1 0 -8.4 0a4.2 4.2 0 1 0 8.4 0zM668.43 485.82a4.2 4.2 0 1 0 -8.4 0a4.2 4.2 0 1 0 8.4 0zM669.29 486.22a4.2 4.2 0 1 0 -8.4 0a4.2 4.2 0 1 0 8.4 0zM670.16 485.41a4.2 4.2 0 1 0 -8.4 0a4.2 4.2 0 1 0 8.4 0zM671.03 484.61a4.2 4.2 0 1 0 -8.4 0a4.2 4.2 0 1 0 8.4 0zM673.63 479.50a4.2 4.2 0 1 0 -8.4 0a4.2 4.2 0 1 0 8.4 0zM675.37 476.39a4.2 4.2 0 1 0 -8.4 0a4.2 4.2 0 1 0 8.4 0zM677.11 475.48a4.2 4.2 0 1 0 -8.4 0a4.2 4.2 0 1 0 8.4 0zM678.84 473.98a4.2 4.2 0 1 0 -8.4 0a4.2 4.2 0 1 0 8.4 0zM682.00 473.50a4.2 4.2 0 1 0 -8.4 0a4.2 4.2 0 1 0 8.4 0zM683.80 474.20a4.2 4.2 0 1 0 -8.4 0a4.2 4.2 0 1 0 8.4 0zM686.20 477.80a4.2 4.2 0 1 0 -8.4 0a4.2 4.2 0 1 0 8.4 0zM687.50 480.30a4.2 4.2 0 1 0 -8.4 0a4.2 4.2 0 1 0 8.4 0z" stroke="#0072BD" stroke-width="2.3" fill="none"/>
<text transform="translate(481.50,438.70) scale(1.01,1)" text-anchor="end" font-size="19.4" fill="#262626">500</text>
<text transform="translate(481.50,493.60) scale(1.01,1)" text-anchor="end" font-size="19.4" fill="#262626">0</text>
<text transform="translate(84.30,74.75) rotate(-90)" text-anchor="middle" font-size="20.8" fill="#262626" textLength="101.3" lengthAdjust="spacingAndGlyphs">PRESSURE</text>
<text transform="translate(438.00,74.45) rotate(-90)" text-anchor="middle" font-size="20.8" fill="#262626" textLength="65.3" lengthAdjust="spacingAndGlyphs">THETA</text>
<text transform="translate(445.40,201.90) rotate(-90)" text-anchor="middle" font-size="20.8" fill="#262626" textLength="96.2" lengthAdjust="spacingAndGlyphs">RAINFALL</text>
<text transform="translate(84.30,330.15) rotate(-90)" text-anchor="middle" font-size="20.8" fill="#262626" textLength="106.5" lengthAdjust="spacingAndGlyphs">MIXDEPTH</text>
<text transform="translate(460.10,329.65) rotate(-90)" text-anchor="middle" font-size="20.8" fill="#262626" textLength="110" lengthAdjust="spacingAndGlyphs">H2OMIXRA</text>
<text transform="translate(86.40,201.20) rotate(-90)" text-anchor="middle" font-size="20.8" fill="#262626" textLength="88.8" lengthAdjust="spacingAndGlyphs">AIR<tspan font-size="16.5" dy="9.3">T</tspan><tspan dy="-9.3">EMP</tspan></text>
<text transform="translate(86.35,457.45) rotate(-90)" text-anchor="middle" font-size="20.8" fill="#262626" textLength="89.6" lengthAdjust="spacingAndGlyphs">TERR<tspan font-size="16.5" dy="9.3">M</tspan><tspan dy="-9.3">SL</tspan></text>
<text transform="translate(398.00,457.25) rotate(-90)" text-anchor="middle" font-size="20.8" fill="#262626" textLength="93" lengthAdjust="spacingAndGlyphs">SUN<tspan font-size="16.5" dy="9.3">F</tspan><tspan dy="-9.3">LUX</tspan></text>
<text x="251.5" y="31.6" text-anchor="middle" font-size="21" font-weight="bold" fill="#000" textLength="179.5" lengthAdjust="spacingAndGlyphs">Figure 2 medium</text>
<text transform="translate(160.23,510.20) rotate(-45) scale(0.98,1)" text-anchor="end" font-size="20.2" fill="#262626">02/24</text>
<text transform="translate(201.90,510.20) rotate(-45) scale(0.98,1)" text-anchor="end" font-size="20.2" fill="#262626">02/25</text>
<text transform="translate(243.57,510.20) rotate(-45) scale(0.98,1)" text-anchor="end" font-size="20.2" fill="#262626">02/26</text>
<text transform="translate(285.24,510.20) rotate(-45) scale(0.98,1)" text-anchor="end" font-size="20.2" fill="#262626">02/27</text>
<text transform="translate(326.91,510.20) rotate(-45) scale(0.98,1)" text-anchor="end" font-size="20.2" fill="#262626">02/28</text>
<text transform="translate(368.58,510.20) rotate(-45) scale(0.98,1)" text-anchor="end" font-size="20.2" fill="#262626">03/01</text>
<text x="250.95" y="576" text-anchor="middle" font-size="20.8" fill="#262626" textLength="50" lengthAdjust="spacingAndGlyphs">Time</text>
<text transform="translate(504.00,510.20) rotate(-45) scale(0.98,1)" text-anchor="end" font-size="20.2" fill="#262626">02/24</text>
<text transform="translate(545.67,510.20) rotate(-45) scale(0.98,1)" text-anchor="end" font-size="20.2" fill="#262626">02/25</text>
<text transform="translate(587.34,510.20) rotate(-45) scale(0.98,1)" text-anchor="end" font-size="20.2" fill="#262626">02/26</text>
<text transform="translate(629.01,510.20) rotate(-45) scale(0.98,1)" text-anchor="end" font-size="20.2" fill="#262626">02/27</text>
<text transform="translate(670.68,510.20) rotate(-45) scale(0.98,1)" text-anchor="end" font-size="20.2" fill="#262626">02/28</text>
<text transform="translate(712.35,510.20) rotate(-45) scale(0.98,1)" text-anchor="end" font-size="20.2" fill="#262626">03/01</text>
<text x="594.55" y="576" text-anchor="middle" font-size="20.8" fill="#262626" textLength="50" lengthAdjust="spacingAndGlyphs">Time</text>
</svg>
</body></html>
